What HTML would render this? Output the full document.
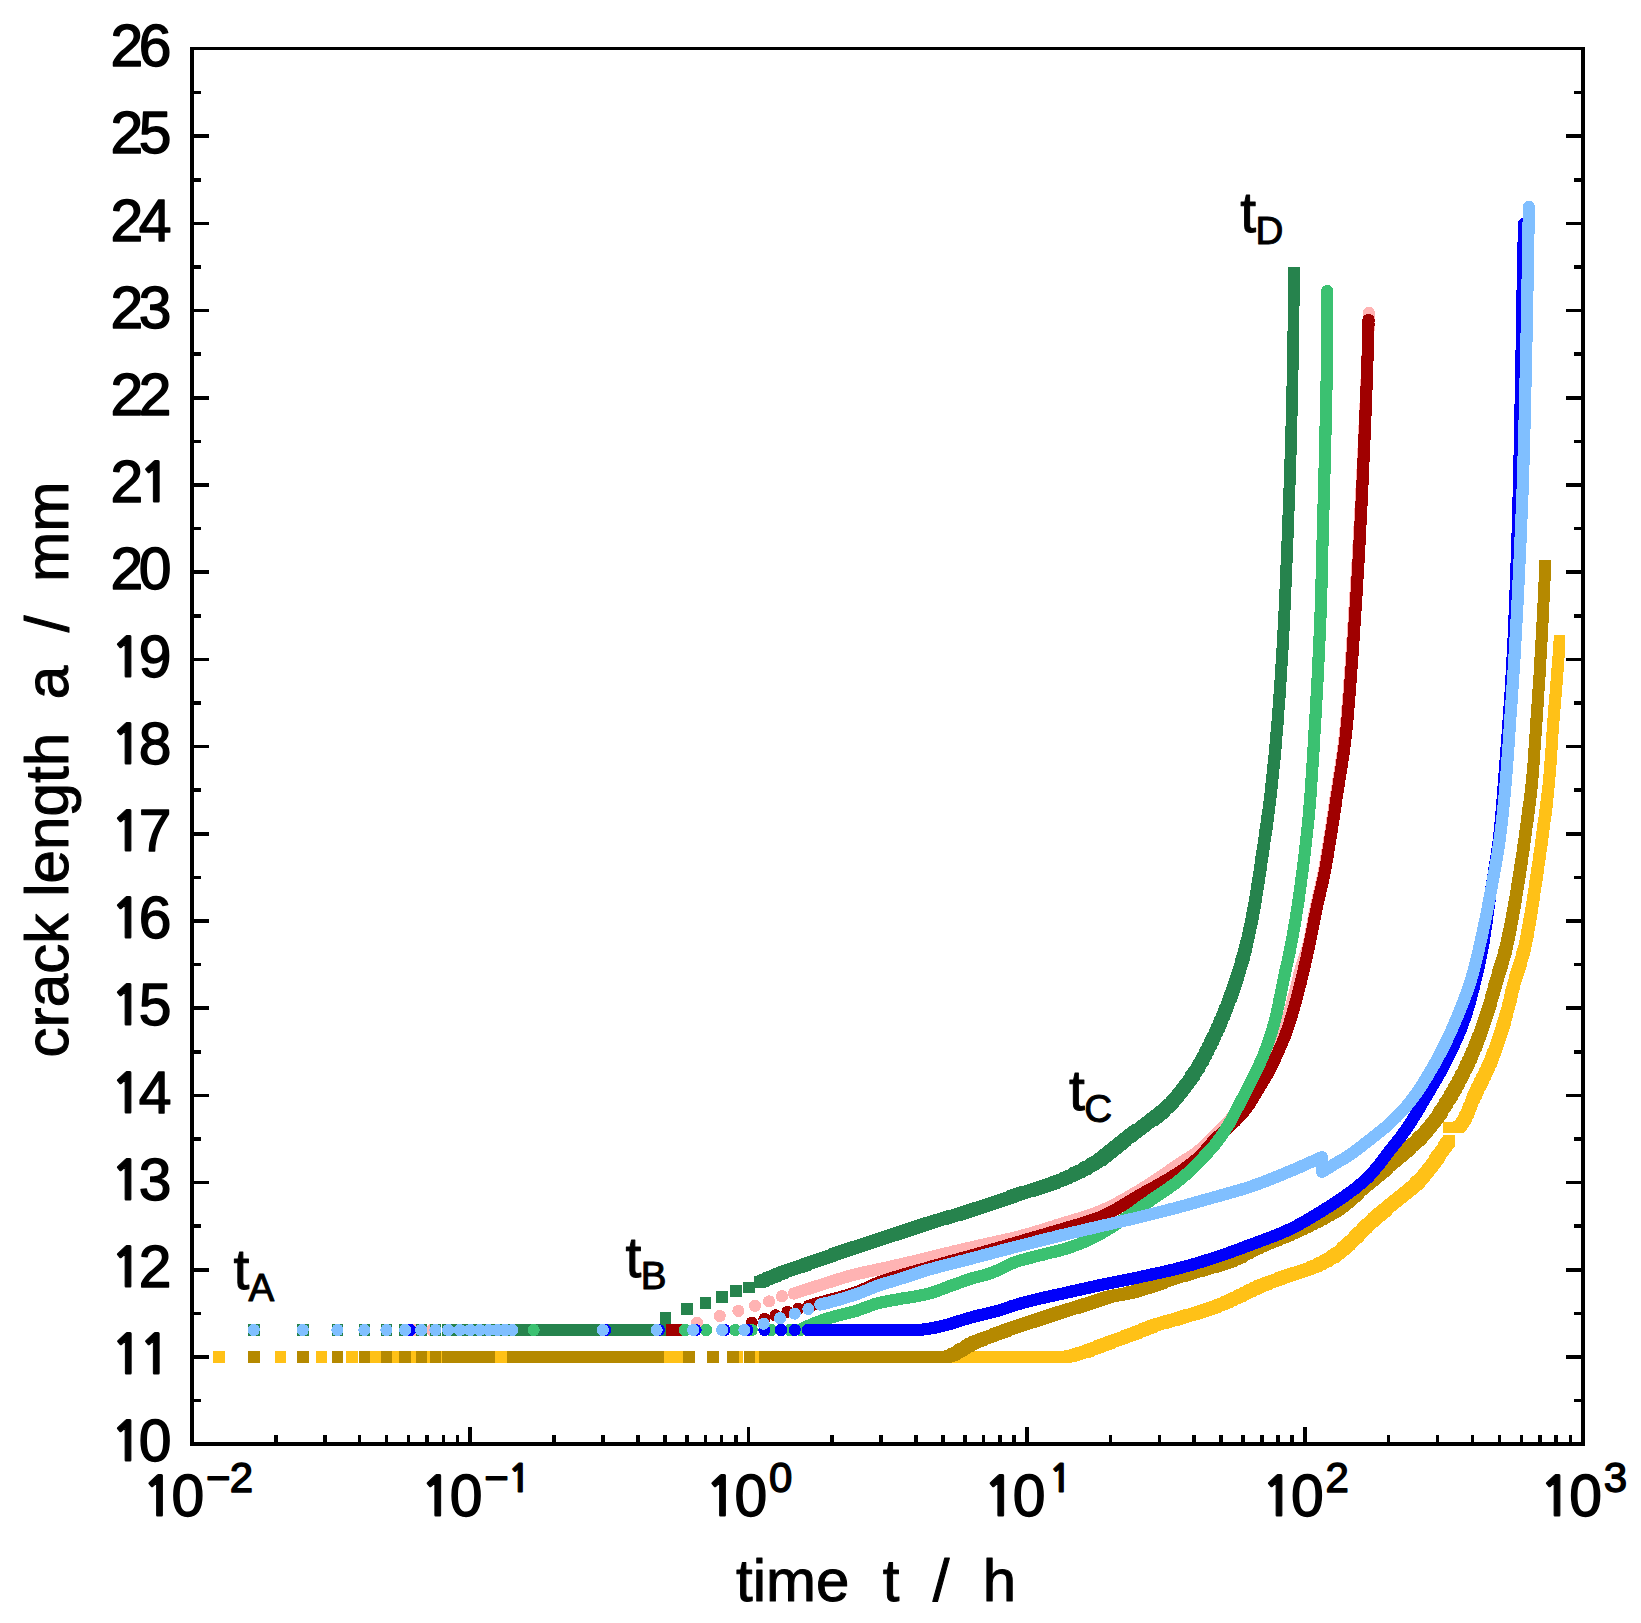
<!DOCTYPE html>
<html lang="en"><head><meta charset="utf-8"><title>crack length vs time</title>
<style>html,body{margin:0;padding:0;background:#fff}svg{display:block}</style></head>
<body>
<svg width="1641" height="1623" viewBox="0 0 1641 1623">
<rect width="1641" height="1623" fill="#fff"/>
<g shape-rendering="crispEdges">
<path d="M213.2,1351.2h11.5v11.5h-11.5zM274.9,1351.2h11.5v11.5h-11.5zM315.6,1351.2h11.5v11.5h-11.5zM346.0,1351.2h11.5v11.5h-11.5zM370.2,1351.2h11.5v11.5h-11.5zM390.4,1351.2h11.5v11.5h-11.5zM407.7,1351.2h11.5v11.5h-11.5zM422.8,1351.2h11.5v11.5h-11.5zM436.2,1351.2h11.5v11.5h-11.5zM448.3,1351.2h11.5v11.5h-11.5zM459.3,1351.2h11.5v11.5h-11.5zM469.4,1351.2h11.5v11.5h-11.5zM478.7,1351.2h11.5v11.5h-11.5zM487.3,1351.2h11.5v11.5h-11.5zM495.4,1351.2h11.5v11.5h-11.5zM502.9,1351.2h11.5v11.5h-11.5zM510.1,1351.2h11.5v11.5h-11.5zM516.8,1351.2h11.5v11.5h-11.5zM523.1,1351.2h11.5v11.5h-11.5zM529.2,1351.2h11.5v11.5h-11.5zM534.9,1351.2h11.5v11.5h-11.5zM540.4,1351.2h11.5v11.5h-11.5zM545.7,1351.2h11.5v11.5h-11.5zM550.7,1351.2h11.5v11.5h-11.5zM555.5,1351.2h11.5v11.5h-11.5zM560.2,1351.2h11.5v11.5h-11.5zM564.7,1351.2h11.5v11.5h-11.5zM569.0,1351.2h11.5v11.5h-11.5zM573.2,1351.2h11.5v11.5h-11.5zM577.2,1351.2h11.5v11.5h-11.5zM581.1,1351.2h11.5v11.5h-11.5zM584.9,1351.2h11.5v11.5h-11.5zM588.5,1351.2h11.5v11.5h-11.5zM592.1,1351.2h11.5v11.5h-11.5zM595.5,1351.2h11.5v11.5h-11.5zM598.9,1351.2h11.5v11.5h-11.5zM602.1,1351.2h11.5v11.5h-11.5zM605.3,1351.2h11.5v11.5h-11.5zM608.4,1351.2h11.5v11.5h-11.5zM611.4,1351.2h11.5v11.5h-11.5zM614.4,1351.2h11.5v11.5h-11.5zM617.3,1351.2h11.5v11.5h-11.5zM620.1,1351.2h11.5v11.5h-11.5zM622.8,1351.2h11.5v11.5h-11.5zM625.5,1351.2h11.5v11.5h-11.5zM628.1,1351.2h11.5v11.5h-11.5zM630.7,1351.2h11.5v11.5h-11.5zM633.2,1351.2h11.5v11.5h-11.5zM635.7,1351.2h11.5v11.5h-11.5zM638.1,1351.2h11.5v11.5h-11.5zM640.5,1351.2h11.5v11.5h-11.5zM642.8,1351.2h11.5v11.5h-11.5zM645.1,1351.2h11.5v11.5h-11.5zM647.3,1351.2h11.5v11.5h-11.5zM649.5,1351.2h11.5v11.5h-11.5zM651.7,1351.2h11.5v11.5h-11.5zM653.8,1351.2h11.5v11.5h-11.5zM655.9,1351.2h11.5v11.5h-11.5zM657.9,1351.2h11.5v11.5h-11.5zM665.0,1351.2h11.5v11.5h-11.5zM671.8,1351.2h11.5v11.5h-11.5zM731.0,1351.2h11.5v11.5h-11.5zM747.5,1351.2h11.5v11.5h-11.5z" fill="#FFC117"/>
<path d="M766.2,1351.2h11.5v11.5h-11.5zM767.9,1351.2h11.5v11.5h-11.5zM769.5,1351.2h11.5v11.5h-11.5zM771.1,1351.2h11.5v11.5h-11.5zM772.7,1351.2h11.5v11.5h-11.5zM774.3,1351.2h11.5v11.5h-11.5zM775.9,1351.2h11.5v11.5h-11.5zM777.5,1351.2h11.5v11.5h-11.5zM779.1,1351.2h11.5v11.5h-11.5zM780.7,1351.2h11.5v11.5h-11.5zM782.3,1351.2h11.5v11.5h-11.5zM783.9,1351.2h11.5v11.5h-11.5zM785.5,1351.2h11.5v11.5h-11.5zM787.1,1351.2h11.5v11.5h-11.5zM788.7,1351.2h11.5v11.5h-11.5zM790.3,1351.2h11.5v11.5h-11.5zM791.9,1351.2h11.5v11.5h-11.5zM793.5,1351.2h11.5v11.5h-11.5zM795.1,1351.2h11.5v11.5h-11.5zM796.7,1351.2h11.5v11.5h-11.5zM798.3,1351.2h11.5v11.5h-11.5zM799.9,1351.2h11.5v11.5h-11.5zM801.5,1351.2h11.5v11.5h-11.5zM803.1,1351.2h11.5v11.5h-11.5zM804.7,1351.2h11.5v11.5h-11.5zM806.3,1351.2h11.5v11.5h-11.5zM807.9,1351.2h11.5v11.5h-11.5zM809.5,1351.2h11.5v11.5h-11.5zM811.1,1351.2h11.5v11.5h-11.5zM812.7,1351.2h11.5v11.5h-11.5zM814.3,1351.2h11.5v11.5h-11.5zM815.9,1351.2h11.5v11.5h-11.5zM817.5,1351.2h11.5v11.5h-11.5zM819.1,1351.2h11.5v11.5h-11.5zM820.7,1351.2h11.5v11.5h-11.5zM822.3,1351.2h11.5v11.5h-11.5zM823.9,1351.2h11.5v11.5h-11.5zM825.5,1351.2h11.5v11.5h-11.5zM827.1,1351.2h11.5v11.5h-11.5zM828.7,1351.2h11.5v11.5h-11.5zM830.3,1351.2h11.5v11.5h-11.5zM831.9,1351.2h11.5v11.5h-11.5zM833.5,1351.2h11.5v11.5h-11.5zM835.1,1351.2h11.5v11.5h-11.5zM836.7,1351.2h11.5v11.5h-11.5zM838.3,1351.2h11.5v11.5h-11.5zM839.9,1351.2h11.5v11.5h-11.5zM841.5,1351.2h11.5v11.5h-11.5zM843.1,1351.2h11.5v11.5h-11.5zM844.7,1351.2h11.5v11.5h-11.5zM846.3,1351.2h11.5v11.5h-11.5zM847.9,1351.2h11.5v11.5h-11.5zM849.5,1351.2h11.5v11.5h-11.5zM851.1,1351.2h11.5v11.5h-11.5zM852.7,1351.2h11.5v11.5h-11.5zM854.3,1351.2h11.5v11.5h-11.5zM855.9,1351.2h11.5v11.5h-11.5zM857.5,1351.2h11.5v11.5h-11.5zM859.1,1351.2h11.5v11.5h-11.5zM860.7,1351.2h11.5v11.5h-11.5zM862.3,1351.2h11.5v11.5h-11.5zM863.9,1351.2h11.5v11.5h-11.5zM865.5,1351.2h11.5v11.5h-11.5zM867.1,1351.2h11.5v11.5h-11.5zM868.7,1351.2h11.5v11.5h-11.5zM870.3,1351.2h11.5v11.5h-11.5zM871.9,1351.2h11.5v11.5h-11.5zM873.5,1351.2h11.5v11.5h-11.5zM875.1,1351.2h11.5v11.5h-11.5zM876.7,1351.2h11.5v11.5h-11.5zM878.3,1351.2h11.5v11.5h-11.5zM879.9,1351.2h11.5v11.5h-11.5zM881.5,1351.2h11.5v11.5h-11.5zM883.1,1351.2h11.5v11.5h-11.5zM884.7,1351.2h11.5v11.5h-11.5zM886.3,1351.2h11.5v11.5h-11.5zM887.9,1351.2h11.5v11.5h-11.5zM889.5,1351.2h11.5v11.5h-11.5zM891.1,1351.2h11.5v11.5h-11.5zM892.7,1351.2h11.5v11.5h-11.5zM894.3,1351.2h11.5v11.5h-11.5zM895.9,1351.2h11.5v11.5h-11.5zM897.5,1351.2h11.5v11.5h-11.5zM899.1,1351.2h11.5v11.5h-11.5zM900.7,1351.2h11.5v11.5h-11.5zM902.3,1351.2h11.5v11.5h-11.5zM903.9,1351.2h11.5v11.5h-11.5zM905.5,1351.2h11.5v11.5h-11.5zM907.1,1351.2h11.5v11.5h-11.5zM908.7,1351.2h11.5v11.5h-11.5zM910.3,1351.2h11.5v11.5h-11.5zM911.9,1351.2h11.5v11.5h-11.5zM913.5,1351.2h11.5v11.5h-11.5zM915.1,1351.2h11.5v11.5h-11.5zM916.7,1351.2h11.5v11.5h-11.5zM918.3,1351.2h11.5v11.5h-11.5zM919.9,1351.2h11.5v11.5h-11.5zM921.5,1351.2h11.5v11.5h-11.5zM923.1,1351.2h11.5v11.5h-11.5zM924.7,1351.2h11.5v11.5h-11.5zM926.3,1351.2h11.5v11.5h-11.5zM927.9,1351.2h11.5v11.5h-11.5zM929.5,1351.2h11.5v11.5h-11.5zM931.1,1351.2h11.5v11.5h-11.5zM932.7,1351.2h11.5v11.5h-11.5zM934.3,1351.2h11.5v11.5h-11.5zM935.9,1351.2h11.5v11.5h-11.5zM937.5,1351.2h11.5v11.5h-11.5zM939.1,1351.2h11.5v11.5h-11.5zM940.7,1351.2h11.5v11.5h-11.5zM942.3,1351.2h11.5v11.5h-11.5zM943.9,1351.2h11.5v11.5h-11.5zM945.5,1351.2h11.5v11.5h-11.5zM947.1,1351.2h11.5v11.5h-11.5zM948.7,1351.2h11.5v11.5h-11.5zM950.3,1351.2h11.5v11.5h-11.5zM951.9,1351.2h11.5v11.5h-11.5zM953.5,1351.2h11.5v11.5h-11.5zM955.1,1351.2h11.5v11.5h-11.5zM956.7,1351.2h11.5v11.5h-11.5zM958.3,1351.2h11.5v11.5h-11.5zM959.9,1351.2h11.5v11.5h-11.5zM961.5,1351.2h11.5v11.5h-11.5zM963.1,1351.2h11.5v11.5h-11.5zM964.7,1351.2h11.5v11.5h-11.5zM966.3,1351.2h11.5v11.5h-11.5zM967.9,1351.2h11.5v11.5h-11.5zM969.5,1351.2h11.5v11.5h-11.5zM971.1,1351.2h11.5v11.5h-11.5zM972.7,1351.2h11.5v11.5h-11.5zM974.3,1351.2h11.5v11.5h-11.5zM975.9,1351.2h11.5v11.5h-11.5zM977.5,1351.2h11.5v11.5h-11.5zM979.1,1351.2h11.5v11.5h-11.5zM980.7,1351.2h11.5v11.5h-11.5zM982.3,1351.2h11.5v11.5h-11.5zM983.9,1351.2h11.5v11.5h-11.5zM985.5,1351.2h11.5v11.5h-11.5zM987.1,1351.2h11.5v11.5h-11.5zM988.7,1351.2h11.5v11.5h-11.5zM990.3,1351.2h11.5v11.5h-11.5zM991.9,1351.2h11.5v11.5h-11.5zM993.5,1351.2h11.5v11.5h-11.5zM995.1,1351.2h11.5v11.5h-11.5zM996.7,1351.2h11.5v11.5h-11.5zM998.3,1351.2h11.5v11.5h-11.5zM999.9,1351.2h11.5v11.5h-11.5zM1001.5,1351.2h11.5v11.5h-11.5zM1003.1,1351.2h11.5v11.5h-11.5zM1004.7,1351.2h11.5v11.5h-11.5zM1006.3,1351.2h11.5v11.5h-11.5zM1007.9,1351.2h11.5v11.5h-11.5zM1009.5,1351.2h11.5v11.5h-11.5zM1011.1,1351.2h11.5v11.5h-11.5zM1012.7,1351.2h11.5v11.5h-11.5zM1014.3,1351.2h11.5v11.5h-11.5zM1015.9,1351.2h11.5v11.5h-11.5zM1017.5,1351.2h11.5v11.5h-11.5zM1019.1,1351.2h11.5v11.5h-11.5zM1020.7,1351.2h11.5v11.5h-11.5zM1022.3,1351.2h11.5v11.5h-11.5zM1023.9,1351.2h11.5v11.5h-11.5zM1025.5,1351.2h11.5v11.5h-11.5zM1027.1,1351.2h11.5v11.5h-11.5zM1028.7,1351.2h11.5v11.5h-11.5zM1030.3,1351.2h11.5v11.5h-11.5zM1031.9,1351.2h11.5v11.5h-11.5zM1033.5,1351.2h11.5v11.5h-11.5zM1035.1,1351.2h11.5v11.5h-11.5zM1036.7,1351.2h11.5v11.5h-11.5zM1038.3,1351.2h11.5v11.5h-11.5zM1039.9,1351.2h11.5v11.5h-11.5zM1041.5,1351.2h11.5v11.5h-11.5zM1043.1,1351.2h11.5v11.5h-11.5zM1044.7,1351.2h11.5v11.5h-11.5zM1046.3,1351.2h11.5v11.5h-11.5zM1047.9,1351.2h11.5v11.5h-11.5zM1049.5,1351.2h11.5v11.5h-11.5zM1051.1,1351.2h11.5v11.5h-11.5zM1052.7,1351.2h11.5v11.5h-11.5zM1054.3,1351.2h11.5v11.5h-11.5zM1055.9,1351.2h11.5v11.5h-11.5zM1057.5,1351.2h11.5v11.5h-11.5zM1059.1,1351.2h11.5v11.5h-11.5zM1060.6,1351.0h11.5v11.5h-11.5zM1062.2,1350.7h11.5v11.5h-11.5zM1063.8,1350.4h11.5v11.5h-11.5zM1065.4,1350.1h11.5v11.5h-11.5zM1066.9,1349.6h11.5v11.5h-11.5zM1068.5,1349.2h11.5v11.5h-11.5zM1070.0,1348.7h11.5v11.5h-11.5zM1071.6,1348.3h11.5v11.5h-11.5zM1073.1,1347.8h11.5v11.5h-11.5zM1074.7,1347.3h11.5v11.5h-11.5zM1076.2,1346.9h11.5v11.5h-11.5zM1077.7,1346.5h11.5v11.5h-11.5zM1079.3,1346.0h11.5v11.5h-11.5zM1080.8,1345.5h11.5v11.5h-11.5zM1082.3,1345.0h11.5v11.5h-11.5zM1083.8,1344.4h11.5v11.5h-11.5zM1085.3,1343.9h11.5v11.5h-11.5zM1086.8,1343.3h11.5v11.5h-11.5zM1088.3,1342.8h11.5v11.5h-11.5zM1089.8,1342.2h11.5v11.5h-11.5zM1091.3,1341.6h11.5v11.5h-11.5zM1092.8,1341.0h11.5v11.5h-11.5zM1094.3,1340.4h11.5v11.5h-11.5zM1095.8,1339.8h11.5v11.5h-11.5zM1097.3,1339.2h11.5v11.5h-11.5zM1098.8,1338.7h11.5v11.5h-11.5zM1100.2,1338.1h11.5v11.5h-11.5zM1101.7,1337.5h11.5v11.5h-11.5zM1103.3,1337.0h11.5v11.5h-11.5zM1104.8,1336.4h11.5v11.5h-11.5zM1106.3,1335.9h11.5v11.5h-11.5zM1107.8,1335.3h11.5v11.5h-11.5zM1109.3,1334.8h11.5v11.5h-11.5zM1110.8,1334.2h11.5v11.5h-11.5zM1112.3,1333.7h11.5v11.5h-11.5zM1113.8,1333.1h11.5v11.5h-11.5zM1115.3,1332.6h11.5v11.5h-11.5zM1116.8,1332.0h11.5v11.5h-11.5zM1118.3,1331.5h11.5v11.5h-11.5zM1119.8,1330.9h11.5v11.5h-11.5zM1121.3,1330.4h11.5v11.5h-11.5zM1122.8,1329.8h11.5v11.5h-11.5zM1124.3,1329.3h11.5v11.5h-11.5zM1125.8,1328.7h11.5v11.5h-11.5zM1127.3,1328.1h11.5v11.5h-11.5zM1128.8,1327.6h11.5v11.5h-11.5zM1130.3,1327.0h11.5v11.5h-11.5zM1131.8,1326.4h11.5v11.5h-11.5zM1133.3,1325.8h11.5v11.5h-11.5zM1134.7,1325.2h11.5v11.5h-11.5zM1136.2,1324.6h11.5v11.5h-11.5zM1137.7,1324.0h11.5v11.5h-11.5zM1139.2,1323.4h11.5v11.5h-11.5zM1140.6,1322.7h11.5v11.5h-11.5zM1142.1,1322.1h11.5v11.5h-11.5zM1143.6,1321.5h11.5v11.5h-11.5zM1145.1,1321.0h11.5v11.5h-11.5zM1146.6,1320.4h11.5v11.5h-11.5zM1148.1,1319.9h11.5v11.5h-11.5zM1149.6,1319.4h11.5v11.5h-11.5zM1151.1,1318.9h11.5v11.5h-11.5zM1152.7,1318.4h11.5v11.5h-11.5zM1154.2,1317.9h11.5v11.5h-11.5zM1155.7,1317.5h11.5v11.5h-11.5zM1157.3,1317.0h11.5v11.5h-11.5zM1158.8,1316.6h11.5v11.5h-11.5zM1160.3,1316.1h11.5v11.5h-11.5zM1161.9,1315.7h11.5v11.5h-11.5zM1163.4,1315.3h11.5v11.5h-11.5zM1165.0,1314.9h11.5v11.5h-11.5zM1166.5,1314.4h11.5v11.5h-11.5zM1168.1,1314.0h11.5v11.5h-11.5zM1169.6,1313.6h11.5v11.5h-11.5zM1171.1,1313.1h11.5v11.5h-11.5zM1172.7,1312.7h11.5v11.5h-11.5zM1174.2,1312.2h11.5v11.5h-11.5zM1175.7,1311.7h11.5v11.5h-11.5zM1177.3,1311.3h11.5v11.5h-11.5zM1178.8,1310.8h11.5v11.5h-11.5zM1180.3,1310.3h11.5v11.5h-11.5zM1181.9,1309.9h11.5v11.5h-11.5zM1183.4,1309.4h11.5v11.5h-11.5zM1184.9,1309.0h11.5v11.5h-11.5zM1186.5,1308.5h11.5v11.5h-11.5zM1188.0,1308.0h11.5v11.5h-11.5zM1189.5,1307.6h11.5v11.5h-11.5zM1191.1,1307.1h11.5v11.5h-11.5zM1192.6,1306.6h11.5v11.5h-11.5zM1194.1,1306.1h11.5v11.5h-11.5zM1195.7,1305.6h11.5v11.5h-11.5zM1197.2,1305.2h11.5v11.5h-11.5zM1198.7,1304.7h11.5v11.5h-11.5zM1200.2,1304.2h11.5v11.5h-11.5zM1201.8,1303.7h11.5v11.5h-11.5zM1203.3,1303.1h11.5v11.5h-11.5zM1204.8,1302.6h11.5v11.5h-11.5zM1206.3,1302.1h11.5v11.5h-11.5zM1207.8,1301.6h11.5v11.5h-11.5zM1209.3,1301.0h11.5v11.5h-11.5zM1210.8,1300.5h11.5v11.5h-11.5zM1212.3,1299.9h11.5v11.5h-11.5zM1213.8,1299.4h11.5v11.5h-11.5zM1215.2,1298.8h11.5v11.5h-11.5zM1216.7,1298.2h11.5v11.5h-11.5zM1218.2,1297.5h11.5v11.5h-11.5zM1219.7,1296.9h11.5v11.5h-11.5zM1221.1,1296.3h11.5v11.5h-11.5zM1222.6,1295.6h11.5v11.5h-11.5zM1224.0,1294.9h11.5v11.5h-11.5zM1225.5,1294.3h11.5v11.5h-11.5zM1226.9,1293.6h11.5v11.5h-11.5zM1228.4,1292.9h11.5v11.5h-11.5zM1229.8,1292.2h11.5v11.5h-11.5zM1231.3,1291.5h11.5v11.5h-11.5zM1232.7,1290.8h11.5v11.5h-11.5zM1234.1,1290.1h11.5v11.5h-11.5zM1235.6,1289.4h11.5v11.5h-11.5zM1237.0,1288.7h11.5v11.5h-11.5zM1238.5,1287.9h11.5v11.5h-11.5zM1239.9,1287.2h11.5v11.5h-11.5zM1241.3,1286.5h11.5v11.5h-11.5zM1242.8,1285.8h11.5v11.5h-11.5zM1244.2,1285.1h11.5v11.5h-11.5zM1245.7,1284.4h11.5v11.5h-11.5zM1247.1,1283.7h11.5v11.5h-11.5zM1248.6,1283.1h11.5v11.5h-11.5zM1250.0,1282.4h11.5v11.5h-11.5zM1251.5,1281.7h11.5v11.5h-11.5zM1252.9,1281.1h11.5v11.5h-11.5zM1254.4,1280.4h11.5v11.5h-11.5zM1255.9,1279.8h11.5v11.5h-11.5zM1257.4,1279.2h11.5v11.5h-11.5zM1258.8,1278.6h11.5v11.5h-11.5zM1260.3,1278.0h11.5v11.5h-11.5zM1261.8,1277.4h11.5v11.5h-11.5zM1263.3,1276.9h11.5v11.5h-11.5zM1264.8,1276.3h11.5v11.5h-11.5zM1266.3,1275.7h11.5v11.5h-11.5zM1267.8,1275.2h11.5v11.5h-11.5zM1269.3,1274.6h11.5v11.5h-11.5zM1270.8,1274.1h11.5v11.5h-11.5zM1272.3,1273.5h11.5v11.5h-11.5zM1273.8,1273.0h11.5v11.5h-11.5zM1275.3,1272.4h11.5v11.5h-11.5zM1276.8,1271.9h11.5v11.5h-11.5zM1278.3,1271.4h11.5v11.5h-11.5zM1279.9,1270.8h11.5v11.5h-11.5zM1281.4,1270.3h11.5v11.5h-11.5zM1282.9,1269.8h11.5v11.5h-11.5zM1284.4,1269.2h11.5v11.5h-11.5zM1285.9,1268.7h11.5v11.5h-11.5zM1287.4,1268.1h11.5v11.5h-11.5zM1288.9,1267.6h11.5v11.5h-11.5zM1290.4,1267.1h11.5v11.5h-11.5zM1292.0,1266.6h11.5v11.5h-11.5zM1293.5,1266.1h11.5v11.5h-11.5zM1295.0,1265.6h11.5v11.5h-11.5zM1296.5,1265.1h11.5v11.5h-11.5zM1298.1,1264.6h11.5v11.5h-11.5zM1299.6,1264.1h11.5v11.5h-11.5zM1301.1,1263.6h11.5v11.5h-11.5zM1302.6,1263.0h11.5v11.5h-11.5zM1304.1,1262.5h11.5v11.5h-11.5zM1305.6,1261.9h11.5v11.5h-11.5zM1307.1,1261.3h11.5v11.5h-11.5zM1308.6,1260.7h11.5v11.5h-11.5zM1310.0,1260.1h11.5v11.5h-11.5zM1311.5,1259.5h11.5v11.5h-11.5zM1312.9,1258.8h11.5v11.5h-11.5zM1314.4,1258.1h11.5v11.5h-11.5zM1315.8,1257.4h11.5v11.5h-11.5zM1317.3,1256.7h11.5v11.5h-11.5zM1318.7,1255.9h11.5v11.5h-11.5zM1320.1,1255.2h11.5v11.5h-11.5zM1321.5,1254.4h11.5v11.5h-11.5zM1322.9,1253.6h11.5v11.5h-11.5zM1324.3,1252.8h11.5v11.5h-11.5zM1325.7,1251.9h11.5v11.5h-11.5zM1327.0,1251.1h11.5v11.5h-11.5zM1328.3,1250.2h11.5v11.5h-11.5zM1329.6,1249.3h11.5v11.5h-11.5zM1330.9,1248.4h11.5v11.5h-11.5zM1332.2,1247.5h11.5v11.5h-11.5zM1333.4,1246.5h11.5v11.5h-11.5zM1334.7,1245.5h11.5v11.5h-11.5zM1335.9,1244.5h11.5v11.5h-11.5zM1337.1,1243.4h11.5v11.5h-11.5zM1338.3,1242.3h11.5v11.5h-11.5zM1339.5,1241.3h11.5v11.5h-11.5zM1340.7,1240.2h11.5v11.5h-11.5zM1341.9,1239.1h11.5v11.5h-11.5zM1343.1,1238.0h11.5v11.5h-11.5zM1344.3,1236.9h11.5v11.5h-11.5zM1345.4,1235.8h11.5v11.5h-11.5zM1346.6,1234.6h11.5v11.5h-11.5zM1347.7,1233.5h11.5v11.5h-11.5zM1348.9,1232.4h11.5v11.5h-11.5zM1350.0,1231.3h11.5v11.5h-11.5zM1351.1,1230.2h11.5v11.5h-11.5zM1352.2,1229.0h11.5v11.5h-11.5zM1353.3,1227.8h11.5v11.5h-11.5zM1354.4,1226.6h11.5v11.5h-11.5zM1355.5,1225.5h11.5v11.5h-11.5zM1356.6,1224.3h11.5v11.5h-11.5zM1357.8,1223.2h11.5v11.5h-11.5zM1358.9,1222.1h11.5v11.5h-11.5zM1360.1,1221.0h11.5v11.5h-11.5zM1361.3,1219.9h11.5v11.5h-11.5zM1362.4,1218.8h11.5v11.5h-11.5zM1363.6,1217.7h11.5v11.5h-11.5zM1364.8,1216.7h11.5v11.5h-11.5zM1366.0,1215.6h11.5v11.5h-11.5zM1367.1,1214.5h11.5v11.5h-11.5zM1368.3,1213.4h11.5v11.5h-11.5zM1369.5,1212.4h11.5v11.5h-11.5zM1370.7,1211.3h11.5v11.5h-11.5zM1371.9,1210.3h11.5v11.5h-11.5zM1373.2,1209.2h11.5v11.5h-11.5zM1374.4,1208.2h11.5v11.5h-11.5zM1375.6,1207.1h11.5v11.5h-11.5zM1376.8,1206.1h11.5v11.5h-11.5zM1378.0,1205.0h11.5v11.5h-11.5zM1379.2,1204.0h11.5v11.5h-11.5zM1380.5,1203.0h11.5v11.5h-11.5zM1381.7,1201.9h11.5v11.5h-11.5zM1382.9,1200.9h11.5v11.5h-11.5zM1384.1,1199.9h11.5v11.5h-11.5zM1385.4,1198.8h11.5v11.5h-11.5zM1386.6,1197.8h11.5v11.5h-11.5zM1387.8,1196.8h11.5v11.5h-11.5zM1389.0,1195.8h11.5v11.5h-11.5zM1390.3,1194.8h11.5v11.5h-11.5zM1391.6,1193.8h11.5v11.5h-11.5zM1392.8,1192.8h11.5v11.5h-11.5zM1394.1,1191.8h11.5v11.5h-11.5zM1395.3,1190.8h11.5v11.5h-11.5zM1396.6,1189.8h11.5v11.5h-11.5zM1397.9,1188.8h11.5v11.5h-11.5zM1399.1,1187.9h11.5v11.5h-11.5zM1400.4,1186.8h11.5v11.5h-11.5zM1401.6,1185.8h11.5v11.5h-11.5zM1402.8,1184.8h11.5v11.5h-11.5zM1404.0,1183.7h11.5v11.5h-11.5zM1405.2,1182.7h11.5v11.5h-11.5zM1406.4,1181.6h11.5v11.5h-11.5zM1407.7,1180.6h11.5v11.5h-11.5zM1408.8,1179.5h11.5v11.5h-11.5zM1410.0,1178.4h11.5v11.5h-11.5zM1411.2,1177.3h11.5v11.5h-11.5zM1412.3,1176.2h11.5v11.5h-11.5zM1413.5,1175.1h11.5v11.5h-11.5zM1414.6,1173.9h11.5v11.5h-11.5zM1415.6,1172.8h11.5v11.5h-11.5zM1416.7,1171.6h11.5v11.5h-11.5zM1417.7,1170.4h11.5v11.5h-11.5zM1418.8,1169.1h11.5v11.5h-11.5zM1419.8,1167.9h11.5v11.5h-11.5zM1420.8,1166.6h11.5v11.5h-11.5zM1421.8,1165.4h11.5v11.5h-11.5zM1422.7,1164.1h11.5v11.5h-11.5zM1423.7,1162.8h11.5v11.5h-11.5zM1424.7,1161.5h11.5v11.5h-11.5zM1425.6,1160.2h11.5v11.5h-11.5zM1426.6,1159.0h11.5v11.5h-11.5zM1427.5,1157.7h11.5v11.5h-11.5zM1428.5,1156.4h11.5v11.5h-11.5zM1429.4,1155.1h11.5v11.5h-11.5zM1430.3,1153.8h11.5v11.5h-11.5zM1431.2,1152.4h11.5v11.5h-11.5zM1432.1,1151.1h11.5v11.5h-11.5zM1433.0,1149.8h11.5v11.5h-11.5zM1433.9,1148.5h11.5v11.5h-11.5zM1434.8,1147.1h11.5v11.5h-11.5zM1435.7,1145.8h11.5v11.5h-11.5zM1436.6,1144.5h11.5v11.5h-11.5zM1437.5,1143.1h11.5v11.5h-11.5zM1438.4,1141.8h11.5v11.5h-11.5zM1439.3,1140.5h11.5v11.5h-11.5zM1440.2,1139.2h11.5v11.5h-11.5zM1441.1,1137.9h11.5v11.5h-11.5zM1442.0,1136.6h11.5v11.5h-11.5zM1443.0,1135.3h11.5v11.5h-11.5z" fill="#FFC117"/>
<path d="M1443.2,1121.5h11.5v11.5h-11.5zM1445.1,1121.5h11.5v11.5h-11.5zM1446.9,1121.5h11.5v11.5h-11.5zM1448.5,1121.5h11.5v11.5h-11.5zM1450.1,1121.5h11.5v11.5h-11.5zM1451.5,1121.5h11.5v11.5h-11.5zM1452.7,1121.4h11.5v11.5h-11.5zM1453.9,1120.9h11.5v11.5h-11.5zM1454.9,1119.8h11.5v11.5h-11.5zM1455.9,1118.4h11.5v11.5h-11.5zM1456.9,1116.8h11.5v11.5h-11.5zM1457.8,1115.1h11.5v11.5h-11.5zM1458.6,1113.5h11.5v11.5h-11.5zM1459.4,1112.0h11.5v11.5h-11.5zM1460.1,1110.7h11.5v11.5h-11.5zM1460.8,1109.2h11.5v11.5h-11.5zM1461.5,1107.8h11.5v11.5h-11.5zM1462.1,1106.3h11.5v11.5h-11.5zM1462.7,1104.9h11.5v11.5h-11.5zM1463.3,1103.4h11.5v11.5h-11.5zM1463.9,1101.9h11.5v11.5h-11.5zM1464.5,1100.3h11.5v11.5h-11.5zM1465.0,1098.8h11.5v11.5h-11.5zM1465.6,1097.3h11.5v11.5h-11.5zM1466.2,1095.8h11.5v11.5h-11.5zM1466.8,1094.3h11.5v11.5h-11.5zM1467.4,1092.8h11.5v11.5h-11.5zM1468.1,1091.4h11.5v11.5h-11.5zM1468.7,1089.9h11.5v11.5h-11.5zM1469.4,1088.5h11.5v11.5h-11.5zM1470.1,1087.0h11.5v11.5h-11.5zM1470.8,1085.6h11.5v11.5h-11.5zM1471.4,1084.1h11.5v11.5h-11.5zM1472.1,1082.7h11.5v11.5h-11.5zM1472.8,1081.2h11.5v11.5h-11.5zM1473.5,1079.8h11.5v11.5h-11.5zM1474.3,1078.3h11.5v11.5h-11.5zM1475.0,1076.9h11.5v11.5h-11.5zM1475.7,1075.5h11.5v11.5h-11.5zM1476.4,1074.0h11.5v11.5h-11.5zM1477.1,1072.6h11.5v11.5h-11.5zM1477.8,1071.1h11.5v11.5h-11.5zM1478.5,1069.7h11.5v11.5h-11.5zM1479.2,1068.2h11.5v11.5h-11.5zM1479.9,1066.8h11.5v11.5h-11.5zM1480.6,1065.3h11.5v11.5h-11.5zM1481.2,1063.9h11.5v11.5h-11.5zM1481.9,1062.4h11.5v11.5h-11.5zM1482.6,1061.0h11.5v11.5h-11.5zM1483.2,1059.5h11.5v11.5h-11.5zM1483.8,1058.1h11.5v11.5h-11.5zM1484.5,1056.6h11.5v11.5h-11.5zM1485.1,1055.1h11.5v11.5h-11.5zM1485.7,1053.6h11.5v11.5h-11.5zM1486.2,1052.2h11.5v11.5h-11.5zM1486.8,1050.7h11.5v11.5h-11.5zM1487.4,1049.2h11.5v11.5h-11.5zM1487.9,1047.7h11.5v11.5h-11.5zM1488.5,1046.2h11.5v11.5h-11.5zM1489.1,1044.7h11.5v11.5h-11.5zM1489.6,1043.2h11.5v11.5h-11.5zM1490.1,1041.7h11.5v11.5h-11.5zM1490.7,1040.2h11.5v11.5h-11.5zM1491.2,1038.6h11.5v11.5h-11.5zM1491.7,1037.1h11.5v11.5h-11.5zM1492.2,1035.6h11.5v11.5h-11.5zM1492.8,1034.1h11.5v11.5h-11.5zM1493.3,1032.6h11.5v11.5h-11.5zM1493.8,1031.0h11.5v11.5h-11.5zM1494.3,1029.5h11.5v11.5h-11.5zM1494.8,1028.0h11.5v11.5h-11.5zM1495.3,1026.5h11.5v11.5h-11.5zM1495.7,1024.9h11.5v11.5h-11.5zM1496.2,1023.4h11.5v11.5h-11.5zM1496.7,1021.9h11.5v11.5h-11.5zM1497.2,1020.3h11.5v11.5h-11.5zM1497.6,1018.8h11.5v11.5h-11.5zM1498.1,1017.3h11.5v11.5h-11.5zM1498.5,1015.7h11.5v11.5h-11.5zM1499.0,1014.2h11.5v11.5h-11.5zM1499.4,1012.7h11.5v11.5h-11.5zM1499.9,1011.1h11.5v11.5h-11.5zM1500.3,1009.6h11.5v11.5h-11.5zM1500.7,1008.0h11.5v11.5h-11.5zM1501.1,1006.5h11.5v11.5h-11.5zM1501.5,1005.0h11.5v11.5h-11.5zM1501.9,1003.4h11.5v11.5h-11.5zM1502.3,1001.9h11.5v11.5h-11.5zM1502.7,1000.3h11.5v11.5h-11.5zM1503.1,998.7h11.5v11.5h-11.5zM1503.5,997.2h11.5v11.5h-11.5zM1503.9,995.6h11.5v11.5h-11.5zM1504.3,994.1h11.5v11.5h-11.5zM1504.6,992.5h11.5v11.5h-11.5zM1505.0,991.0h11.5v11.5h-11.5zM1505.4,989.4h11.5v11.5h-11.5zM1505.8,987.9h11.5v11.5h-11.5zM1506.2,986.3h11.5v11.5h-11.5zM1506.5,984.7h11.5v11.5h-11.5zM1506.9,983.2h11.5v11.5h-11.5zM1507.3,981.6h11.5v11.5h-11.5zM1507.7,980.1h11.5v11.5h-11.5zM1508.1,978.5h11.5v11.5h-11.5zM1508.5,977.0h11.5v11.5h-11.5zM1508.9,975.4h11.5v11.5h-11.5zM1509.3,973.9h11.5v11.5h-11.5zM1509.8,972.3h11.5v11.5h-11.5zM1510.2,970.8h11.5v11.5h-11.5zM1510.7,969.3h11.5v11.5h-11.5zM1511.1,967.7h11.5v11.5h-11.5zM1511.6,966.2h11.5v11.5h-11.5zM1512.1,964.7h11.5v11.5h-11.5zM1512.6,963.1h11.5v11.5h-11.5zM1513.1,961.6h11.5v11.5h-11.5zM1513.5,960.1h11.5v11.5h-11.5zM1514.0,958.5h11.5v11.5h-11.5zM1514.5,957.0h11.5v11.5h-11.5zM1515.0,955.5h11.5v11.5h-11.5zM1515.5,954.0h11.5v11.5h-11.5zM1515.9,952.4h11.5v11.5h-11.5zM1516.4,950.9h11.5v11.5h-11.5zM1516.8,949.4h11.5v11.5h-11.5zM1517.2,947.8h11.5v11.5h-11.5zM1517.7,946.3h11.5v11.5h-11.5zM1518.1,944.7h11.5v11.5h-11.5zM1518.5,943.2h11.5v11.5h-11.5zM1518.8,941.6h11.5v11.5h-11.5zM1519.2,940.1h11.5v11.5h-11.5zM1519.5,938.5h11.5v11.5h-11.5zM1519.9,937.0h11.5v11.5h-11.5zM1520.2,935.4h11.5v11.5h-11.5zM1520.5,933.8h11.5v11.5h-11.5zM1520.8,932.3h11.5v11.5h-11.5zM1521.1,930.7h11.5v11.5h-11.5zM1521.4,929.1h11.5v11.5h-11.5zM1521.7,927.6h11.5v11.5h-11.5zM1522.0,926.0h11.5v11.5h-11.5zM1522.3,924.4h11.5v11.5h-11.5zM1522.6,922.8h11.5v11.5h-11.5zM1522.9,921.3h11.5v11.5h-11.5zM1523.2,919.7h11.5v11.5h-11.5zM1523.4,918.1h11.5v11.5h-11.5zM1523.7,916.5h11.5v11.5h-11.5zM1524.0,914.9h11.5v11.5h-11.5zM1524.2,913.4h11.5v11.5h-11.5zM1524.5,911.8h11.5v11.5h-11.5zM1524.7,910.2h11.5v11.5h-11.5zM1525.0,908.6h11.5v11.5h-11.5zM1525.3,907.0h11.5v11.5h-11.5zM1525.5,905.4h11.5v11.5h-11.5zM1525.8,903.9h11.5v11.5h-11.5zM1526.0,902.3h11.5v11.5h-11.5zM1526.2,900.7h11.5v11.5h-11.5zM1526.5,899.1h11.5v11.5h-11.5zM1526.7,897.5h11.5v11.5h-11.5zM1527.0,895.9h11.5v11.5h-11.5zM1527.2,894.3h11.5v11.5h-11.5zM1527.5,892.8h11.5v11.5h-11.5zM1527.7,891.2h11.5v11.5h-11.5zM1528.0,889.6h11.5v11.5h-11.5zM1528.2,888.0h11.5v11.5h-11.5zM1528.5,886.4h11.5v11.5h-11.5zM1528.7,884.8h11.5v11.5h-11.5zM1528.9,883.3h11.5v11.5h-11.5zM1529.2,881.7h11.5v11.5h-11.5zM1529.4,880.1h11.5v11.5h-11.5zM1529.7,878.5h11.5v11.5h-11.5zM1529.9,876.9h11.5v11.5h-11.5zM1530.2,875.4h11.5v11.5h-11.5zM1530.4,873.8h11.5v11.5h-11.5zM1530.6,872.2h11.5v11.5h-11.5zM1530.9,870.6h11.5v11.5h-11.5zM1531.1,869.0h11.5v11.5h-11.5zM1531.3,867.4h11.5v11.5h-11.5zM1531.6,865.9h11.5v11.5h-11.5zM1531.8,864.3h11.5v11.5h-11.5zM1532.0,862.7h11.5v11.5h-11.5zM1532.2,861.1h11.5v11.5h-11.5zM1532.5,859.5h11.5v11.5h-11.5zM1532.7,857.9h11.5v11.5h-11.5zM1532.9,856.3h11.5v11.5h-11.5zM1533.2,854.8h11.5v11.5h-11.5zM1533.4,853.2h11.5v11.5h-11.5zM1533.6,851.6h11.5v11.5h-11.5zM1533.8,850.0h11.5v11.5h-11.5zM1534.0,848.4h11.5v11.5h-11.5zM1534.3,846.8h11.5v11.5h-11.5zM1534.5,845.2h11.5v11.5h-11.5zM1534.7,843.7h11.5v11.5h-11.5zM1534.9,842.1h11.5v11.5h-11.5zM1535.1,840.5h11.5v11.5h-11.5zM1535.3,838.9h11.5v11.5h-11.5zM1535.5,837.3h11.5v11.5h-11.5zM1535.8,835.7h11.5v11.5h-11.5zM1536.0,834.1h11.5v11.5h-11.5zM1536.2,832.5h11.5v11.5h-11.5zM1536.4,831.0h11.5v11.5h-11.5zM1536.6,829.4h11.5v11.5h-11.5zM1536.8,827.8h11.5v11.5h-11.5zM1537.0,826.2h11.5v11.5h-11.5zM1537.2,824.6h11.5v11.5h-11.5zM1537.4,823.0h11.5v11.5h-11.5zM1537.7,821.4h11.5v11.5h-11.5zM1537.9,819.8h11.5v11.5h-11.5zM1538.1,818.3h11.5v11.5h-11.5zM1538.3,816.7h11.5v11.5h-11.5zM1538.5,815.1h11.5v11.5h-11.5zM1538.7,813.5h11.5v11.5h-11.5zM1538.9,811.9h11.5v11.5h-11.5zM1539.1,810.3h11.5v11.5h-11.5zM1539.4,808.7h11.5v11.5h-11.5zM1539.6,807.1h11.5v11.5h-11.5zM1539.8,805.6h11.5v11.5h-11.5zM1540.0,804.0h11.5v11.5h-11.5zM1540.2,802.4h11.5v11.5h-11.5zM1540.4,800.8h11.5v11.5h-11.5zM1540.6,799.2h11.5v11.5h-11.5zM1540.8,797.6h11.5v11.5h-11.5zM1541.0,796.0h11.5v11.5h-11.5zM1541.2,794.4h11.5v11.5h-11.5zM1541.4,792.8h11.5v11.5h-11.5zM1541.6,791.3h11.5v11.5h-11.5zM1541.7,789.7h11.5v11.5h-11.5zM1541.9,788.1h11.5v11.5h-11.5zM1542.1,786.5h11.5v11.5h-11.5zM1542.3,784.9h11.5v11.5h-11.5zM1542.5,783.3h11.5v11.5h-11.5zM1542.6,781.7h11.5v11.5h-11.5zM1542.8,780.1h11.5v11.5h-11.5zM1542.9,778.5h11.5v11.5h-11.5zM1543.1,776.9h11.5v11.5h-11.5zM1543.2,775.3h11.5v11.5h-11.5zM1543.4,773.8h11.5v11.5h-11.5zM1543.5,772.2h11.5v11.5h-11.5zM1543.7,770.6h11.5v11.5h-11.5zM1543.8,769.0h11.5v11.5h-11.5zM1543.9,767.4h11.5v11.5h-11.5zM1544.1,765.8h11.5v11.5h-11.5zM1544.2,764.2h11.5v11.5h-11.5zM1544.3,762.6h11.5v11.5h-11.5zM1544.4,761.0h11.5v11.5h-11.5zM1544.6,759.4h11.5v11.5h-11.5zM1544.7,757.8h11.5v11.5h-11.5zM1544.8,756.2h11.5v11.5h-11.5zM1544.9,754.6h11.5v11.5h-11.5zM1545.0,753.0h11.5v11.5h-11.5zM1545.1,751.4h11.5v11.5h-11.5zM1545.2,749.8h11.5v11.5h-11.5zM1545.4,748.2h11.5v11.5h-11.5zM1545.5,746.6h11.5v11.5h-11.5zM1545.6,745.0h11.5v11.5h-11.5zM1545.7,743.4h11.5v11.5h-11.5zM1545.8,741.8h11.5v11.5h-11.5zM1545.9,740.2h11.5v11.5h-11.5zM1546.0,738.6h11.5v11.5h-11.5zM1546.1,737.0h11.5v11.5h-11.5zM1546.2,735.4h11.5v11.5h-11.5zM1546.3,733.8h11.5v11.5h-11.5zM1546.4,732.2h11.5v11.5h-11.5zM1546.5,730.6h11.5v11.5h-11.5zM1546.6,729.0h11.5v11.5h-11.5zM1546.7,727.4h11.5v11.5h-11.5zM1546.8,725.8h11.5v11.5h-11.5zM1546.9,724.2h11.5v11.5h-11.5zM1547.1,722.6h11.5v11.5h-11.5zM1547.2,721.1h11.5v11.5h-11.5zM1547.3,719.5h11.5v11.5h-11.5zM1547.4,717.9h11.5v11.5h-11.5zM1547.5,716.3h11.5v11.5h-11.5zM1547.6,714.7h11.5v11.5h-11.5zM1547.8,713.1h11.5v11.5h-11.5zM1547.9,711.5h11.5v11.5h-11.5zM1548.0,709.9h11.5v11.5h-11.5zM1548.1,708.3h11.5v11.5h-11.5zM1548.3,706.7h11.5v11.5h-11.5zM1548.4,705.1h11.5v11.5h-11.5zM1548.5,703.5h11.5v11.5h-11.5zM1548.7,701.9h11.5v11.5h-11.5zM1548.8,700.3h11.5v11.5h-11.5zM1548.9,698.7h11.5v11.5h-11.5zM1549.1,697.1h11.5v11.5h-11.5zM1549.2,695.5h11.5v11.5h-11.5zM1549.3,693.9h11.5v11.5h-11.5zM1549.5,692.3h11.5v11.5h-11.5zM1549.6,690.7h11.5v11.5h-11.5zM1549.7,689.1h11.5v11.5h-11.5zM1549.9,687.5h11.5v11.5h-11.5zM1550.0,685.9h11.5v11.5h-11.5zM1550.1,684.3h11.5v11.5h-11.5zM1550.3,682.8h11.5v11.5h-11.5zM1550.4,681.2h11.5v11.5h-11.5zM1550.5,679.6h11.5v11.5h-11.5zM1550.7,678.0h11.5v11.5h-11.5zM1550.8,676.4h11.5v11.5h-11.5zM1550.9,674.8h11.5v11.5h-11.5zM1551.1,673.2h11.5v11.5h-11.5zM1551.2,671.6h11.5v11.5h-11.5zM1551.3,670.0h11.5v11.5h-11.5zM1551.4,668.4h11.5v11.5h-11.5zM1551.6,666.8h11.5v11.5h-11.5zM1551.7,665.2h11.5v11.5h-11.5zM1551.8,663.6h11.5v11.5h-11.5zM1551.9,662.0h11.5v11.5h-11.5zM1552.1,660.4h11.5v11.5h-11.5zM1552.2,658.8h11.5v11.5h-11.5zM1552.3,657.2h11.5v11.5h-11.5zM1552.4,655.6h11.5v11.5h-11.5zM1552.5,654.0h11.5v11.5h-11.5zM1552.6,652.4h11.5v11.5h-11.5zM1552.7,650.8h11.5v11.5h-11.5zM1552.8,649.2h11.5v11.5h-11.5zM1552.9,647.6h11.5v11.5h-11.5zM1553.0,646.0h11.5v11.5h-11.5zM1553.1,644.4h11.5v11.5h-11.5zM1553.2,642.8h11.5v11.5h-11.5zM1553.4,641.2h11.5v11.5h-11.5zM1553.5,639.6h11.5v11.5h-11.5zM1553.6,638.0h11.5v11.5h-11.5zM1553.7,636.4h11.5v11.5h-11.5zM1553.8,634.9h11.5v11.5h-11.5z" fill="#FFC117"/>
<path d="M248.0,1351.2h11.5v11.5h-11.5zM297.0,1351.2h11.5v11.5h-11.5zM331.7,1351.2h11.5v11.5h-11.5zM358.7,1351.2h11.5v11.5h-11.5zM380.7,1351.2h11.5v11.5h-11.5zM399.3,1351.2h11.5v11.5h-11.5zM415.5,1351.2h11.5v11.5h-11.5zM429.7,1351.2h11.5v11.5h-11.5zM442.4,1351.2h11.5v11.5h-11.5zM454.0,1351.2h11.5v11.5h-11.5zM464.5,1351.2h11.5v11.5h-11.5zM474.1,1351.2h11.5v11.5h-11.5zM483.1,1351.2h11.5v11.5h-11.5zM506.6,1351.2h11.5v11.5h-11.5zM513.5,1351.2h11.5v11.5h-11.5zM520.0,1351.2h11.5v11.5h-11.5zM526.2,1351.2h11.5v11.5h-11.5zM532.1,1351.2h11.5v11.5h-11.5zM537.7,1351.2h11.5v11.5h-11.5zM543.1,1351.2h11.5v11.5h-11.5zM548.2,1351.2h11.5v11.5h-11.5zM553.2,1351.2h11.5v11.5h-11.5zM557.9,1351.2h11.5v11.5h-11.5zM562.5,1351.2h11.5v11.5h-11.5zM566.8,1351.2h11.5v11.5h-11.5zM571.1,1351.2h11.5v11.5h-11.5zM575.2,1351.2h11.5v11.5h-11.5zM579.1,1351.2h11.5v11.5h-11.5zM583.0,1351.2h11.5v11.5h-11.5zM586.7,1351.2h11.5v11.5h-11.5zM590.3,1351.2h11.5v11.5h-11.5zM593.8,1351.2h11.5v11.5h-11.5zM597.2,1351.2h11.5v11.5h-11.5zM600.5,1351.2h11.5v11.5h-11.5zM603.7,1351.2h11.5v11.5h-11.5zM606.9,1351.2h11.5v11.5h-11.5zM609.9,1351.2h11.5v11.5h-11.5zM612.9,1351.2h11.5v11.5h-11.5zM615.8,1351.2h11.5v11.5h-11.5zM618.7,1351.2h11.5v11.5h-11.5zM621.5,1351.2h11.5v11.5h-11.5zM624.2,1351.2h11.5v11.5h-11.5zM626.8,1351.2h11.5v11.5h-11.5zM629.4,1351.2h11.5v11.5h-11.5zM632.0,1351.2h11.5v11.5h-11.5zM634.5,1351.2h11.5v11.5h-11.5zM636.9,1351.2h11.5v11.5h-11.5zM639.3,1351.2h11.5v11.5h-11.5zM641.6,1351.2h11.5v11.5h-11.5zM643.9,1351.2h11.5v11.5h-11.5zM646.2,1351.2h11.5v11.5h-11.5zM648.4,1351.2h11.5v11.5h-11.5zM650.6,1351.2h11.5v11.5h-11.5zM652.7,1351.2h11.5v11.5h-11.5zM683.4,1351.2h11.5v11.5h-11.5zM707.1,1351.2h11.5v11.5h-11.5zM727.2,1351.2h11.5v11.5h-11.5zM743.8,1351.2h11.5v11.5h-11.5zM759.2,1351.2h11.5v11.5h-11.5z" fill="#B58900"/>
<path d="M766.2,1351.2h11.5v11.5h-11.5zM767.9,1351.2h11.5v11.5h-11.5zM769.5,1351.2h11.5v11.5h-11.5zM771.1,1351.2h11.5v11.5h-11.5zM772.7,1351.2h11.5v11.5h-11.5zM774.3,1351.2h11.5v11.5h-11.5zM775.9,1351.2h11.5v11.5h-11.5zM777.5,1351.2h11.5v11.5h-11.5zM779.1,1351.2h11.5v11.5h-11.5zM780.7,1351.2h11.5v11.5h-11.5zM782.3,1351.2h11.5v11.5h-11.5zM783.9,1351.2h11.5v11.5h-11.5zM785.5,1351.2h11.5v11.5h-11.5zM787.1,1351.2h11.5v11.5h-11.5zM788.7,1351.2h11.5v11.5h-11.5zM790.3,1351.2h11.5v11.5h-11.5zM791.9,1351.2h11.5v11.5h-11.5zM793.5,1351.2h11.5v11.5h-11.5zM795.1,1351.2h11.5v11.5h-11.5zM796.7,1351.2h11.5v11.5h-11.5zM798.3,1351.2h11.5v11.5h-11.5zM799.9,1351.2h11.5v11.5h-11.5zM801.5,1351.2h11.5v11.5h-11.5zM803.1,1351.2h11.5v11.5h-11.5zM804.7,1351.2h11.5v11.5h-11.5zM806.3,1351.2h11.5v11.5h-11.5zM807.9,1351.2h11.5v11.5h-11.5zM809.5,1351.2h11.5v11.5h-11.5zM811.1,1351.2h11.5v11.5h-11.5zM812.7,1351.2h11.5v11.5h-11.5zM814.3,1351.2h11.5v11.5h-11.5zM815.9,1351.2h11.5v11.5h-11.5zM817.5,1351.2h11.5v11.5h-11.5zM819.1,1351.2h11.5v11.5h-11.5zM820.7,1351.2h11.5v11.5h-11.5zM822.3,1351.2h11.5v11.5h-11.5zM823.9,1351.2h11.5v11.5h-11.5zM825.5,1351.2h11.5v11.5h-11.5zM827.1,1351.2h11.5v11.5h-11.5zM828.7,1351.2h11.5v11.5h-11.5zM830.3,1351.2h11.5v11.5h-11.5zM831.9,1351.2h11.5v11.5h-11.5zM833.5,1351.2h11.5v11.5h-11.5zM835.1,1351.2h11.5v11.5h-11.5zM836.7,1351.2h11.5v11.5h-11.5zM838.3,1351.2h11.5v11.5h-11.5zM839.9,1351.2h11.5v11.5h-11.5zM841.5,1351.2h11.5v11.5h-11.5zM843.1,1351.2h11.5v11.5h-11.5zM844.7,1351.2h11.5v11.5h-11.5zM846.3,1351.2h11.5v11.5h-11.5zM847.9,1351.2h11.5v11.5h-11.5zM849.5,1351.2h11.5v11.5h-11.5zM851.1,1351.2h11.5v11.5h-11.5zM852.7,1351.2h11.5v11.5h-11.5zM854.3,1351.2h11.5v11.5h-11.5zM855.9,1351.2h11.5v11.5h-11.5zM857.5,1351.2h11.5v11.5h-11.5zM859.1,1351.2h11.5v11.5h-11.5zM860.7,1351.2h11.5v11.5h-11.5zM862.3,1351.2h11.5v11.5h-11.5zM863.9,1351.2h11.5v11.5h-11.5zM865.5,1351.2h11.5v11.5h-11.5zM867.1,1351.2h11.5v11.5h-11.5zM868.7,1351.2h11.5v11.5h-11.5zM870.3,1351.2h11.5v11.5h-11.5zM871.9,1351.2h11.5v11.5h-11.5zM873.5,1351.2h11.5v11.5h-11.5zM875.1,1351.2h11.5v11.5h-11.5zM876.7,1351.2h11.5v11.5h-11.5zM878.3,1351.2h11.5v11.5h-11.5zM879.9,1351.2h11.5v11.5h-11.5zM881.5,1351.2h11.5v11.5h-11.5zM883.1,1351.2h11.5v11.5h-11.5zM884.7,1351.2h11.5v11.5h-11.5zM886.3,1351.2h11.5v11.5h-11.5zM887.9,1351.2h11.5v11.5h-11.5zM889.5,1351.2h11.5v11.5h-11.5zM891.1,1351.2h11.5v11.5h-11.5zM892.7,1351.2h11.5v11.5h-11.5zM894.3,1351.2h11.5v11.5h-11.5zM895.9,1351.2h11.5v11.5h-11.5zM897.5,1351.2h11.5v11.5h-11.5zM899.1,1351.2h11.5v11.5h-11.5zM900.8,1351.2h11.5v11.5h-11.5zM902.4,1351.2h11.5v11.5h-11.5zM904.0,1351.2h11.5v11.5h-11.5zM905.6,1351.2h11.5v11.5h-11.5zM907.2,1351.2h11.5v11.5h-11.5zM908.9,1351.2h11.5v11.5h-11.5zM910.5,1351.2h11.5v11.5h-11.5zM912.1,1351.2h11.5v11.5h-11.5zM913.7,1351.2h11.5v11.5h-11.5zM915.4,1351.2h11.5v11.5h-11.5zM917.0,1351.2h11.5v11.5h-11.5zM918.6,1351.2h11.5v11.5h-11.5zM920.2,1351.2h11.5v11.5h-11.5zM921.8,1351.2h11.5v11.5h-11.5zM923.4,1351.2h11.5v11.5h-11.5zM925.0,1351.2h11.5v11.5h-11.5zM926.6,1351.2h11.5v11.5h-11.5zM928.2,1351.2h11.5v11.5h-11.5zM929.8,1351.2h11.5v11.5h-11.5zM931.4,1351.2h11.5v11.5h-11.5zM932.9,1351.2h11.5v11.5h-11.5zM934.5,1351.2h11.5v11.5h-11.5zM936.0,1351.2h11.5v11.5h-11.5zM937.6,1351.2h11.5v11.5h-11.5zM939.1,1351.2h11.5v11.5h-11.5zM940.6,1351.0h11.5v11.5h-11.5zM942.1,1350.7h11.5v11.5h-11.5zM943.6,1350.2h11.5v11.5h-11.5zM945.1,1349.7h11.5v11.5h-11.5zM946.6,1349.0h11.5v11.5h-11.5zM948.1,1348.3h11.5v11.5h-11.5zM949.6,1347.5h11.5v11.5h-11.5zM951.0,1346.6h11.5v11.5h-11.5zM952.5,1345.8h11.5v11.5h-11.5zM953.9,1345.0h11.5v11.5h-11.5zM955.3,1344.2h11.5v11.5h-11.5zM956.8,1343.4h11.5v11.5h-11.5zM958.2,1342.7h11.5v11.5h-11.5zM959.5,1341.8h11.5v11.5h-11.5zM960.9,1340.9h11.5v11.5h-11.5zM962.2,1340.1h11.5v11.5h-11.5zM963.6,1339.2h11.5v11.5h-11.5zM965.0,1338.4h11.5v11.5h-11.5zM966.4,1337.7h11.5v11.5h-11.5zM967.8,1337.0h11.5v11.5h-11.5zM969.3,1336.4h11.5v11.5h-11.5zM970.7,1335.8h11.5v11.5h-11.5zM972.2,1335.2h11.5v11.5h-11.5zM973.7,1334.6h11.5v11.5h-11.5zM975.2,1334.0h11.5v11.5h-11.5zM976.7,1333.4h11.5v11.5h-11.5zM978.2,1332.9h11.5v11.5h-11.5zM979.7,1332.3h11.5v11.5h-11.5zM981.2,1331.8h11.5v11.5h-11.5zM982.7,1331.2h11.5v11.5h-11.5zM984.2,1330.6h11.5v11.5h-11.5zM985.7,1330.1h11.5v11.5h-11.5zM987.2,1329.5h11.5v11.5h-11.5zM988.7,1328.9h11.5v11.5h-11.5zM990.2,1328.4h11.5v11.5h-11.5zM991.7,1327.8h11.5v11.5h-11.5zM993.2,1327.2h11.5v11.5h-11.5zM994.7,1326.7h11.5v11.5h-11.5zM996.2,1326.1h11.5v11.5h-11.5zM997.7,1325.5h11.5v11.5h-11.5zM999.2,1325.0h11.5v11.5h-11.5zM1000.7,1324.4h11.5v11.5h-11.5zM1002.2,1323.9h11.5v11.5h-11.5zM1003.7,1323.3h11.5v11.5h-11.5zM1005.2,1322.8h11.5v11.5h-11.5zM1006.8,1322.3h11.5v11.5h-11.5zM1008.3,1321.7h11.5v11.5h-11.5zM1009.8,1321.2h11.5v11.5h-11.5zM1011.3,1320.7h11.5v11.5h-11.5zM1012.8,1320.2h11.5v11.5h-11.5zM1014.3,1319.6h11.5v11.5h-11.5zM1015.8,1319.1h11.5v11.5h-11.5zM1017.3,1318.6h11.5v11.5h-11.5zM1018.9,1318.1h11.5v11.5h-11.5zM1020.4,1317.6h11.5v11.5h-11.5zM1021.9,1317.1h11.5v11.5h-11.5zM1023.4,1316.7h11.5v11.5h-11.5zM1025.0,1316.2h11.5v11.5h-11.5zM1026.5,1315.7h11.5v11.5h-11.5zM1028.0,1315.2h11.5v11.5h-11.5zM1029.5,1314.7h11.5v11.5h-11.5zM1031.1,1314.2h11.5v11.5h-11.5zM1032.6,1313.7h11.5v11.5h-11.5zM1034.1,1313.2h11.5v11.5h-11.5zM1035.6,1312.8h11.5v11.5h-11.5zM1037.2,1312.3h11.5v11.5h-11.5zM1038.7,1311.8h11.5v11.5h-11.5zM1040.2,1311.3h11.5v11.5h-11.5zM1041.7,1310.8h11.5v11.5h-11.5zM1043.2,1310.3h11.5v11.5h-11.5zM1044.8,1309.8h11.5v11.5h-11.5zM1046.3,1309.3h11.5v11.5h-11.5zM1047.8,1308.8h11.5v11.5h-11.5zM1049.3,1308.3h11.5v11.5h-11.5zM1050.8,1307.8h11.5v11.5h-11.5zM1052.4,1307.3h11.5v11.5h-11.5zM1053.9,1306.8h11.5v11.5h-11.5zM1055.4,1306.3h11.5v11.5h-11.5zM1056.9,1305.8h11.5v11.5h-11.5zM1058.5,1305.3h11.5v11.5h-11.5zM1060.0,1304.8h11.5v11.5h-11.5zM1061.5,1304.3h11.5v11.5h-11.5zM1063.0,1303.9h11.5v11.5h-11.5zM1064.6,1303.4h11.5v11.5h-11.5zM1066.1,1302.9h11.5v11.5h-11.5zM1067.6,1302.5h11.5v11.5h-11.5zM1069.2,1302.0h11.5v11.5h-11.5zM1070.7,1301.5h11.5v11.5h-11.5zM1072.2,1301.0h11.5v11.5h-11.5zM1073.8,1300.6h11.5v11.5h-11.5zM1075.3,1300.1h11.5v11.5h-11.5zM1076.8,1299.6h11.5v11.5h-11.5zM1078.4,1299.2h11.5v11.5h-11.5zM1079.9,1298.7h11.5v11.5h-11.5zM1081.4,1298.2h11.5v11.5h-11.5zM1082.9,1297.7h11.5v11.5h-11.5zM1084.5,1297.2h11.5v11.5h-11.5zM1086.0,1296.7h11.5v11.5h-11.5zM1087.5,1296.2h11.5v11.5h-11.5zM1089.0,1295.7h11.5v11.5h-11.5zM1090.5,1295.2h11.5v11.5h-11.5zM1092.0,1294.6h11.5v11.5h-11.5zM1093.6,1294.1h11.5v11.5h-11.5zM1095.1,1293.6h11.5v11.5h-11.5zM1096.6,1293.1h11.5v11.5h-11.5zM1098.1,1292.6h11.5v11.5h-11.5zM1099.6,1292.1h11.5v11.5h-11.5zM1101.2,1291.7h11.5v11.5h-11.5zM1102.7,1291.3h11.5v11.5h-11.5zM1104.3,1290.9h11.5v11.5h-11.5zM1105.8,1290.6h11.5v11.5h-11.5zM1107.4,1290.2h11.5v11.5h-11.5zM1109.0,1289.9h11.5v11.5h-11.5zM1110.5,1289.6h11.5v11.5h-11.5zM1112.1,1289.4h11.5v11.5h-11.5zM1113.7,1289.1h11.5v11.5h-11.5zM1115.3,1288.8h11.5v11.5h-11.5zM1116.9,1288.5h11.5v11.5h-11.5zM1118.4,1288.2h11.5v11.5h-11.5zM1120.0,1287.9h11.5v11.5h-11.5zM1121.6,1287.6h11.5v11.5h-11.5zM1123.1,1287.2h11.5v11.5h-11.5zM1124.7,1286.8h11.5v11.5h-11.5zM1126.2,1286.4h11.5v11.5h-11.5zM1127.8,1286.0h11.5v11.5h-11.5zM1129.3,1285.6h11.5v11.5h-11.5zM1130.8,1285.1h11.5v11.5h-11.5zM1132.4,1284.6h11.5v11.5h-11.5zM1133.9,1284.1h11.5v11.5h-11.5zM1135.4,1283.6h11.5v11.5h-11.5zM1136.9,1283.1h11.5v11.5h-11.5zM1138.4,1282.6h11.5v11.5h-11.5zM1140.0,1282.1h11.5v11.5h-11.5zM1141.5,1281.6h11.5v11.5h-11.5zM1143.0,1281.1h11.5v11.5h-11.5zM1144.5,1280.6h11.5v11.5h-11.5zM1146.0,1280.1h11.5v11.5h-11.5zM1147.6,1279.5h11.5v11.5h-11.5zM1149.1,1279.0h11.5v11.5h-11.5zM1150.6,1278.5h11.5v11.5h-11.5zM1152.1,1278.0h11.5v11.5h-11.5zM1153.6,1277.5h11.5v11.5h-11.5zM1155.1,1277.0h11.5v11.5h-11.5zM1156.6,1276.4h11.5v11.5h-11.5zM1158.2,1275.9h11.5v11.5h-11.5zM1159.7,1275.4h11.5v11.5h-11.5zM1161.2,1274.9h11.5v11.5h-11.5zM1162.7,1274.3h11.5v11.5h-11.5zM1164.2,1273.8h11.5v11.5h-11.5zM1165.7,1273.3h11.5v11.5h-11.5zM1167.3,1272.8h11.5v11.5h-11.5zM1168.8,1272.3h11.5v11.5h-11.5zM1170.3,1271.9h11.5v11.5h-11.5zM1171.8,1271.4h11.5v11.5h-11.5zM1173.4,1270.9h11.5v11.5h-11.5zM1174.9,1270.5h11.5v11.5h-11.5zM1176.4,1270.0h11.5v11.5h-11.5zM1178.0,1269.6h11.5v11.5h-11.5zM1179.5,1269.1h11.5v11.5h-11.5zM1181.0,1268.7h11.5v11.5h-11.5zM1182.6,1268.2h11.5v11.5h-11.5zM1184.1,1267.8h11.5v11.5h-11.5zM1185.7,1267.3h11.5v11.5h-11.5zM1187.2,1266.9h11.5v11.5h-11.5zM1188.7,1266.4h11.5v11.5h-11.5zM1190.3,1265.9h11.5v11.5h-11.5zM1191.8,1265.5h11.5v11.5h-11.5zM1193.3,1265.0h11.5v11.5h-11.5zM1194.9,1264.5h11.5v11.5h-11.5zM1196.4,1264.1h11.5v11.5h-11.5zM1197.9,1263.6h11.5v11.5h-11.5zM1199.5,1263.2h11.5v11.5h-11.5zM1201.0,1262.8h11.5v11.5h-11.5zM1202.6,1262.3h11.5v11.5h-11.5zM1204.1,1261.9h11.5v11.5h-11.5zM1205.7,1261.4h11.5v11.5h-11.5zM1207.2,1261.0h11.5v11.5h-11.5zM1208.8,1260.5h11.5v11.5h-11.5zM1210.3,1260.1h11.5v11.5h-11.5zM1211.8,1259.6h11.5v11.5h-11.5zM1213.4,1259.1h11.5v11.5h-11.5zM1214.9,1258.7h11.5v11.5h-11.5zM1216.4,1258.2h11.5v11.5h-11.5zM1217.9,1257.7h11.5v11.5h-11.5zM1219.5,1257.2h11.5v11.5h-11.5zM1221.0,1256.6h11.5v11.5h-11.5zM1222.5,1256.1h11.5v11.5h-11.5zM1224.0,1255.6h11.5v11.5h-11.5zM1225.4,1255.0h11.5v11.5h-11.5zM1226.9,1254.4h11.5v11.5h-11.5zM1228.4,1253.8h11.5v11.5h-11.5zM1229.8,1253.2h11.5v11.5h-11.5zM1231.3,1252.5h11.5v11.5h-11.5zM1232.7,1251.8h11.5v11.5h-11.5zM1234.1,1251.0h11.5v11.5h-11.5zM1235.5,1250.3h11.5v11.5h-11.5zM1236.9,1249.5h11.5v11.5h-11.5zM1238.3,1248.7h11.5v11.5h-11.5zM1239.7,1247.9h11.5v11.5h-11.5zM1241.1,1247.1h11.5v11.5h-11.5zM1242.5,1246.4h11.5v11.5h-11.5zM1244.0,1245.6h11.5v11.5h-11.5zM1245.4,1244.8h11.5v11.5h-11.5zM1246.8,1244.1h11.5v11.5h-11.5zM1248.2,1243.4h11.5v11.5h-11.5zM1249.7,1242.7h11.5v11.5h-11.5zM1251.1,1242.1h11.5v11.5h-11.5zM1252.6,1241.4h11.5v11.5h-11.5zM1254.1,1240.8h11.5v11.5h-11.5zM1255.5,1240.1h11.5v11.5h-11.5zM1257.0,1239.5h11.5v11.5h-11.5zM1258.5,1238.9h11.5v11.5h-11.5zM1259.9,1238.2h11.5v11.5h-11.5zM1261.4,1237.6h11.5v11.5h-11.5zM1262.9,1237.0h11.5v11.5h-11.5zM1264.4,1236.4h11.5v11.5h-11.5zM1265.9,1235.8h11.5v11.5h-11.5zM1267.4,1235.2h11.5v11.5h-11.5zM1268.8,1234.6h11.5v11.5h-11.5zM1270.3,1234.0h11.5v11.5h-11.5zM1271.8,1233.4h11.5v11.5h-11.5zM1273.3,1232.8h11.5v11.5h-11.5zM1274.8,1232.2h11.5v11.5h-11.5zM1276.3,1231.6h11.5v11.5h-11.5zM1277.7,1231.0h11.5v11.5h-11.5zM1279.2,1230.3h11.5v11.5h-11.5zM1280.7,1229.7h11.5v11.5h-11.5zM1282.2,1229.1h11.5v11.5h-11.5zM1283.6,1228.4h11.5v11.5h-11.5zM1285.1,1227.8h11.5v11.5h-11.5zM1286.6,1227.1h11.5v11.5h-11.5zM1288.0,1226.5h11.5v11.5h-11.5zM1289.5,1225.8h11.5v11.5h-11.5zM1290.9,1225.1h11.5v11.5h-11.5zM1292.4,1224.5h11.5v11.5h-11.5zM1293.8,1223.8h11.5v11.5h-11.5zM1295.3,1223.1h11.5v11.5h-11.5zM1296.7,1222.4h11.5v11.5h-11.5zM1298.2,1221.7h11.5v11.5h-11.5zM1299.6,1221.0h11.5v11.5h-11.5zM1301.0,1220.3h11.5v11.5h-11.5zM1302.5,1219.6h11.5v11.5h-11.5zM1303.9,1218.9h11.5v11.5h-11.5zM1305.3,1218.2h11.5v11.5h-11.5zM1306.8,1217.5h11.5v11.5h-11.5zM1308.2,1216.7h11.5v11.5h-11.5zM1309.6,1216.0h11.5v11.5h-11.5zM1311.1,1215.3h11.5v11.5h-11.5zM1312.5,1214.5h11.5v11.5h-11.5zM1313.9,1213.8h11.5v11.5h-11.5zM1315.3,1213.0h11.5v11.5h-11.5zM1316.7,1212.3h11.5v11.5h-11.5zM1318.1,1211.5h11.5v11.5h-11.5zM1319.5,1210.7h11.5v11.5h-11.5zM1320.9,1209.9h11.5v11.5h-11.5zM1322.3,1209.2h11.5v11.5h-11.5zM1323.7,1208.4h11.5v11.5h-11.5zM1325.1,1207.6h11.5v11.5h-11.5zM1326.5,1206.8h11.5v11.5h-11.5zM1327.9,1206.0h11.5v11.5h-11.5zM1329.3,1205.1h11.5v11.5h-11.5zM1330.6,1204.3h11.5v11.5h-11.5zM1332.0,1203.4h11.5v11.5h-11.5zM1333.3,1202.6h11.5v11.5h-11.5zM1334.7,1201.7h11.5v11.5h-11.5zM1336.0,1200.8h11.5v11.5h-11.5zM1337.3,1199.9h11.5v11.5h-11.5zM1338.5,1198.9h11.5v11.5h-11.5zM1339.8,1197.9h11.5v11.5h-11.5zM1341.0,1196.9h11.5v11.5h-11.5zM1342.2,1195.9h11.5v11.5h-11.5zM1343.4,1194.8h11.5v11.5h-11.5zM1344.6,1193.8h11.5v11.5h-11.5zM1345.8,1192.7h11.5v11.5h-11.5zM1346.9,1191.6h11.5v11.5h-11.5zM1348.1,1190.5h11.5v11.5h-11.5zM1349.3,1189.3h11.5v11.5h-11.5zM1350.4,1188.2h11.5v11.5h-11.5zM1351.6,1187.1h11.5v11.5h-11.5zM1352.8,1186.0h11.5v11.5h-11.5zM1353.9,1184.9h11.5v11.5h-11.5zM1355.1,1183.8h11.5v11.5h-11.5zM1356.3,1182.7h11.5v11.5h-11.5zM1357.5,1181.7h11.5v11.5h-11.5zM1358.7,1180.6h11.5v11.5h-11.5zM1359.9,1179.6h11.5v11.5h-11.5zM1361.1,1178.5h11.5v11.5h-11.5zM1362.3,1177.5h11.5v11.5h-11.5zM1363.6,1176.5h11.5v11.5h-11.5zM1364.8,1175.4h11.5v11.5h-11.5zM1366.0,1174.4h11.5v11.5h-11.5zM1367.2,1173.3h11.5v11.5h-11.5zM1368.4,1172.3h11.5v11.5h-11.5zM1369.7,1171.3h11.5v11.5h-11.5zM1370.9,1170.2h11.5v11.5h-11.5zM1372.1,1169.2h11.5v11.5h-11.5zM1373.3,1168.2h11.5v11.5h-11.5zM1374.6,1167.1h11.5v11.5h-11.5zM1375.8,1166.1h11.5v11.5h-11.5zM1377.0,1165.1h11.5v11.5h-11.5zM1378.2,1164.0h11.5v11.5h-11.5zM1379.4,1163.0h11.5v11.5h-11.5zM1380.7,1162.0h11.5v11.5h-11.5zM1381.9,1161.0h11.5v11.5h-11.5zM1383.1,1159.9h11.5v11.5h-11.5zM1384.4,1158.9h11.5v11.5h-11.5zM1385.6,1157.9h11.5v11.5h-11.5zM1386.8,1156.9h11.5v11.5h-11.5zM1388.1,1155.8h11.5v11.5h-11.5zM1389.3,1154.8h11.5v11.5h-11.5zM1390.5,1153.8h11.5v11.5h-11.5zM1391.7,1152.7h11.5v11.5h-11.5zM1392.9,1151.7h11.5v11.5h-11.5zM1394.1,1150.6h11.5v11.5h-11.5zM1395.3,1149.6h11.5v11.5h-11.5zM1396.5,1148.5h11.5v11.5h-11.5zM1397.7,1147.4h11.5v11.5h-11.5zM1398.9,1146.3h11.5v11.5h-11.5zM1400.1,1145.3h11.5v11.5h-11.5zM1401.3,1144.2h11.5v11.5h-11.5zM1402.5,1143.1h11.5v11.5h-11.5zM1403.7,1142.0h11.5v11.5h-11.5zM1404.9,1141.0h11.5v11.5h-11.5zM1406.1,1139.9h11.5v11.5h-11.5zM1407.3,1138.8h11.5v11.5h-11.5zM1408.4,1137.7h11.5v11.5h-11.5zM1409.6,1136.6h11.5v11.5h-11.5zM1410.8,1135.5h11.5v11.5h-11.5zM1412.0,1134.4h11.5v11.5h-11.5zM1413.1,1133.3h11.5v11.5h-11.5zM1414.3,1132.1h11.5v11.5h-11.5zM1415.4,1131.0h11.5v11.5h-11.5zM1416.5,1129.8h11.5v11.5h-11.5zM1417.6,1128.7h11.5v11.5h-11.5zM1418.7,1127.5h11.5v11.5h-11.5zM1419.8,1126.4h11.5v11.5h-11.5zM1420.8,1125.2h11.5v11.5h-11.5zM1421.9,1124.0h11.5v11.5h-11.5zM1422.9,1122.8h11.5v11.5h-11.5zM1423.9,1121.6h11.5v11.5h-11.5zM1424.9,1120.4h11.5v11.5h-11.5zM1425.9,1119.1h11.5v11.5h-11.5zM1426.9,1117.8h11.5v11.5h-11.5zM1427.8,1116.6h11.5v11.5h-11.5zM1428.8,1115.3h11.5v11.5h-11.5zM1429.7,1114.0h11.5v11.5h-11.5zM1430.6,1112.7h11.5v11.5h-11.5zM1431.5,1111.4h11.5v11.5h-11.5zM1432.5,1110.0h11.5v11.5h-11.5zM1433.4,1108.7h11.5v11.5h-11.5zM1434.2,1107.4h11.5v11.5h-11.5zM1435.1,1106.0h11.5v11.5h-11.5zM1436.0,1104.7h11.5v11.5h-11.5zM1436.9,1103.3h11.5v11.5h-11.5zM1437.7,1101.9h11.5v11.5h-11.5zM1438.6,1100.6h11.5v11.5h-11.5zM1439.4,1099.2h11.5v11.5h-11.5zM1440.3,1097.8h11.5v11.5h-11.5zM1441.1,1096.5h11.5v11.5h-11.5zM1441.9,1095.1h11.5v11.5h-11.5zM1442.8,1093.7h11.5v11.5h-11.5zM1443.6,1092.3h11.5v11.5h-11.5zM1444.4,1091.0h11.5v11.5h-11.5zM1445.2,1089.6h11.5v11.5h-11.5zM1446.0,1088.2h11.5v11.5h-11.5zM1446.8,1086.8h11.5v11.5h-11.5zM1447.6,1085.4h11.5v11.5h-11.5zM1448.4,1084.1h11.5v11.5h-11.5zM1449.2,1082.7h11.5v11.5h-11.5zM1450.0,1081.3h11.5v11.5h-11.5zM1450.7,1079.9h11.5v11.5h-11.5zM1451.5,1078.5h11.5v11.5h-11.5zM1452.3,1077.0h11.5v11.5h-11.5zM1453.1,1075.6h11.5v11.5h-11.5zM1453.8,1074.2h11.5v11.5h-11.5zM1454.6,1072.8h11.5v11.5h-11.5zM1455.3,1071.4h11.5v11.5h-11.5zM1456.0,1069.9h11.5v11.5h-11.5zM1456.8,1068.5h11.5v11.5h-11.5zM1457.5,1067.1h11.5v11.5h-11.5zM1458.2,1065.7h11.5v11.5h-11.5zM1458.9,1064.2h11.5v11.5h-11.5zM1459.6,1062.8h11.5v11.5h-11.5zM1460.3,1061.3h11.5v11.5h-11.5zM1461.0,1059.9h11.5v11.5h-11.5zM1461.7,1058.4h11.5v11.5h-11.5zM1462.4,1057.0h11.5v11.5h-11.5zM1463.1,1055.6h11.5v11.5h-11.5zM1463.7,1054.1h11.5v11.5h-11.5zM1464.4,1052.6h11.5v11.5h-11.5zM1465.0,1051.2h11.5v11.5h-11.5zM1465.7,1049.7h11.5v11.5h-11.5zM1466.3,1048.3h11.5v11.5h-11.5zM1466.9,1046.8h11.5v11.5h-11.5zM1467.6,1045.3h11.5v11.5h-11.5zM1468.2,1043.8h11.5v11.5h-11.5zM1468.8,1042.4h11.5v11.5h-11.5zM1469.4,1040.9h11.5v11.5h-11.5zM1470.0,1039.4h11.5v11.5h-11.5zM1470.6,1037.9h11.5v11.5h-11.5zM1471.2,1036.4h11.5v11.5h-11.5zM1471.8,1034.9h11.5v11.5h-11.5zM1472.3,1033.4h11.5v11.5h-11.5zM1472.9,1031.9h11.5v11.5h-11.5zM1473.5,1030.4h11.5v11.5h-11.5zM1474.1,1028.9h11.5v11.5h-11.5zM1474.6,1027.4h11.5v11.5h-11.5zM1475.2,1025.9h11.5v11.5h-11.5zM1475.7,1024.4h11.5v11.5h-11.5zM1476.3,1022.9h11.5v11.5h-11.5zM1476.8,1021.4h11.5v11.5h-11.5zM1477.3,1019.9h11.5v11.5h-11.5zM1477.9,1018.4h11.5v11.5h-11.5zM1478.4,1016.9h11.5v11.5h-11.5zM1478.9,1015.3h11.5v11.5h-11.5zM1479.4,1013.8h11.5v11.5h-11.5zM1479.9,1012.3h11.5v11.5h-11.5zM1480.4,1010.8h11.5v11.5h-11.5zM1480.9,1009.3h11.5v11.5h-11.5zM1481.4,1007.7h11.5v11.5h-11.5zM1481.8,1006.2h11.5v11.5h-11.5zM1482.3,1004.7h11.5v11.5h-11.5zM1482.8,1003.2h11.5v11.5h-11.5zM1483.2,1001.6h11.5v11.5h-11.5zM1483.7,1000.1h11.5v11.5h-11.5zM1484.1,998.5h11.5v11.5h-11.5zM1484.5,997.0h11.5v11.5h-11.5zM1485.0,995.5h11.5v11.5h-11.5zM1485.4,993.9h11.5v11.5h-11.5zM1485.9,992.4h11.5v11.5h-11.5zM1486.3,990.8h11.5v11.5h-11.5zM1486.7,989.3h11.5v11.5h-11.5zM1487.2,987.8h11.5v11.5h-11.5zM1487.6,986.2h11.5v11.5h-11.5zM1488.0,984.7h11.5v11.5h-11.5zM1488.4,983.1h11.5v11.5h-11.5zM1488.9,981.6h11.5v11.5h-11.5zM1489.3,980.0h11.5v11.5h-11.5zM1489.7,978.5h11.5v11.5h-11.5zM1490.2,977.0h11.5v11.5h-11.5zM1490.6,975.4h11.5v11.5h-11.5zM1491.1,973.9h11.5v11.5h-11.5zM1491.5,972.3h11.5v11.5h-11.5zM1492.0,970.8h11.5v11.5h-11.5zM1492.4,969.3h11.5v11.5h-11.5zM1492.9,967.7h11.5v11.5h-11.5zM1493.3,966.2h11.5v11.5h-11.5zM1493.8,964.7h11.5v11.5h-11.5zM1494.3,963.1h11.5v11.5h-11.5zM1494.7,961.6h11.5v11.5h-11.5zM1495.2,960.1h11.5v11.5h-11.5zM1495.7,958.5h11.5v11.5h-11.5zM1496.1,957.0h11.5v11.5h-11.5zM1496.6,955.5h11.5v11.5h-11.5zM1497.0,953.9h11.5v11.5h-11.5zM1497.5,952.4h11.5v11.5h-11.5zM1497.9,950.8h11.5v11.5h-11.5zM1498.3,949.3h11.5v11.5h-11.5zM1498.8,947.8h11.5v11.5h-11.5zM1499.2,946.2h11.5v11.5h-11.5zM1499.6,944.7h11.5v11.5h-11.5zM1500.0,943.1h11.5v11.5h-11.5zM1500.3,941.6h11.5v11.5h-11.5zM1500.7,940.0h11.5v11.5h-11.5zM1501.1,938.4h11.5v11.5h-11.5zM1501.4,936.9h11.5v11.5h-11.5zM1501.8,935.3h11.5v11.5h-11.5zM1502.1,933.8h11.5v11.5h-11.5zM1502.4,932.2h11.5v11.5h-11.5zM1502.8,930.6h11.5v11.5h-11.5zM1503.1,929.1h11.5v11.5h-11.5zM1503.4,927.5h11.5v11.5h-11.5zM1503.7,925.9h11.5v11.5h-11.5zM1504.0,924.4h11.5v11.5h-11.5zM1504.4,922.8h11.5v11.5h-11.5zM1504.7,921.2h11.5v11.5h-11.5zM1505.0,919.7h11.5v11.5h-11.5zM1505.3,918.1h11.5v11.5h-11.5zM1505.6,916.5h11.5v11.5h-11.5zM1505.9,914.9h11.5v11.5h-11.5zM1506.2,913.4h11.5v11.5h-11.5zM1506.4,911.8h11.5v11.5h-11.5zM1506.7,910.2h11.5v11.5h-11.5zM1507.0,908.6h11.5v11.5h-11.5zM1507.3,907.1h11.5v11.5h-11.5zM1507.6,905.5h11.5v11.5h-11.5zM1507.9,903.9h11.5v11.5h-11.5zM1508.1,902.3h11.5v11.5h-11.5zM1508.4,900.7h11.5v11.5h-11.5zM1508.7,899.2h11.5v11.5h-11.5zM1509.0,897.6h11.5v11.5h-11.5zM1509.2,896.0h11.5v11.5h-11.5zM1509.5,894.4h11.5v11.5h-11.5zM1509.8,892.8h11.5v11.5h-11.5zM1510.0,891.3h11.5v11.5h-11.5zM1510.3,889.7h11.5v11.5h-11.5zM1510.6,888.1h11.5v11.5h-11.5zM1510.8,886.5h11.5v11.5h-11.5zM1511.1,884.9h11.5v11.5h-11.5zM1511.3,883.4h11.5v11.5h-11.5zM1511.6,881.8h11.5v11.5h-11.5zM1511.9,880.2h11.5v11.5h-11.5zM1512.1,878.6h11.5v11.5h-11.5zM1512.4,877.1h11.5v11.5h-11.5zM1512.6,875.5h11.5v11.5h-11.5zM1512.9,873.9h11.5v11.5h-11.5zM1513.1,872.3h11.5v11.5h-11.5zM1513.4,870.7h11.5v11.5h-11.5zM1513.6,869.1h11.5v11.5h-11.5zM1513.9,867.6h11.5v11.5h-11.5zM1514.1,866.0h11.5v11.5h-11.5zM1514.4,864.4h11.5v11.5h-11.5zM1514.6,862.8h11.5v11.5h-11.5zM1514.8,861.2h11.5v11.5h-11.5zM1515.1,859.7h11.5v11.5h-11.5zM1515.3,858.1h11.5v11.5h-11.5zM1515.6,856.5h11.5v11.5h-11.5zM1515.8,854.9h11.5v11.5h-11.5zM1516.0,853.3h11.5v11.5h-11.5zM1516.3,851.7h11.5v11.5h-11.5zM1516.5,850.1h11.5v11.5h-11.5zM1516.7,848.6h11.5v11.5h-11.5zM1516.9,847.0h11.5v11.5h-11.5zM1517.2,845.4h11.5v11.5h-11.5zM1517.4,843.8h11.5v11.5h-11.5zM1517.6,842.2h11.5v11.5h-11.5zM1517.8,840.6h11.5v11.5h-11.5zM1518.1,839.1h11.5v11.5h-11.5zM1518.3,837.5h11.5v11.5h-11.5zM1518.5,835.9h11.5v11.5h-11.5zM1518.7,834.3h11.5v11.5h-11.5zM1518.9,832.7h11.5v11.5h-11.5zM1519.2,831.1h11.5v11.5h-11.5zM1519.4,829.5h11.5v11.5h-11.5zM1519.6,828.0h11.5v11.5h-11.5zM1519.8,826.4h11.5v11.5h-11.5zM1520.0,824.8h11.5v11.5h-11.5zM1520.3,823.2h11.5v11.5h-11.5zM1520.5,821.6h11.5v11.5h-11.5zM1520.7,820.0h11.5v11.5h-11.5zM1520.9,818.4h11.5v11.5h-11.5zM1521.1,816.8h11.5v11.5h-11.5zM1521.4,815.3h11.5v11.5h-11.5zM1521.6,813.7h11.5v11.5h-11.5zM1521.8,812.1h11.5v11.5h-11.5zM1522.0,810.5h11.5v11.5h-11.5zM1522.2,808.9h11.5v11.5h-11.5zM1522.4,807.3h11.5v11.5h-11.5zM1522.7,805.7h11.5v11.5h-11.5zM1522.9,804.2h11.5v11.5h-11.5zM1523.1,802.6h11.5v11.5h-11.5zM1523.3,801.0h11.5v11.5h-11.5zM1523.5,799.4h11.5v11.5h-11.5zM1523.7,797.8h11.5v11.5h-11.5zM1523.9,796.2h11.5v11.5h-11.5zM1524.1,794.6h11.5v11.5h-11.5zM1524.3,793.0h11.5v11.5h-11.5zM1524.5,791.4h11.5v11.5h-11.5zM1524.7,789.9h11.5v11.5h-11.5zM1524.9,788.3h11.5v11.5h-11.5zM1525.1,786.7h11.5v11.5h-11.5zM1525.2,785.1h11.5v11.5h-11.5zM1525.4,783.5h11.5v11.5h-11.5zM1525.6,781.9h11.5v11.5h-11.5zM1525.8,780.3h11.5v11.5h-11.5zM1525.9,778.7h11.5v11.5h-11.5zM1526.1,777.1h11.5v11.5h-11.5zM1526.2,775.5h11.5v11.5h-11.5zM1526.4,774.0h11.5v11.5h-11.5zM1526.5,772.4h11.5v11.5h-11.5zM1526.7,770.8h11.5v11.5h-11.5zM1526.8,769.2h11.5v11.5h-11.5zM1526.9,767.6h11.5v11.5h-11.5zM1527.1,766.0h11.5v11.5h-11.5zM1527.2,764.4h11.5v11.5h-11.5zM1527.3,762.8h11.5v11.5h-11.5zM1527.5,761.2h11.5v11.5h-11.5zM1527.6,759.6h11.5v11.5h-11.5zM1527.7,758.0h11.5v11.5h-11.5zM1527.8,756.4h11.5v11.5h-11.5zM1527.9,754.8h11.5v11.5h-11.5zM1528.1,753.2h11.5v11.5h-11.5zM1528.2,751.6h11.5v11.5h-11.5zM1528.3,750.0h11.5v11.5h-11.5zM1528.4,748.4h11.5v11.5h-11.5zM1528.5,746.8h11.5v11.5h-11.5zM1528.6,745.2h11.5v11.5h-11.5zM1528.7,743.6h11.5v11.5h-11.5zM1528.8,742.0h11.5v11.5h-11.5zM1528.9,740.4h11.5v11.5h-11.5zM1529.0,738.8h11.5v11.5h-11.5zM1529.1,737.2h11.5v11.5h-11.5zM1529.3,735.6h11.5v11.5h-11.5zM1529.4,734.0h11.5v11.5h-11.5zM1529.5,732.4h11.5v11.5h-11.5zM1529.6,730.9h11.5v11.5h-11.5zM1529.7,729.3h11.5v11.5h-11.5zM1529.8,727.7h11.5v11.5h-11.5zM1529.9,726.1h11.5v11.5h-11.5zM1530.0,724.5h11.5v11.5h-11.5zM1530.1,722.9h11.5v11.5h-11.5zM1530.2,721.3h11.5v11.5h-11.5zM1530.3,719.7h11.5v11.5h-11.5zM1530.4,718.1h11.5v11.5h-11.5zM1530.5,716.5h11.5v11.5h-11.5zM1530.6,714.9h11.5v11.5h-11.5zM1530.7,713.3h11.5v11.5h-11.5zM1530.8,711.7h11.5v11.5h-11.5zM1531.0,710.1h11.5v11.5h-11.5zM1531.1,708.5h11.5v11.5h-11.5zM1531.2,706.9h11.5v11.5h-11.5zM1531.3,705.3h11.5v11.5h-11.5zM1531.4,703.7h11.5v11.5h-11.5zM1531.5,702.1h11.5v11.5h-11.5zM1531.6,700.5h11.5v11.5h-11.5zM1531.7,698.9h11.5v11.5h-11.5zM1531.9,697.3h11.5v11.5h-11.5zM1532.0,695.7h11.5v11.5h-11.5zM1532.1,694.1h11.5v11.5h-11.5zM1532.2,692.5h11.5v11.5h-11.5zM1532.3,690.9h11.5v11.5h-11.5zM1532.4,689.3h11.5v11.5h-11.5zM1532.5,687.7h11.5v11.5h-11.5zM1532.6,686.1h11.5v11.5h-11.5zM1532.7,684.5h11.5v11.5h-11.5zM1532.8,682.9h11.5v11.5h-11.5zM1532.9,681.3h11.5v11.5h-11.5zM1533.1,679.7h11.5v11.5h-11.5zM1533.2,678.1h11.5v11.5h-11.5zM1533.3,676.5h11.5v11.5h-11.5zM1533.4,674.9h11.5v11.5h-11.5zM1533.5,673.4h11.5v11.5h-11.5zM1533.6,671.8h11.5v11.5h-11.5zM1533.7,670.2h11.5v11.5h-11.5zM1533.8,668.6h11.5v11.5h-11.5zM1533.9,667.0h11.5v11.5h-11.5zM1534.0,665.4h11.5v11.5h-11.5zM1534.1,663.8h11.5v11.5h-11.5zM1534.2,662.2h11.5v11.5h-11.5zM1534.3,660.6h11.5v11.5h-11.5zM1534.4,659.0h11.5v11.5h-11.5zM1534.4,657.4h11.5v11.5h-11.5zM1534.5,655.8h11.5v11.5h-11.5zM1534.6,654.2h11.5v11.5h-11.5zM1534.7,652.6h11.5v11.5h-11.5zM1534.8,651.0h11.5v11.5h-11.5zM1534.9,649.4h11.5v11.5h-11.5zM1535.0,647.8h11.5v11.5h-11.5zM1535.1,646.2h11.5v11.5h-11.5zM1535.2,644.6h11.5v11.5h-11.5zM1535.3,643.0h11.5v11.5h-11.5zM1535.4,641.4h11.5v11.5h-11.5zM1535.4,639.8h11.5v11.5h-11.5zM1535.5,638.2h11.5v11.5h-11.5zM1535.6,636.6h11.5v11.5h-11.5zM1535.7,635.0h11.5v11.5h-11.5zM1535.8,633.4h11.5v11.5h-11.5zM1535.9,631.8h11.5v11.5h-11.5zM1536.0,630.2h11.5v11.5h-11.5zM1536.1,628.6h11.5v11.5h-11.5zM1536.2,627.0h11.5v11.5h-11.5zM1536.2,625.4h11.5v11.5h-11.5zM1536.3,623.8h11.5v11.5h-11.5zM1536.4,622.2h11.5v11.5h-11.5zM1536.5,620.6h11.5v11.5h-11.5zM1536.6,619.0h11.5v11.5h-11.5zM1536.7,617.4h11.5v11.5h-11.5zM1536.7,615.8h11.5v11.5h-11.5zM1536.8,614.2h11.5v11.5h-11.5zM1536.9,612.6h11.5v11.5h-11.5zM1537.0,611.0h11.5v11.5h-11.5zM1537.1,609.4h11.5v11.5h-11.5zM1537.2,607.8h11.5v11.5h-11.5zM1537.2,606.2h11.5v11.5h-11.5zM1537.3,604.6h11.5v11.5h-11.5zM1537.4,603.0h11.5v11.5h-11.5zM1537.5,601.4h11.5v11.5h-11.5zM1537.6,599.8h11.5v11.5h-11.5zM1537.6,598.2h11.5v11.5h-11.5zM1537.7,596.6h11.5v11.5h-11.5zM1537.8,595.0h11.5v11.5h-11.5zM1537.9,593.4h11.5v11.5h-11.5zM1537.9,591.8h11.5v11.5h-11.5zM1538.0,590.2h11.5v11.5h-11.5zM1538.1,588.6h11.5v11.5h-11.5zM1538.2,587.0h11.5v11.5h-11.5zM1538.2,585.4h11.5v11.5h-11.5zM1538.3,583.8h11.5v11.5h-11.5zM1538.4,582.2h11.5v11.5h-11.5zM1538.5,580.6h11.5v11.5h-11.5zM1538.5,579.0h11.5v11.5h-11.5zM1538.6,577.4h11.5v11.5h-11.5zM1538.7,575.8h11.5v11.5h-11.5zM1538.7,574.2h11.5v11.5h-11.5zM1538.8,572.6h11.5v11.5h-11.5zM1538.9,571.0h11.5v11.5h-11.5zM1539.0,569.4h11.5v11.5h-11.5zM1539.0,567.8h11.5v11.5h-11.5zM1539.1,566.2h11.5v11.5h-11.5zM1539.2,564.6h11.5v11.5h-11.5zM1539.2,563.0h11.5v11.5h-11.5zM1539.3,561.4h11.5v11.5h-11.5zM1539.3,559.9h11.5v11.5h-11.5z" fill="#B58900"/>
<path d="M247.6,1330.0a6.1,6.1 0 1,0 12.2,0a6.1,6.1 0 1,0 -12.2,0zM296.6,1330.0a6.1,6.1 0 1,0 12.2,0a6.1,6.1 0 1,0 -12.2,0zM331.4,1330.0a6.1,6.1 0 1,0 12.2,0a6.1,6.1 0 1,0 -12.2,0zM358.3,1330.0a6.1,6.1 0 1,0 12.2,0a6.1,6.1 0 1,0 -12.2,0zM380.4,1330.0a6.1,6.1 0 1,0 12.2,0a6.1,6.1 0 1,0 -12.2,0zM399.0,1330.0a6.1,6.1 0 1,0 12.2,0a6.1,6.1 0 1,0 -12.2,0zM415.1,1330.0a6.1,6.1 0 1,0 12.2,0a6.1,6.1 0 1,0 -12.2,0zM429.4,1330.0a6.1,6.1 0 1,0 12.2,0a6.1,6.1 0 1,0 -12.2,0zM442.1,1330.0a6.1,6.1 0 1,0 12.2,0a6.1,6.1 0 1,0 -12.2,0zM453.6,1330.0a6.1,6.1 0 1,0 12.2,0a6.1,6.1 0 1,0 -12.2,0zM464.1,1330.0a6.1,6.1 0 1,0 12.2,0a6.1,6.1 0 1,0 -12.2,0zM473.8,1330.0a6.1,6.1 0 1,0 12.2,0a6.1,6.1 0 1,0 -12.2,0zM482.7,1330.0a6.1,6.1 0 1,0 12.2,0a6.1,6.1 0 1,0 -12.2,0zM491.1,1330.0a6.1,6.1 0 1,0 12.2,0a6.1,6.1 0 1,0 -12.2,0zM498.9,1330.0a6.1,6.1 0 1,0 12.2,0a6.1,6.1 0 1,0 -12.2,0zM506.2,1330.0a6.1,6.1 0 1,0 12.2,0a6.1,6.1 0 1,0 -12.2,0zM409.6,1330.0a6.1,6.1 0 1,0 12.2,0a6.1,6.1 0 1,0 -12.2,0zM425.5,1330.0a6.1,6.1 0 1,0 12.2,0a6.1,6.1 0 1,0 -12.2,0zM690.8,1322.8a6.1,6.1 0 1,0 12.2,0a6.1,6.1 0 1,0 -12.2,0zM713.6,1316.0a6.1,6.1 0 1,0 12.2,0a6.1,6.1 0 1,0 -12.2,0zM732.3,1310.9a6.1,6.1 0 1,0 12.2,0a6.1,6.1 0 1,0 -12.2,0zM748.9,1305.9a6.1,6.1 0 1,0 12.2,0a6.1,6.1 0 1,0 -12.2,0zM763.0,1301.4a6.1,6.1 0 1,0 12.2,0a6.1,6.1 0 1,0 -12.2,0zM775.8,1296.3a6.1,6.1 0 1,0 12.2,0a6.1,6.1 0 1,0 -12.2,0z" fill="#FFB3B3"/>
<polyline points="793.8,1293.5 796.7,1292.6 799.5,1291.6 802.4,1290.7 805.2,1289.8 808.1,1288.9 811.0,1288.0 813.8,1287.0 816.7,1286.1 819.6,1285.3 822.4,1284.4 825.3,1283.4 828.2,1282.5 831.0,1281.6 833.9,1280.7 836.8,1279.8 839.6,1278.9 842.5,1278.0 845.4,1277.2 848.3,1276.3 851.2,1275.5 854.1,1274.8 857.0,1274.0 859.9,1273.3 862.8,1272.7 865.8,1272.0 868.7,1271.4 871.6,1270.8 874.6,1270.2 877.5,1269.5 880.5,1268.9 883.4,1268.2 886.3,1267.6 889.3,1266.9 892.2,1266.3 895.1,1265.6 898.0,1264.9 901.0,1264.2 903.9,1263.5 906.8,1262.9 909.7,1262.2 912.7,1261.5 915.6,1260.8 918.5,1260.1 921.4,1259.4 924.4,1258.6 927.3,1257.9 930.2,1257.2 933.1,1256.5 936.0,1255.8 939.0,1255.1 941.9,1254.4 944.8,1253.7 947.7,1253.0 950.6,1252.3 953.6,1251.5 956.5,1250.8 959.4,1250.1 962.3,1249.4 965.2,1248.7 968.2,1248.1 971.1,1247.4 974.0,1246.7 977.0,1246.0 979.9,1245.4 982.8,1244.7 985.8,1244.1 988.7,1243.4 991.6,1242.8 994.6,1242.2 997.5,1241.5 1000.5,1240.9 1003.4,1240.2 1006.3,1239.5 1009.2,1238.9 1012.2,1238.2 1015.1,1237.4 1018.0,1236.7 1020.9,1236.0 1023.8,1235.2 1026.7,1234.4 1029.6,1233.6 1032.5,1232.7 1035.3,1231.9 1038.2,1231.0 1041.1,1230.1 1044.0,1229.2 1046.8,1228.4 1049.7,1227.5 1052.6,1226.6 1055.4,1225.6 1058.3,1224.7 1061.2,1223.8 1064.1,1223.0 1066.9,1222.1 1069.8,1221.2 1072.7,1220.4 1075.6,1219.5 1078.5,1218.6 1081.4,1217.7 1084.3,1216.8 1087.1,1215.9 1090.0,1214.9 1092.8,1213.9 1095.6,1212.9 1098.4,1211.8 1101.1,1210.7 1103.9,1209.6 1106.6,1208.3 1109.3,1207.0 1112.0,1205.7 1114.7,1204.4 1117.4,1202.9 1120.0,1201.5 1122.7,1200.0 1125.3,1198.6 1127.9,1197.1 1130.5,1195.5 1133.1,1194.0 1135.7,1192.5 1138.3,1191.0 1140.9,1189.4 1143.4,1187.9 1146.0,1186.3 1148.5,1184.7 1151.0,1183.0 1153.5,1181.4 1156.0,1179.7 1158.5,1178.0 1161.0,1176.3 1163.5,1174.6 1166.0,1172.9 1168.5,1171.2 1170.9,1169.5 1173.4,1167.8 1175.9,1166.1 1178.4,1164.4 1180.9,1162.8 1183.4,1161.1 1186.0,1159.5 1188.5,1157.9 1191.1,1156.2 1193.5,1154.6 1196.0,1152.8 1198.3,1151.0 1200.6,1149.1 1202.9,1147.1 1205.0,1145.0 1207.2,1142.9 1209.3,1140.8 1211.5,1138.7 1213.6,1136.5 1215.7,1134.4 1217.8,1132.3 1219.9,1130.1 1222.0,1128.0 1224.1,1125.8 1226.2,1123.6 1228.3,1121.5 1230.4,1119.3 1232.4,1117.1 1234.6,1115.0 1236.7,1112.8 1238.8,1110.7 1240.8,1108.5 1242.8,1106.2 1244.7,1103.9 1246.5,1101.5 1248.2,1099.1 1250.0,1096.6 1251.7,1094.1 1253.3,1091.6 1255.0,1089.1 1256.6,1086.6 1258.2,1084.0 1259.8,1081.5 1261.4,1078.9 1262.9,1076.3 1264.4,1073.7 1265.9,1071.1 1267.2,1068.4 1268.6,1065.7 1269.8,1063.0 1271.1,1060.3 1272.3,1057.5 1273.5,1054.7 1274.7,1052.0 1275.8,1049.2 1277.0,1046.5 1278.2,1043.7 1279.4,1040.9 1280.6,1038.2 1281.7,1035.4 1282.8,1032.6 1283.9,1029.8 1284.8,1026.9 1285.8,1024.1 1286.7,1021.2 1287.6,1018.4 1288.5,1015.5 1289.3,1012.6 1290.1,1009.7 1291.0,1006.8 1291.8,1003.9 1292.6,1001.0 1293.3,998.1 1294.1,995.2 1294.9,992.3 1295.7,989.4 1296.4,986.5 1297.1,983.6 1297.8,980.6 1298.5,977.7 1299.2,974.8 1300.0,971.9 1300.8,969.0 1301.7,966.1 1302.6,963.3 1303.6,960.4 1304.5,957.6 1305.5,954.7 1306.4,951.8 1307.3,949.0 1308.1,946.1 1308.8,943.2 1309.4,940.2 1310.0,937.3 1310.6,934.4 1311.2,931.4 1311.7,928.4 1312.3,925.5 1312.8,922.5 1313.4,919.6 1313.9,916.6 1314.5,913.6 1315.1,910.7 1315.7,907.8 1316.4,904.8 1317.0,901.9 1317.7,899.0 1318.4,896.0 1319.1,893.1 1319.8,890.2 1320.4,887.3 1321.1,884.3 1321.8,881.4 1322.4,878.5 1323.0,875.5 1323.6,872.6 1324.2,869.6 1324.7,866.7 1325.2,863.7 1325.7,860.8 1326.3,857.8 1326.8,854.8 1327.2,851.9 1327.7,848.9 1328.2,845.9 1328.7,843.0 1329.2,840.0 1329.6,837.0 1330.1,834.1 1330.6,831.1 1331.0,828.1 1331.5,825.1 1332.0,822.2 1332.4,819.2 1332.9,816.2 1333.3,813.3 1333.8,810.3 1334.2,807.3 1334.6,804.3 1335.1,801.4 1335.5,798.4 1336.0,795.4 1336.5,792.5 1336.9,789.5 1337.4,786.5 1337.9,783.6 1338.3,780.6 1338.8,777.6 1339.3,774.6 1339.7,771.7 1340.2,768.7 1340.7,765.7 1341.1,762.8 1341.6,759.8 1342.0,756.8 1342.5,753.8 1342.9,750.9 1343.3,747.9 1343.7,744.9 1344.0,741.9 1344.4,738.9 1344.8,736.0 1345.1,733.0 1345.4,730.0 1345.7,727.0 1346.0,724.0 1346.3,721.0 1346.6,718.0 1346.8,715.1 1347.1,712.1 1347.3,709.1 1347.6,706.1 1347.8,703.1 1348.1,700.1 1348.3,697.1 1348.6,694.1 1348.8,691.1 1349.0,688.1 1349.2,685.1 1349.5,682.1 1349.7,679.1 1349.9,676.1 1350.1,673.1 1350.3,670.1 1350.6,667.1 1350.8,664.1 1351.0,661.1 1351.2,658.1 1351.4,655.1 1351.6,652.1 1351.9,649.1 1352.1,646.1 1352.3,643.1 1352.5,640.1 1352.7,637.1 1352.9,634.1 1353.1,631.1 1353.3,628.1 1353.5,625.1 1353.7,622.1 1353.9,619.1 1354.1,616.1 1354.3,613.1 1354.5,610.1 1354.6,607.1 1354.8,604.1 1355.0,601.1 1355.2,598.1 1355.4,595.1 1355.6,592.1 1355.8,589.1 1356.0,586.1 1356.2,583.1 1356.4,580.2 1356.6,577.2 1356.8,574.2 1357.0,571.2 1357.2,568.2 1357.4,565.2 1357.6,562.2 1357.8,559.2 1357.9,556.2 1358.1,553.2 1358.3,550.2 1358.5,547.2 1358.6,544.2 1358.8,541.2 1359.0,538.2 1359.1,535.2 1359.3,532.2 1359.5,529.2 1359.6,526.2 1359.8,523.2 1360.0,520.2 1360.1,517.2 1360.3,514.2 1360.4,511.2 1360.6,508.2 1360.8,505.2 1360.9,502.1 1361.1,499.1 1361.2,496.1 1361.4,493.1 1361.5,490.1 1361.7,487.1 1361.8,484.1 1362.0,481.1 1362.1,478.1 1362.3,475.1 1362.4,472.1 1362.6,469.1 1362.7,466.1 1362.9,463.1 1363.0,460.1 1363.2,457.1 1363.3,454.1 1363.4,451.1 1363.6,448.1 1363.7,445.1 1363.9,442.1 1364.0,439.1 1364.1,436.1 1364.3,433.1 1364.4,430.1 1364.5,427.1 1364.7,424.1 1364.8,421.1 1365.0,418.1 1365.1,415.1 1365.2,412.1 1365.4,409.1 1365.5,406.1 1365.6,403.1 1365.7,400.1 1365.9,397.1 1366.0,394.1 1366.1,391.1 1366.3,388.1 1366.4,385.1 1366.5,382.1 1366.6,379.1 1366.7,376.1 1366.9,373.1 1367.0,370.1 1367.1,367.1 1367.2,364.1 1367.3,361.1 1367.4,358.1 1367.6,355.0 1367.7,352.0 1367.8,349.0 1367.9,346.0 1368.0,343.0 1368.1,340.0 1368.2,337.0 1368.3,334.0 1368.4,331.0 1368.5,328.0 1368.6,325.0 1368.6,322.0 1368.7,319.0 1368.8,316.0 1368.9,313.0" fill="none" stroke="#FFB3B3" stroke-width="12.2" stroke-linecap="round" stroke-linejoin="round"/>
<path d="M247.6,1330.0a6.1,6.1 0 1,0 12.2,0a6.1,6.1 0 1,0 -12.2,0zM296.6,1330.0a6.1,6.1 0 1,0 12.2,0a6.1,6.1 0 1,0 -12.2,0zM331.4,1330.0a6.1,6.1 0 1,0 12.2,0a6.1,6.1 0 1,0 -12.2,0zM358.3,1330.0a6.1,6.1 0 1,0 12.2,0a6.1,6.1 0 1,0 -12.2,0zM380.4,1330.0a6.1,6.1 0 1,0 12.2,0a6.1,6.1 0 1,0 -12.2,0zM399.0,1330.0a6.1,6.1 0 1,0 12.2,0a6.1,6.1 0 1,0 -12.2,0zM415.1,1330.0a6.1,6.1 0 1,0 12.2,0a6.1,6.1 0 1,0 -12.2,0zM429.4,1330.0a6.1,6.1 0 1,0 12.2,0a6.1,6.1 0 1,0 -12.2,0zM442.1,1330.0a6.1,6.1 0 1,0 12.2,0a6.1,6.1 0 1,0 -12.2,0zM453.6,1330.0a6.1,6.1 0 1,0 12.2,0a6.1,6.1 0 1,0 -12.2,0zM464.1,1330.0a6.1,6.1 0 1,0 12.2,0a6.1,6.1 0 1,0 -12.2,0zM473.8,1330.0a6.1,6.1 0 1,0 12.2,0a6.1,6.1 0 1,0 -12.2,0zM482.7,1330.0a6.1,6.1 0 1,0 12.2,0a6.1,6.1 0 1,0 -12.2,0zM491.1,1330.0a6.1,6.1 0 1,0 12.2,0a6.1,6.1 0 1,0 -12.2,0zM498.9,1330.0a6.1,6.1 0 1,0 12.2,0a6.1,6.1 0 1,0 -12.2,0zM506.2,1330.0a6.1,6.1 0 1,0 12.2,0a6.1,6.1 0 1,0 -12.2,0zM513.1,1330.0a6.1,6.1 0 1,0 12.2,0a6.1,6.1 0 1,0 -12.2,0zM519.6,1330.0a6.1,6.1 0 1,0 12.2,0a6.1,6.1 0 1,0 -12.2,0zM525.8,1330.0a6.1,6.1 0 1,0 12.2,0a6.1,6.1 0 1,0 -12.2,0zM531.7,1330.0a6.1,6.1 0 1,0 12.2,0a6.1,6.1 0 1,0 -12.2,0zM537.4,1330.0a6.1,6.1 0 1,0 12.2,0a6.1,6.1 0 1,0 -12.2,0zM542.7,1330.0a6.1,6.1 0 1,0 12.2,0a6.1,6.1 0 1,0 -12.2,0zM547.9,1330.0a6.1,6.1 0 1,0 12.2,0a6.1,6.1 0 1,0 -12.2,0zM552.8,1330.0a6.1,6.1 0 1,0 12.2,0a6.1,6.1 0 1,0 -12.2,0zM557.5,1330.0a6.1,6.1 0 1,0 12.2,0a6.1,6.1 0 1,0 -12.2,0zM562.1,1330.0a6.1,6.1 0 1,0 12.2,0a6.1,6.1 0 1,0 -12.2,0zM566.5,1330.0a6.1,6.1 0 1,0 12.2,0a6.1,6.1 0 1,0 -12.2,0zM570.7,1330.0a6.1,6.1 0 1,0 12.2,0a6.1,6.1 0 1,0 -12.2,0zM574.8,1330.0a6.1,6.1 0 1,0 12.2,0a6.1,6.1 0 1,0 -12.2,0zM578.8,1330.0a6.1,6.1 0 1,0 12.2,0a6.1,6.1 0 1,0 -12.2,0zM582.6,1330.0a6.1,6.1 0 1,0 12.2,0a6.1,6.1 0 1,0 -12.2,0zM586.4,1330.0a6.1,6.1 0 1,0 12.2,0a6.1,6.1 0 1,0 -12.2,0zM590.0,1330.0a6.1,6.1 0 1,0 12.2,0a6.1,6.1 0 1,0 -12.2,0zM593.5,1330.0a6.1,6.1 0 1,0 12.2,0a6.1,6.1 0 1,0 -12.2,0zM596.9,1330.0a6.1,6.1 0 1,0 12.2,0a6.1,6.1 0 1,0 -12.2,0zM600.2,1330.0a6.1,6.1 0 1,0 12.2,0a6.1,6.1 0 1,0 -12.2,0zM603.4,1330.0a6.1,6.1 0 1,0 12.2,0a6.1,6.1 0 1,0 -12.2,0zM606.5,1330.0a6.1,6.1 0 1,0 12.2,0a6.1,6.1 0 1,0 -12.2,0zM609.6,1330.0a6.1,6.1 0 1,0 12.2,0a6.1,6.1 0 1,0 -12.2,0zM612.6,1330.0a6.1,6.1 0 1,0 12.2,0a6.1,6.1 0 1,0 -12.2,0zM615.5,1330.0a6.1,6.1 0 1,0 12.2,0a6.1,6.1 0 1,0 -12.2,0zM618.3,1330.0a6.1,6.1 0 1,0 12.2,0a6.1,6.1 0 1,0 -12.2,0zM621.1,1330.0a6.1,6.1 0 1,0 12.2,0a6.1,6.1 0 1,0 -12.2,0zM623.8,1330.0a6.1,6.1 0 1,0 12.2,0a6.1,6.1 0 1,0 -12.2,0zM626.5,1330.0a6.1,6.1 0 1,0 12.2,0a6.1,6.1 0 1,0 -12.2,0zM629.1,1330.0a6.1,6.1 0 1,0 12.2,0a6.1,6.1 0 1,0 -12.2,0zM631.6,1330.0a6.1,6.1 0 1,0 12.2,0a6.1,6.1 0 1,0 -12.2,0zM634.1,1330.0a6.1,6.1 0 1,0 12.2,0a6.1,6.1 0 1,0 -12.2,0zM636.6,1330.0a6.1,6.1 0 1,0 12.2,0a6.1,6.1 0 1,0 -12.2,0zM639.0,1330.0a6.1,6.1 0 1,0 12.2,0a6.1,6.1 0 1,0 -12.2,0zM641.3,1330.0a6.1,6.1 0 1,0 12.2,0a6.1,6.1 0 1,0 -12.2,0zM643.6,1330.0a6.1,6.1 0 1,0 12.2,0a6.1,6.1 0 1,0 -12.2,0zM645.9,1330.0a6.1,6.1 0 1,0 12.2,0a6.1,6.1 0 1,0 -12.2,0zM648.1,1330.0a6.1,6.1 0 1,0 12.2,0a6.1,6.1 0 1,0 -12.2,0zM650.3,1330.0a6.1,6.1 0 1,0 12.2,0a6.1,6.1 0 1,0 -12.2,0zM652.4,1330.0a6.1,6.1 0 1,0 12.2,0a6.1,6.1 0 1,0 -12.2,0zM654.5,1330.0a6.1,6.1 0 1,0 12.2,0a6.1,6.1 0 1,0 -12.2,0zM656.6,1330.0a6.1,6.1 0 1,0 12.2,0a6.1,6.1 0 1,0 -12.2,0zM658.6,1330.0a6.1,6.1 0 1,0 12.2,0a6.1,6.1 0 1,0 -12.2,0zM660.6,1330.0a6.1,6.1 0 1,0 12.2,0a6.1,6.1 0 1,0 -12.2,0zM662.5,1330.0a6.1,6.1 0 1,0 12.2,0a6.1,6.1 0 1,0 -12.2,0zM664.5,1330.0a6.1,6.1 0 1,0 12.2,0a6.1,6.1 0 1,0 -12.2,0zM666.4,1330.0a6.1,6.1 0 1,0 12.2,0a6.1,6.1 0 1,0 -12.2,0zM668.3,1330.0a6.1,6.1 0 1,0 12.2,0a6.1,6.1 0 1,0 -12.2,0zM670.1,1330.0a6.1,6.1 0 1,0 12.2,0a6.1,6.1 0 1,0 -12.2,0zM671.9,1330.0a6.1,6.1 0 1,0 12.2,0a6.1,6.1 0 1,0 -12.2,0zM673.7,1330.0a6.1,6.1 0 1,0 12.2,0a6.1,6.1 0 1,0 -12.2,0zM675.5,1330.0a6.1,6.1 0 1,0 12.2,0a6.1,6.1 0 1,0 -12.2,0zM663.9,1330.0a6.1,6.1 0 1,0 12.2,0a6.1,6.1 0 1,0 -12.2,0zM670.9,1330.0a6.1,6.1 0 1,0 12.2,0a6.1,6.1 0 1,0 -12.2,0zM745.6,1322.8a6.1,6.1 0 1,0 12.2,0a6.1,6.1 0 1,0 -12.2,0zM758.4,1319.0a6.1,6.1 0 1,0 12.2,0a6.1,6.1 0 1,0 -12.2,0zM769.4,1315.4a6.1,6.1 0 1,0 12.2,0a6.1,6.1 0 1,0 -12.2,0zM781.3,1311.8a6.1,6.1 0 1,0 12.2,0a6.1,6.1 0 1,0 -12.2,0zM792.3,1308.7a6.1,6.1 0 1,0 12.2,0a6.1,6.1 0 1,0 -12.2,0z" fill="#A00000"/>
<polyline points="808.4,1306.0 811.3,1305.1 814.2,1304.3 817.0,1303.4 819.9,1302.6 822.8,1301.8 825.7,1301.0 828.6,1300.2 831.5,1299.4 834.4,1298.7 837.4,1297.9 840.3,1297.1 843.2,1296.3 846.1,1295.5 848.9,1294.7 851.8,1293.8 854.6,1292.8 857.4,1291.8 860.2,1290.7 863.0,1289.5 865.7,1288.3 868.5,1287.0 871.2,1285.7 873.9,1284.5 876.7,1283.3 879.5,1282.2 882.3,1281.2 885.1,1280.2 888.0,1279.3 890.8,1278.3 893.7,1277.4 896.5,1276.6 899.4,1275.7 902.3,1274.8 905.2,1274.0 908.1,1273.2 911.0,1272.4 913.9,1271.6 916.8,1270.7 919.7,1269.9 922.6,1269.1 925.5,1268.3 928.4,1267.4 931.2,1266.6 934.1,1265.8 937.0,1265.0 939.9,1264.2 942.8,1263.4 945.7,1262.6 948.6,1261.8 951.5,1261.0 954.4,1260.2 957.3,1259.4 960.2,1258.6 963.1,1257.8 966.0,1257.0 968.9,1256.2 971.8,1255.4 974.7,1254.6 977.5,1253.8 980.4,1252.9 983.3,1252.1 986.2,1251.3 989.1,1250.4 992.0,1249.6 994.9,1248.8 997.8,1247.9 1000.6,1247.1 1003.5,1246.3 1006.4,1245.4 1009.3,1244.6 1012.2,1243.7 1015.1,1242.9 1017.9,1242.1 1020.8,1241.2 1023.7,1240.4 1026.6,1239.5 1029.5,1238.7 1032.4,1237.9 1035.3,1237.0 1038.1,1236.2 1041.0,1235.4 1043.9,1234.5 1046.8,1233.7 1049.7,1232.8 1052.5,1232.0 1055.4,1231.1 1058.3,1230.2 1061.2,1229.4 1064.1,1228.5 1066.9,1227.6 1069.8,1226.8 1072.8,1226.0 1075.7,1225.1 1078.6,1224.3 1081.5,1223.4 1084.3,1222.6 1087.2,1221.7 1090.1,1220.7 1092.9,1219.8 1095.7,1218.8 1098.5,1217.7 1101.2,1216.6 1103.9,1215.4 1106.6,1214.1 1109.3,1212.8 1111.9,1211.4 1114.6,1209.9 1117.2,1208.5 1119.8,1206.9 1122.4,1205.4 1125.0,1203.8 1127.6,1202.2 1130.1,1200.7 1132.7,1199.1 1135.3,1197.6 1137.9,1196.0 1140.5,1194.6 1143.2,1193.1 1145.8,1191.6 1148.4,1190.2 1151.1,1188.7 1153.7,1187.3 1156.4,1185.8 1159.0,1184.4 1161.6,1182.9 1164.2,1181.4 1166.8,1179.9 1169.4,1178.4 1172.0,1176.8 1174.5,1175.2 1177.0,1173.6 1179.5,1172.0 1182.0,1170.3 1184.5,1168.6 1186.9,1166.8 1189.3,1165.0 1191.7,1163.1 1194.1,1161.2 1196.3,1159.3 1198.6,1157.3 1200.7,1155.3 1202.8,1153.1 1204.8,1150.9 1206.8,1148.6 1208.8,1146.3 1210.7,1144.0 1212.7,1141.8 1214.8,1139.6 1216.9,1137.5 1219.2,1135.5 1221.5,1133.6 1223.8,1131.7 1226.2,1129.8 1228.4,1127.7 1230.5,1125.7 1232.7,1123.6 1234.9,1121.5 1237.0,1119.3 1239.1,1117.1 1241.1,1114.9 1243.1,1112.6 1245.0,1110.3 1246.8,1108.0 1248.5,1105.6 1250.2,1103.1 1251.8,1100.5 1253.3,1097.9 1254.8,1095.3 1256.3,1092.7 1257.9,1090.1 1259.4,1087.5 1261.0,1084.9 1262.5,1082.4 1264.1,1079.8 1265.6,1077.2 1267.2,1074.6 1268.6,1072.0 1270.1,1069.4 1271.4,1066.7 1272.7,1064.0 1274.0,1061.3 1275.2,1058.6 1276.5,1055.8 1277.7,1053.1 1278.9,1050.3 1280.1,1047.5 1281.3,1044.8 1282.5,1042.0 1283.6,1039.2 1284.8,1036.5 1285.8,1033.7 1286.9,1030.8 1287.9,1028.0 1288.8,1025.2 1289.7,1022.3 1290.6,1019.5 1291.5,1016.6 1292.4,1013.7 1293.2,1010.8 1294.0,1007.9 1294.8,1005.0 1295.6,1002.1 1296.4,999.2 1297.2,996.3 1297.9,993.4 1298.7,990.5 1299.4,987.6 1300.2,984.7 1300.9,981.8 1301.6,978.8 1302.3,975.9 1303.0,973.0 1303.7,970.1 1304.4,967.1 1305.0,964.2 1305.7,961.3 1306.4,958.4 1307.0,955.4 1307.7,952.5 1308.3,949.6 1308.9,946.6 1309.6,943.7 1310.2,940.7 1310.8,937.8 1311.3,934.8 1311.9,931.9 1312.5,929.0 1313.1,926.0 1313.6,923.1 1314.2,920.1 1314.8,917.2 1315.4,914.2 1316.0,911.3 1316.6,908.3 1317.2,905.4 1317.9,902.5 1318.6,899.5 1319.3,896.6 1319.9,893.7 1320.6,890.8 1321.3,887.8 1322.0,884.9 1322.6,882.0 1323.3,879.0 1323.9,876.1 1324.5,873.2 1325.0,870.2 1325.6,867.3 1326.1,864.3 1326.6,861.3 1327.2,858.4 1327.7,855.4 1328.1,852.5 1328.6,849.5 1329.1,846.5 1329.6,843.6 1330.1,840.6 1330.5,837.6 1331.0,834.7 1331.5,831.7 1331.9,828.7 1332.4,825.8 1332.9,822.8 1333.3,819.8 1333.8,816.9 1334.2,813.9 1334.7,810.9 1335.1,807.9 1335.6,805.0 1336.0,802.0 1336.4,799.0 1336.9,796.1 1337.4,793.1 1337.8,790.1 1338.3,787.1 1338.8,784.2 1339.2,781.2 1339.7,778.2 1340.2,775.3 1340.6,772.3 1341.1,769.3 1341.6,766.4 1342.0,763.4 1342.5,760.4 1342.9,757.5 1343.4,754.5 1343.8,751.5 1344.2,748.5 1344.6,745.6 1345.0,742.6 1345.3,739.6 1345.7,736.6 1346.0,733.6 1346.3,730.7 1346.6,727.7 1346.9,724.7 1347.2,721.7 1347.5,718.7 1347.8,715.7 1348.0,712.7 1348.3,709.7 1348.5,706.7 1348.8,703.7 1349.0,700.8 1349.3,697.8 1349.5,694.8 1349.7,691.8 1350.0,688.8 1350.2,685.8 1350.4,682.8 1350.6,679.8 1350.9,676.8 1351.1,673.8 1351.3,670.8 1351.5,667.8 1351.7,664.8 1351.9,661.8 1352.2,658.8 1352.4,655.8 1352.6,652.8 1352.8,649.8 1353.0,646.8 1353.2,643.8 1353.4,640.8 1353.6,637.8 1353.8,634.8 1354.0,631.8 1354.2,628.8 1354.4,625.8 1354.6,622.8 1354.8,619.8 1355.0,616.8 1355.2,613.8 1355.4,610.9 1355.6,607.9 1355.8,604.9 1356.0,601.9 1356.2,598.9 1356.4,595.9 1356.6,592.9 1356.7,589.9 1356.9,586.9 1357.1,583.9 1357.3,580.9 1357.5,577.9 1357.7,574.9 1357.8,571.9 1358.0,568.9 1358.2,565.9 1358.4,562.9 1358.6,559.9 1358.7,556.9 1358.9,553.9 1359.1,550.9 1359.2,547.9 1359.4,544.9 1359.5,541.9 1359.7,538.9 1359.9,535.9 1360.0,532.9 1360.2,529.9 1360.3,526.9 1360.5,523.9 1360.6,520.9 1360.8,517.9 1360.9,514.9 1361.1,511.9 1361.2,508.9 1361.4,505.9 1361.5,502.9 1361.7,499.9 1361.8,496.9 1362.0,493.9 1362.1,490.9 1362.2,487.9 1362.4,484.9 1362.5,481.9 1362.7,478.9 1362.8,475.9 1362.9,472.9 1363.1,469.9 1363.2,466.9 1363.3,463.9 1363.5,460.9 1363.6,457.9 1363.7,454.9 1363.9,451.9 1364.0,448.9 1364.1,445.9 1364.3,442.9 1364.4,439.9 1364.5,436.9 1364.6,433.9 1364.8,430.9 1364.9,427.9 1365.0,424.9 1365.1,421.9 1365.3,418.9 1365.4,415.9 1365.5,412.9 1365.6,409.9 1365.8,406.9 1365.9,403.9 1366.0,400.9 1366.1,397.9 1366.2,394.9 1366.3,391.9 1366.5,388.9 1366.6,385.9 1366.7,382.9 1366.8,379.8 1366.9,376.8 1367.0,373.8 1367.1,370.8 1367.2,367.8 1367.3,364.8 1367.4,361.8 1367.5,358.8 1367.6,355.8 1367.7,352.8 1367.8,349.8 1367.9,346.8 1368.0,343.8 1368.0,340.8 1368.1,337.8 1368.2,334.8 1368.3,331.8 1368.3,328.8 1368.4,325.8 1368.4,322.8 1368.5,319.8" fill="none" stroke="#A00000" stroke-width="12.2" stroke-linecap="round" stroke-linejoin="round"/>
<path d="M248.0,1324.2h11.5v11.5h-11.5zM297.0,1324.2h11.5v11.5h-11.5zM331.7,1324.2h11.5v11.5h-11.5zM358.7,1324.2h11.5v11.5h-11.5zM380.7,1324.2h11.5v11.5h-11.5zM399.3,1324.2h11.5v11.5h-11.5zM415.5,1324.2h11.5v11.5h-11.5zM429.7,1324.2h11.5v11.5h-11.5zM442.4,1324.2h11.5v11.5h-11.5zM454.0,1324.2h11.5v11.5h-11.5zM464.5,1324.2h11.5v11.5h-11.5zM474.1,1324.2h11.5v11.5h-11.5zM483.1,1324.2h11.5v11.5h-11.5zM491.4,1324.2h11.5v11.5h-11.5zM499.2,1324.2h11.5v11.5h-11.5zM506.6,1324.2h11.5v11.5h-11.5zM513.5,1324.2h11.5v11.5h-11.5zM520.0,1324.2h11.5v11.5h-11.5zM526.2,1324.2h11.5v11.5h-11.5zM532.1,1324.2h11.5v11.5h-11.5zM537.7,1324.2h11.5v11.5h-11.5zM543.1,1324.2h11.5v11.5h-11.5zM548.2,1324.2h11.5v11.5h-11.5zM553.2,1324.2h11.5v11.5h-11.5zM557.9,1324.2h11.5v11.5h-11.5zM562.5,1324.2h11.5v11.5h-11.5zM566.8,1324.2h11.5v11.5h-11.5zM571.1,1324.2h11.5v11.5h-11.5zM575.2,1324.2h11.5v11.5h-11.5zM579.1,1324.2h11.5v11.5h-11.5zM583.0,1324.2h11.5v11.5h-11.5zM586.7,1324.2h11.5v11.5h-11.5zM590.3,1324.2h11.5v11.5h-11.5zM593.8,1324.2h11.5v11.5h-11.5zM597.2,1324.2h11.5v11.5h-11.5zM600.5,1324.2h11.5v11.5h-11.5zM603.7,1324.2h11.5v11.5h-11.5zM606.9,1324.2h11.5v11.5h-11.5zM609.9,1324.2h11.5v11.5h-11.5zM612.9,1324.2h11.5v11.5h-11.5zM615.8,1324.2h11.5v11.5h-11.5zM618.7,1324.2h11.5v11.5h-11.5zM621.5,1324.2h11.5v11.5h-11.5zM624.2,1324.2h11.5v11.5h-11.5zM626.8,1324.2h11.5v11.5h-11.5zM629.4,1324.2h11.5v11.5h-11.5zM632.0,1324.2h11.5v11.5h-11.5zM634.5,1324.2h11.5v11.5h-11.5zM636.9,1324.2h11.5v11.5h-11.5zM639.3,1324.2h11.5v11.5h-11.5zM641.6,1324.2h11.5v11.5h-11.5zM643.9,1324.2h11.5v11.5h-11.5zM646.2,1324.2h11.5v11.5h-11.5zM648.4,1324.2h11.5v11.5h-11.5zM650.6,1324.2h11.5v11.5h-11.5zM652.7,1324.2h11.5v11.5h-11.5zM654.8,1324.2h11.5v11.5h-11.5zM659.5,1312.0h11.5v11.5h-11.5zM681.2,1303.2h11.5v11.5h-11.5zM699.8,1297.0h11.5v11.5h-11.5zM716.1,1291.0h11.5v11.5h-11.5zM730.2,1285.0h11.5v11.5h-11.5zM743.2,1281.8h11.5v11.5h-11.5z" fill="#26834D"/>
<path d="M754.2,1276.2h11.5v11.5h-11.5zM755.7,1275.6h11.5v11.5h-11.5zM757.2,1275.0h11.5v11.5h-11.5zM758.6,1274.3h11.5v11.5h-11.5zM760.1,1273.7h11.5v11.5h-11.5zM761.6,1273.0h11.5v11.5h-11.5zM763.1,1272.4h11.5v11.5h-11.5zM764.5,1271.8h11.5v11.5h-11.5zM766.0,1271.2h11.5v11.5h-11.5zM767.5,1270.6h11.5v11.5h-11.5zM769.0,1270.0h11.5v11.5h-11.5zM770.5,1269.3h11.5v11.5h-11.5zM771.9,1268.8h11.5v11.5h-11.5zM773.4,1268.2h11.5v11.5h-11.5zM774.9,1267.6h11.5v11.5h-11.5zM776.4,1267.0h11.5v11.5h-11.5zM777.9,1266.4h11.5v11.5h-11.5zM779.4,1265.9h11.5v11.5h-11.5zM780.9,1265.3h11.5v11.5h-11.5zM782.4,1264.8h11.5v11.5h-11.5zM783.9,1264.2h11.5v11.5h-11.5zM785.4,1263.7h11.5v11.5h-11.5zM786.9,1263.1h11.5v11.5h-11.5zM788.4,1262.6h11.5v11.5h-11.5zM789.9,1262.1h11.5v11.5h-11.5zM791.4,1261.5h11.5v11.5h-11.5zM793.0,1261.0h11.5v11.5h-11.5zM794.5,1260.5h11.5v11.5h-11.5zM796.0,1260.0h11.5v11.5h-11.5zM797.5,1259.5h11.5v11.5h-11.5zM799.0,1259.0h11.5v11.5h-11.5zM800.5,1258.4h11.5v11.5h-11.5zM802.0,1257.9h11.5v11.5h-11.5zM803.6,1257.4h11.5v11.5h-11.5zM805.1,1256.9h11.5v11.5h-11.5zM806.6,1256.4h11.5v11.5h-11.5zM808.1,1255.9h11.5v11.5h-11.5zM809.6,1255.3h11.5v11.5h-11.5zM811.1,1254.8h11.5v11.5h-11.5zM812.7,1254.3h11.5v11.5h-11.5zM814.2,1253.8h11.5v11.5h-11.5zM815.7,1253.2h11.5v11.5h-11.5zM817.2,1252.7h11.5v11.5h-11.5zM818.7,1252.2h11.5v11.5h-11.5zM820.2,1251.6h11.5v11.5h-11.5zM821.7,1251.1h11.5v11.5h-11.5zM823.2,1250.6h11.5v11.5h-11.5zM824.7,1250.0h11.5v11.5h-11.5zM826.2,1249.5h11.5v11.5h-11.5zM827.7,1248.9h11.5v11.5h-11.5zM829.2,1248.4h11.5v11.5h-11.5zM830.8,1247.9h11.5v11.5h-11.5zM832.3,1247.3h11.5v11.5h-11.5zM833.8,1246.8h11.5v11.5h-11.5zM835.3,1246.3h11.5v11.5h-11.5zM836.8,1245.7h11.5v11.5h-11.5zM838.3,1245.2h11.5v11.5h-11.5zM839.8,1244.7h11.5v11.5h-11.5zM841.3,1244.1h11.5v11.5h-11.5zM842.8,1243.6h11.5v11.5h-11.5zM844.3,1243.1h11.5v11.5h-11.5zM845.9,1242.6h11.5v11.5h-11.5zM847.4,1242.1h11.5v11.5h-11.5zM848.9,1241.6h11.5v11.5h-11.5zM850.4,1241.1h11.5v11.5h-11.5zM851.9,1240.6h11.5v11.5h-11.5zM853.5,1240.1h11.5v11.5h-11.5zM855.0,1239.6h11.5v11.5h-11.5zM856.5,1239.1h11.5v11.5h-11.5zM858.0,1238.6h11.5v11.5h-11.5zM859.6,1238.1h11.5v11.5h-11.5zM861.1,1237.7h11.5v11.5h-11.5zM862.6,1237.2h11.5v11.5h-11.5zM864.1,1236.7h11.5v11.5h-11.5zM865.7,1236.3h11.5v11.5h-11.5zM867.2,1235.8h11.5v11.5h-11.5zM868.7,1235.3h11.5v11.5h-11.5zM870.3,1234.8h11.5v11.5h-11.5zM871.8,1234.3h11.5v11.5h-11.5zM873.3,1233.9h11.5v11.5h-11.5zM874.8,1233.4h11.5v11.5h-11.5zM876.4,1232.9h11.5v11.5h-11.5zM877.9,1232.4h11.5v11.5h-11.5zM879.4,1231.9h11.5v11.5h-11.5zM880.9,1231.4h11.5v11.5h-11.5zM882.4,1230.8h11.5v11.5h-11.5zM883.9,1230.3h11.5v11.5h-11.5zM885.5,1229.8h11.5v11.5h-11.5zM887.0,1229.3h11.5v11.5h-11.5zM888.5,1228.8h11.5v11.5h-11.5zM890.0,1228.3h11.5v11.5h-11.5zM891.5,1227.8h11.5v11.5h-11.5zM893.0,1227.2h11.5v11.5h-11.5zM894.6,1226.7h11.5v11.5h-11.5zM896.1,1226.2h11.5v11.5h-11.5zM897.6,1225.7h11.5v11.5h-11.5zM899.1,1225.2h11.5v11.5h-11.5zM900.6,1224.7h11.5v11.5h-11.5zM902.1,1224.1h11.5v11.5h-11.5zM903.6,1223.6h11.5v11.5h-11.5zM905.2,1223.1h11.5v11.5h-11.5zM906.7,1222.6h11.5v11.5h-11.5zM908.2,1222.1h11.5v11.5h-11.5zM909.7,1221.6h11.5v11.5h-11.5zM911.2,1221.1h11.5v11.5h-11.5zM912.7,1220.6h11.5v11.5h-11.5zM914.3,1220.1h11.5v11.5h-11.5zM915.8,1219.6h11.5v11.5h-11.5zM917.3,1219.1h11.5v11.5h-11.5zM918.8,1218.6h11.5v11.5h-11.5zM920.4,1218.1h11.5v11.5h-11.5zM921.9,1217.6h11.5v11.5h-11.5zM923.4,1217.2h11.5v11.5h-11.5zM924.9,1216.7h11.5v11.5h-11.5zM926.5,1216.2h11.5v11.5h-11.5zM928.0,1215.8h11.5v11.5h-11.5zM929.5,1215.3h11.5v11.5h-11.5zM931.1,1214.8h11.5v11.5h-11.5zM932.6,1214.4h11.5v11.5h-11.5zM934.1,1213.9h11.5v11.5h-11.5zM935.7,1213.5h11.5v11.5h-11.5zM937.2,1213.0h11.5v11.5h-11.5zM938.8,1212.6h11.5v11.5h-11.5zM940.3,1212.1h11.5v11.5h-11.5zM941.8,1211.7h11.5v11.5h-11.5zM943.4,1211.2h11.5v11.5h-11.5zM944.9,1210.8h11.5v11.5h-11.5zM946.4,1210.4h11.5v11.5h-11.5zM948.0,1209.9h11.5v11.5h-11.5zM949.5,1209.5h11.5v11.5h-11.5zM951.0,1209.0h11.5v11.5h-11.5zM952.6,1208.5h11.5v11.5h-11.5zM954.1,1208.1h11.5v11.5h-11.5zM955.6,1207.6h11.5v11.5h-11.5zM957.2,1207.2h11.5v11.5h-11.5zM958.7,1206.7h11.5v11.5h-11.5zM960.2,1206.2h11.5v11.5h-11.5zM961.8,1205.8h11.5v11.5h-11.5zM963.3,1205.3h11.5v11.5h-11.5zM964.8,1204.8h11.5v11.5h-11.5zM966.4,1204.3h11.5v11.5h-11.5zM967.9,1203.8h11.5v11.5h-11.5zM969.4,1203.3h11.5v11.5h-11.5zM970.9,1202.8h11.5v11.5h-11.5zM972.4,1202.3h11.5v11.5h-11.5zM974.0,1201.8h11.5v11.5h-11.5zM975.5,1201.3h11.5v11.5h-11.5zM977.0,1200.8h11.5v11.5h-11.5zM978.5,1200.3h11.5v11.5h-11.5zM980.0,1199.8h11.5v11.5h-11.5zM981.5,1199.3h11.5v11.5h-11.5zM983.1,1198.8h11.5v11.5h-11.5zM984.6,1198.3h11.5v11.5h-11.5zM986.1,1197.7h11.5v11.5h-11.5zM987.6,1197.2h11.5v11.5h-11.5zM989.1,1196.7h11.5v11.5h-11.5zM990.6,1196.2h11.5v11.5h-11.5zM992.1,1195.7h11.5v11.5h-11.5zM993.6,1195.1h11.5v11.5h-11.5zM995.2,1194.6h11.5v11.5h-11.5zM996.7,1194.1h11.5v11.5h-11.5zM998.2,1193.6h11.5v11.5h-11.5zM999.7,1193.0h11.5v11.5h-11.5zM1001.2,1192.5h11.5v11.5h-11.5zM1002.7,1192.0h11.5v11.5h-11.5zM1004.2,1191.5h11.5v11.5h-11.5zM1005.8,1191.0h11.5v11.5h-11.5zM1007.3,1190.4h11.5v11.5h-11.5zM1008.8,1189.9h11.5v11.5h-11.5zM1010.3,1189.4h11.5v11.5h-11.5zM1011.8,1188.9h11.5v11.5h-11.5zM1013.3,1188.4h11.5v11.5h-11.5zM1014.9,1187.9h11.5v11.5h-11.5zM1016.4,1187.4h11.5v11.5h-11.5zM1017.9,1186.9h11.5v11.5h-11.5zM1019.4,1186.4h11.5v11.5h-11.5zM1021.0,1185.9h11.5v11.5h-11.5zM1022.5,1185.5h11.5v11.5h-11.5zM1024.0,1185.0h11.5v11.5h-11.5zM1025.6,1184.5h11.5v11.5h-11.5zM1027.1,1184.0h11.5v11.5h-11.5zM1028.6,1183.5h11.5v11.5h-11.5zM1030.2,1183.1h11.5v11.5h-11.5zM1031.7,1182.6h11.5v11.5h-11.5zM1033.2,1182.1h11.5v11.5h-11.5zM1034.8,1181.6h11.5v11.5h-11.5zM1036.3,1181.1h11.5v11.5h-11.5zM1037.8,1180.6h11.5v11.5h-11.5zM1039.3,1180.1h11.5v11.5h-11.5zM1040.9,1179.6h11.5v11.5h-11.5zM1042.4,1179.1h11.5v11.5h-11.5zM1043.9,1178.6h11.5v11.5h-11.5zM1045.4,1178.1h11.5v11.5h-11.5zM1046.9,1177.5h11.5v11.5h-11.5zM1048.4,1177.0h11.5v11.5h-11.5zM1049.9,1176.4h11.5v11.5h-11.5zM1051.4,1175.9h11.5v11.5h-11.5zM1052.9,1175.3h11.5v11.5h-11.5zM1054.3,1174.7h11.5v11.5h-11.5zM1055.8,1174.1h11.5v11.5h-11.5zM1057.3,1173.5h11.5v11.5h-11.5zM1058.7,1172.9h11.5v11.5h-11.5zM1060.2,1172.2h11.5v11.5h-11.5zM1061.7,1171.6h11.5v11.5h-11.5zM1063.1,1170.9h11.5v11.5h-11.5zM1064.6,1170.2h11.5v11.5h-11.5zM1066.0,1169.6h11.5v11.5h-11.5zM1067.5,1168.9h11.5v11.5h-11.5zM1068.9,1168.2h11.5v11.5h-11.5zM1070.4,1167.4h11.5v11.5h-11.5zM1071.8,1166.7h11.5v11.5h-11.5zM1073.3,1166.0h11.5v11.5h-11.5zM1074.7,1165.2h11.5v11.5h-11.5zM1076.1,1164.5h11.5v11.5h-11.5zM1077.5,1163.7h11.5v11.5h-11.5zM1079.0,1163.0h11.5v11.5h-11.5zM1080.4,1162.2h11.5v11.5h-11.5zM1081.8,1161.4h11.5v11.5h-11.5zM1083.2,1160.6h11.5v11.5h-11.5zM1084.5,1159.8h11.5v11.5h-11.5zM1085.9,1159.0h11.5v11.5h-11.5zM1087.3,1158.2h11.5v11.5h-11.5zM1088.6,1157.4h11.5v11.5h-11.5zM1090.0,1156.5h11.5v11.5h-11.5zM1091.3,1155.7h11.5v11.5h-11.5zM1092.7,1154.8h11.5v11.5h-11.5zM1094.0,1154.0h11.5v11.5h-11.5zM1095.3,1153.1h11.5v11.5h-11.5zM1096.6,1152.1h11.5v11.5h-11.5zM1097.9,1151.2h11.5v11.5h-11.5zM1099.1,1150.3h11.5v11.5h-11.5zM1100.4,1149.3h11.5v11.5h-11.5zM1101.7,1148.3h11.5v11.5h-11.5zM1102.9,1147.3h11.5v11.5h-11.5zM1104.2,1146.3h11.5v11.5h-11.5zM1105.4,1145.3h11.5v11.5h-11.5zM1106.7,1144.3h11.5v11.5h-11.5zM1107.9,1143.2h11.5v11.5h-11.5zM1109.1,1142.2h11.5v11.5h-11.5zM1110.4,1141.2h11.5v11.5h-11.5zM1111.6,1140.1h11.5v11.5h-11.5zM1112.8,1139.1h11.5v11.5h-11.5zM1114.1,1138.1h11.5v11.5h-11.5zM1115.3,1137.0h11.5v11.5h-11.5zM1116.5,1136.0h11.5v11.5h-11.5zM1117.8,1135.0h11.5v11.5h-11.5zM1119.0,1134.0h11.5v11.5h-11.5zM1120.3,1132.9h11.5v11.5h-11.5zM1121.5,1131.9h11.5v11.5h-11.5zM1122.8,1131.0h11.5v11.5h-11.5zM1124.1,1130.0h11.5v11.5h-11.5zM1125.3,1129.0h11.5v11.5h-11.5zM1126.6,1128.1h11.5v11.5h-11.5zM1127.9,1127.2h11.5v11.5h-11.5zM1129.2,1126.2h11.5v11.5h-11.5zM1130.6,1125.3h11.5v11.5h-11.5zM1131.9,1124.4h11.5v11.5h-11.5zM1133.2,1123.5h11.5v11.5h-11.5zM1134.5,1122.5h11.5v11.5h-11.5zM1135.8,1121.6h11.5v11.5h-11.5zM1137.1,1120.6h11.5v11.5h-11.5zM1138.3,1119.7h11.5v11.5h-11.5zM1139.6,1118.7h11.5v11.5h-11.5zM1140.9,1117.8h11.5v11.5h-11.5zM1142.2,1116.8h11.5v11.5h-11.5zM1143.5,1115.9h11.5v11.5h-11.5zM1144.8,1114.9h11.5v11.5h-11.5zM1146.1,1114.0h11.5v11.5h-11.5zM1147.4,1113.0h11.5v11.5h-11.5zM1148.7,1112.0h11.5v11.5h-11.5zM1150.0,1111.1h11.5v11.5h-11.5zM1151.3,1110.1h11.5v11.5h-11.5zM1152.6,1109.1h11.5v11.5h-11.5zM1153.8,1108.1h11.5v11.5h-11.5zM1155.1,1107.1h11.5v11.5h-11.5zM1156.3,1106.1h11.5v11.5h-11.5zM1157.5,1105.0h11.5v11.5h-11.5zM1158.7,1104.0h11.5v11.5h-11.5zM1159.9,1102.9h11.5v11.5h-11.5zM1161.1,1101.9h11.5v11.5h-11.5zM1162.2,1100.8h11.5v11.5h-11.5zM1163.3,1099.7h11.5v11.5h-11.5zM1164.4,1098.6h11.5v11.5h-11.5zM1165.5,1097.4h11.5v11.5h-11.5zM1166.6,1096.3h11.5v11.5h-11.5zM1167.7,1095.1h11.5v11.5h-11.5zM1168.7,1093.9h11.5v11.5h-11.5zM1169.8,1092.7h11.5v11.5h-11.5zM1170.8,1091.5h11.5v11.5h-11.5zM1171.9,1090.3h11.5v11.5h-11.5zM1172.9,1089.1h11.5v11.5h-11.5zM1173.9,1087.8h11.5v11.5h-11.5zM1174.9,1086.5h11.5v11.5h-11.5zM1175.9,1085.3h11.5v11.5h-11.5zM1176.9,1084.0h11.5v11.5h-11.5zM1177.9,1082.7h11.5v11.5h-11.5zM1178.8,1081.4h11.5v11.5h-11.5zM1179.8,1080.1h11.5v11.5h-11.5zM1180.8,1078.8h11.5v11.5h-11.5zM1181.7,1077.5h11.5v11.5h-11.5zM1182.6,1076.2h11.5v11.5h-11.5zM1183.6,1074.9h11.5v11.5h-11.5zM1184.5,1073.5h11.5v11.5h-11.5zM1185.4,1072.2h11.5v11.5h-11.5zM1186.3,1070.9h11.5v11.5h-11.5zM1187.2,1069.5h11.5v11.5h-11.5zM1188.1,1068.2h11.5v11.5h-11.5zM1188.9,1066.8h11.5v11.5h-11.5zM1189.8,1065.5h11.5v11.5h-11.5zM1190.6,1064.2h11.5v11.5h-11.5zM1191.5,1062.8h11.5v11.5h-11.5zM1192.3,1061.5h11.5v11.5h-11.5zM1193.1,1060.1h11.5v11.5h-11.5zM1193.9,1058.7h11.5v11.5h-11.5zM1194.7,1057.3h11.5v11.5h-11.5zM1195.5,1055.9h11.5v11.5h-11.5zM1196.3,1054.5h11.5v11.5h-11.5zM1197.0,1053.1h11.5v11.5h-11.5zM1197.8,1051.7h11.5v11.5h-11.5zM1198.5,1050.3h11.5v11.5h-11.5zM1199.3,1048.8h11.5v11.5h-11.5zM1200.0,1047.4h11.5v11.5h-11.5zM1200.7,1046.0h11.5v11.5h-11.5zM1201.5,1044.5h11.5v11.5h-11.5zM1202.2,1043.1h11.5v11.5h-11.5zM1202.9,1041.7h11.5v11.5h-11.5zM1203.6,1040.2h11.5v11.5h-11.5zM1204.3,1038.8h11.5v11.5h-11.5zM1205.0,1037.4h11.5v11.5h-11.5zM1205.7,1035.9h11.5v11.5h-11.5zM1206.4,1034.5h11.5v11.5h-11.5zM1207.1,1033.1h11.5v11.5h-11.5zM1207.8,1031.6h11.5v11.5h-11.5zM1208.5,1030.2h11.5v11.5h-11.5zM1209.2,1028.7h11.5v11.5h-11.5zM1209.9,1027.3h11.5v11.5h-11.5zM1210.5,1025.8h11.5v11.5h-11.5zM1211.2,1024.3h11.5v11.5h-11.5zM1211.9,1022.9h11.5v11.5h-11.5zM1212.5,1021.4h11.5v11.5h-11.5zM1213.2,1020.0h11.5v11.5h-11.5zM1213.8,1018.5h11.5v11.5h-11.5zM1214.4,1017.0h11.5v11.5h-11.5zM1215.1,1015.6h11.5v11.5h-11.5zM1215.7,1014.1h11.5v11.5h-11.5zM1216.3,1012.6h11.5v11.5h-11.5zM1216.9,1011.1h11.5v11.5h-11.5zM1217.5,1009.6h11.5v11.5h-11.5zM1218.1,1008.2h11.5v11.5h-11.5zM1218.7,1006.7h11.5v11.5h-11.5zM1219.3,1005.2h11.5v11.5h-11.5zM1219.9,1003.7h11.5v11.5h-11.5zM1220.5,1002.2h11.5v11.5h-11.5zM1221.1,1000.7h11.5v11.5h-11.5zM1221.6,999.2h11.5v11.5h-11.5zM1222.2,997.7h11.5v11.5h-11.5zM1222.8,996.2h11.5v11.5h-11.5zM1223.3,994.7h11.5v11.5h-11.5zM1223.9,993.2h11.5v11.5h-11.5zM1224.4,991.7h11.5v11.5h-11.5zM1225.0,990.2h11.5v11.5h-11.5zM1225.5,988.7h11.5v11.5h-11.5zM1226.1,987.2h11.5v11.5h-11.5zM1226.6,985.7h11.5v11.5h-11.5zM1227.1,984.2h11.5v11.5h-11.5zM1227.7,982.7h11.5v11.5h-11.5zM1228.2,981.2h11.5v11.5h-11.5zM1228.7,979.6h11.5v11.5h-11.5zM1229.2,978.1h11.5v11.5h-11.5zM1229.7,976.6h11.5v11.5h-11.5zM1230.2,975.1h11.5v11.5h-11.5zM1230.7,973.6h11.5v11.5h-11.5zM1231.2,972.0h11.5v11.5h-11.5zM1231.7,970.5h11.5v11.5h-11.5zM1232.1,969.0h11.5v11.5h-11.5zM1232.6,967.5h11.5v11.5h-11.5zM1233.1,965.9h11.5v11.5h-11.5zM1233.6,964.4h11.5v11.5h-11.5zM1234.0,962.9h11.5v11.5h-11.5zM1234.5,961.3h11.5v11.5h-11.5zM1234.9,959.8h11.5v11.5h-11.5zM1235.4,958.3h11.5v11.5h-11.5zM1235.8,956.7h11.5v11.5h-11.5zM1236.3,955.2h11.5v11.5h-11.5zM1236.7,953.6h11.5v11.5h-11.5zM1237.1,952.1h11.5v11.5h-11.5zM1237.6,950.5h11.5v11.5h-11.5zM1238.0,949.0h11.5v11.5h-11.5zM1238.4,947.5h11.5v11.5h-11.5zM1238.8,945.9h11.5v11.5h-11.5zM1239.2,944.4h11.5v11.5h-11.5zM1239.6,942.8h11.5v11.5h-11.5zM1240.0,941.3h11.5v11.5h-11.5zM1240.4,939.7h11.5v11.5h-11.5zM1240.7,938.2h11.5v11.5h-11.5zM1241.1,936.6h11.5v11.5h-11.5zM1241.5,935.0h11.5v11.5h-11.5zM1241.8,933.5h11.5v11.5h-11.5zM1242.2,931.9h11.5v11.5h-11.5zM1242.5,930.4h11.5v11.5h-11.5zM1242.9,928.8h11.5v11.5h-11.5zM1243.2,927.2h11.5v11.5h-11.5zM1243.6,925.7h11.5v11.5h-11.5zM1243.9,924.1h11.5v11.5h-11.5zM1244.2,922.5h11.5v11.5h-11.5zM1244.5,921.0h11.5v11.5h-11.5zM1244.9,919.4h11.5v11.5h-11.5zM1245.2,917.8h11.5v11.5h-11.5zM1245.5,916.3h11.5v11.5h-11.5zM1245.8,914.7h11.5v11.5h-11.5zM1246.1,913.1h11.5v11.5h-11.5zM1246.4,911.5h11.5v11.5h-11.5zM1246.7,910.0h11.5v11.5h-11.5zM1247.0,908.4h11.5v11.5h-11.5zM1247.3,906.8h11.5v11.5h-11.5zM1247.6,905.2h11.5v11.5h-11.5zM1247.9,903.7h11.5v11.5h-11.5zM1248.2,902.1h11.5v11.5h-11.5zM1248.5,900.5h11.5v11.5h-11.5zM1248.7,899.0h11.5v11.5h-11.5zM1249.0,897.4h11.5v11.5h-11.5zM1249.3,895.8h11.5v11.5h-11.5zM1249.5,894.2h11.5v11.5h-11.5zM1249.8,892.6h11.5v11.5h-11.5zM1250.1,891.1h11.5v11.5h-11.5zM1250.3,889.5h11.5v11.5h-11.5zM1250.6,887.9h11.5v11.5h-11.5zM1250.8,886.3h11.5v11.5h-11.5zM1251.1,884.7h11.5v11.5h-11.5zM1251.3,883.2h11.5v11.5h-11.5zM1251.6,881.6h11.5v11.5h-11.5zM1251.8,880.0h11.5v11.5h-11.5zM1252.1,878.4h11.5v11.5h-11.5zM1252.3,876.8h11.5v11.5h-11.5zM1252.5,875.2h11.5v11.5h-11.5zM1252.8,873.7h11.5v11.5h-11.5zM1253.0,872.1h11.5v11.5h-11.5zM1253.3,870.5h11.5v11.5h-11.5zM1253.5,868.9h11.5v11.5h-11.5zM1253.8,867.3h11.5v11.5h-11.5zM1254.0,865.8h11.5v11.5h-11.5zM1254.2,864.2h11.5v11.5h-11.5zM1254.5,862.6h11.5v11.5h-11.5zM1254.7,861.0h11.5v11.5h-11.5zM1255.0,859.4h11.5v11.5h-11.5zM1255.2,857.8h11.5v11.5h-11.5zM1255.4,856.3h11.5v11.5h-11.5zM1255.7,854.7h11.5v11.5h-11.5zM1255.9,853.1h11.5v11.5h-11.5zM1256.1,851.5h11.5v11.5h-11.5zM1256.4,849.9h11.5v11.5h-11.5zM1256.6,848.3h11.5v11.5h-11.5zM1256.9,846.8h11.5v11.5h-11.5zM1257.1,845.2h11.5v11.5h-11.5zM1257.3,843.6h11.5v11.5h-11.5zM1257.5,842.0h11.5v11.5h-11.5zM1257.8,840.4h11.5v11.5h-11.5zM1258.0,838.8h11.5v11.5h-11.5zM1258.2,837.3h11.5v11.5h-11.5zM1258.5,835.7h11.5v11.5h-11.5zM1258.7,834.1h11.5v11.5h-11.5zM1258.9,832.5h11.5v11.5h-11.5zM1259.1,830.9h11.5v11.5h-11.5zM1259.4,829.3h11.5v11.5h-11.5zM1259.6,827.8h11.5v11.5h-11.5zM1259.8,826.2h11.5v11.5h-11.5zM1260.0,824.6h11.5v11.5h-11.5zM1260.3,823.0h11.5v11.5h-11.5zM1260.5,821.4h11.5v11.5h-11.5zM1260.7,819.8h11.5v11.5h-11.5zM1261.0,818.2h11.5v11.5h-11.5zM1261.2,816.7h11.5v11.5h-11.5zM1261.4,815.1h11.5v11.5h-11.5zM1261.6,813.5h11.5v11.5h-11.5zM1261.9,811.9h11.5v11.5h-11.5zM1262.1,810.3h11.5v11.5h-11.5zM1262.3,808.7h11.5v11.5h-11.5zM1262.5,807.1h11.5v11.5h-11.5zM1262.7,805.6h11.5v11.5h-11.5zM1262.9,804.0h11.5v11.5h-11.5zM1263.1,802.4h11.5v11.5h-11.5zM1263.3,800.8h11.5v11.5h-11.5zM1263.5,799.2h11.5v11.5h-11.5zM1263.7,797.6h11.5v11.5h-11.5zM1263.9,796.0h11.5v11.5h-11.5zM1264.1,794.4h11.5v11.5h-11.5zM1264.3,792.9h11.5v11.5h-11.5zM1264.5,791.3h11.5v11.5h-11.5zM1264.7,789.7h11.5v11.5h-11.5zM1264.9,788.1h11.5v11.5h-11.5zM1265.0,786.5h11.5v11.5h-11.5zM1265.2,784.9h11.5v11.5h-11.5zM1265.4,783.3h11.5v11.5h-11.5zM1265.6,781.7h11.5v11.5h-11.5zM1265.7,780.1h11.5v11.5h-11.5zM1265.9,778.6h11.5v11.5h-11.5zM1266.1,777.0h11.5v11.5h-11.5zM1266.3,775.4h11.5v11.5h-11.5zM1266.4,773.8h11.5v11.5h-11.5zM1266.6,772.2h11.5v11.5h-11.5zM1266.8,770.6h11.5v11.5h-11.5zM1266.9,769.0h11.5v11.5h-11.5zM1267.1,767.4h11.5v11.5h-11.5zM1267.3,765.8h11.5v11.5h-11.5zM1267.4,764.2h11.5v11.5h-11.5zM1267.6,762.6h11.5v11.5h-11.5zM1267.7,761.0h11.5v11.5h-11.5zM1267.9,759.4h11.5v11.5h-11.5zM1268.1,757.9h11.5v11.5h-11.5zM1268.2,756.3h11.5v11.5h-11.5zM1268.4,754.7h11.5v11.5h-11.5zM1268.5,753.1h11.5v11.5h-11.5zM1268.7,751.5h11.5v11.5h-11.5zM1268.8,749.9h11.5v11.5h-11.5zM1269.0,748.3h11.5v11.5h-11.5zM1269.1,746.7h11.5v11.5h-11.5zM1269.3,745.1h11.5v11.5h-11.5zM1269.4,743.5h11.5v11.5h-11.5zM1269.6,741.9h11.5v11.5h-11.5zM1269.7,740.3h11.5v11.5h-11.5zM1269.8,738.7h11.5v11.5h-11.5zM1270.0,737.1h11.5v11.5h-11.5zM1270.1,735.5h11.5v11.5h-11.5zM1270.3,733.9h11.5v11.5h-11.5zM1270.4,732.3h11.5v11.5h-11.5zM1270.5,730.8h11.5v11.5h-11.5zM1270.7,729.2h11.5v11.5h-11.5zM1270.8,727.6h11.5v11.5h-11.5zM1270.9,726.0h11.5v11.5h-11.5zM1271.1,724.4h11.5v11.5h-11.5zM1271.2,722.8h11.5v11.5h-11.5zM1271.3,721.2h11.5v11.5h-11.5zM1271.5,719.6h11.5v11.5h-11.5zM1271.6,718.0h11.5v11.5h-11.5zM1271.7,716.4h11.5v11.5h-11.5zM1271.8,714.8h11.5v11.5h-11.5zM1272.0,713.2h11.5v11.5h-11.5zM1272.1,711.6h11.5v11.5h-11.5zM1272.2,710.0h11.5v11.5h-11.5zM1272.3,708.4h11.5v11.5h-11.5zM1272.5,706.8h11.5v11.5h-11.5zM1272.6,705.2h11.5v11.5h-11.5zM1272.7,703.6h11.5v11.5h-11.5zM1272.8,702.0h11.5v11.5h-11.5zM1272.9,700.4h11.5v11.5h-11.5zM1273.1,698.8h11.5v11.5h-11.5zM1273.2,697.3h11.5v11.5h-11.5zM1273.3,695.7h11.5v11.5h-11.5zM1273.4,694.1h11.5v11.5h-11.5zM1273.5,692.5h11.5v11.5h-11.5zM1273.6,690.9h11.5v11.5h-11.5zM1273.7,689.3h11.5v11.5h-11.5zM1273.9,687.7h11.5v11.5h-11.5zM1274.0,686.1h11.5v11.5h-11.5zM1274.1,684.5h11.5v11.5h-11.5zM1274.2,682.9h11.5v11.5h-11.5zM1274.3,681.3h11.5v11.5h-11.5zM1274.4,679.7h11.5v11.5h-11.5zM1274.5,678.1h11.5v11.5h-11.5zM1274.6,676.5h11.5v11.5h-11.5zM1274.7,674.9h11.5v11.5h-11.5zM1274.8,673.3h11.5v11.5h-11.5zM1274.9,671.7h11.5v11.5h-11.5zM1275.0,670.1h11.5v11.5h-11.5zM1275.1,668.5h11.5v11.5h-11.5zM1275.2,666.9h11.5v11.5h-11.5zM1275.3,665.3h11.5v11.5h-11.5zM1275.4,663.7h11.5v11.5h-11.5zM1275.5,662.1h11.5v11.5h-11.5zM1275.6,660.5h11.5v11.5h-11.5zM1275.7,658.9h11.5v11.5h-11.5zM1275.8,657.3h11.5v11.5h-11.5zM1275.9,655.7h11.5v11.5h-11.5zM1276.0,654.1h11.5v11.5h-11.5zM1276.1,652.5h11.5v11.5h-11.5zM1276.2,650.9h11.5v11.5h-11.5zM1276.3,649.3h11.5v11.5h-11.5zM1276.4,647.7h11.5v11.5h-11.5zM1276.5,646.1h11.5v11.5h-11.5zM1276.6,644.5h11.5v11.5h-11.5zM1276.7,642.9h11.5v11.5h-11.5zM1276.8,641.3h11.5v11.5h-11.5zM1276.9,639.8h11.5v11.5h-11.5zM1277.0,638.2h11.5v11.5h-11.5zM1277.1,636.6h11.5v11.5h-11.5zM1277.1,635.0h11.5v11.5h-11.5zM1277.2,633.4h11.5v11.5h-11.5zM1277.3,631.8h11.5v11.5h-11.5zM1277.4,630.2h11.5v11.5h-11.5zM1277.5,628.6h11.5v11.5h-11.5zM1277.6,627.0h11.5v11.5h-11.5zM1277.7,625.4h11.5v11.5h-11.5zM1277.7,623.8h11.5v11.5h-11.5zM1277.8,622.2h11.5v11.5h-11.5zM1277.9,620.6h11.5v11.5h-11.5zM1278.0,619.0h11.5v11.5h-11.5zM1278.1,617.4h11.5v11.5h-11.5zM1278.1,615.8h11.5v11.5h-11.5zM1278.2,614.2h11.5v11.5h-11.5zM1278.3,612.6h11.5v11.5h-11.5zM1278.4,611.0h11.5v11.5h-11.5zM1278.5,609.4h11.5v11.5h-11.5zM1278.5,607.8h11.5v11.5h-11.5zM1278.6,606.2h11.5v11.5h-11.5zM1278.7,604.6h11.5v11.5h-11.5zM1278.8,603.0h11.5v11.5h-11.5zM1278.8,601.4h11.5v11.5h-11.5zM1278.9,599.8h11.5v11.5h-11.5zM1279.0,598.2h11.5v11.5h-11.5zM1279.1,596.6h11.5v11.5h-11.5zM1279.1,595.0h11.5v11.5h-11.5zM1279.2,593.4h11.5v11.5h-11.5zM1279.3,591.8h11.5v11.5h-11.5zM1279.4,590.2h11.5v11.5h-11.5zM1279.4,588.6h11.5v11.5h-11.5zM1279.5,587.0h11.5v11.5h-11.5zM1279.6,585.4h11.5v11.5h-11.5zM1279.6,583.8h11.5v11.5h-11.5zM1279.7,582.2h11.5v11.5h-11.5zM1279.8,580.6h11.5v11.5h-11.5zM1279.8,579.0h11.5v11.5h-11.5zM1279.9,577.4h11.5v11.5h-11.5zM1280.0,575.8h11.5v11.5h-11.5zM1280.0,574.2h11.5v11.5h-11.5zM1280.1,572.6h11.5v11.5h-11.5zM1280.2,571.0h11.5v11.5h-11.5zM1280.2,569.4h11.5v11.5h-11.5zM1280.3,567.8h11.5v11.5h-11.5zM1280.4,566.2h11.5v11.5h-11.5zM1280.4,564.6h11.5v11.5h-11.5zM1280.5,563.0h11.5v11.5h-11.5zM1280.6,561.4h11.5v11.5h-11.5zM1280.6,559.8h11.5v11.5h-11.5zM1280.7,558.2h11.5v11.5h-11.5zM1280.8,556.6h11.5v11.5h-11.5zM1280.8,555.0h11.5v11.5h-11.5zM1280.9,553.4h11.5v11.5h-11.5zM1281.0,551.8h11.5v11.5h-11.5zM1281.0,550.2h11.5v11.5h-11.5zM1281.1,548.6h11.5v11.5h-11.5zM1281.1,547.0h11.5v11.5h-11.5zM1281.2,545.4h11.5v11.5h-11.5zM1281.3,543.8h11.5v11.5h-11.5zM1281.3,542.2h11.5v11.5h-11.5zM1281.4,540.6h11.5v11.5h-11.5zM1281.5,539.0h11.5v11.5h-11.5zM1281.5,537.4h11.5v11.5h-11.5zM1281.6,535.8h11.5v11.5h-11.5zM1281.6,534.2h11.5v11.5h-11.5zM1281.7,532.6h11.5v11.5h-11.5zM1281.8,531.0h11.5v11.5h-11.5zM1281.8,529.4h11.5v11.5h-11.5zM1281.9,527.8h11.5v11.5h-11.5zM1282.0,526.2h11.5v11.5h-11.5zM1282.0,524.6h11.5v11.5h-11.5zM1282.1,523.0h11.5v11.5h-11.5zM1282.1,521.4h11.5v11.5h-11.5zM1282.2,519.8h11.5v11.5h-11.5zM1282.3,518.2h11.5v11.5h-11.5zM1282.3,516.6h11.5v11.5h-11.5zM1282.4,515.0h11.5v11.5h-11.5zM1282.5,513.4h11.5v11.5h-11.5zM1282.5,511.8h11.5v11.5h-11.5zM1282.6,510.2h11.5v11.5h-11.5zM1282.6,508.6h11.5v11.5h-11.5zM1282.7,507.0h11.5v11.5h-11.5zM1282.8,505.4h11.5v11.5h-11.5zM1282.8,503.8h11.5v11.5h-11.5zM1282.9,502.2h11.5v11.5h-11.5zM1282.9,500.6h11.5v11.5h-11.5zM1283.0,499.0h11.5v11.5h-11.5zM1283.1,497.4h11.5v11.5h-11.5zM1283.1,495.8h11.5v11.5h-11.5zM1283.2,494.2h11.5v11.5h-11.5zM1283.3,492.6h11.5v11.5h-11.5zM1283.3,491.0h11.5v11.5h-11.5zM1283.4,489.5h11.5v11.5h-11.5zM1283.4,487.9h11.5v11.5h-11.5zM1283.5,486.3h11.5v11.5h-11.5zM1283.5,484.7h11.5v11.5h-11.5zM1283.6,483.1h11.5v11.5h-11.5zM1283.7,481.5h11.5v11.5h-11.5zM1283.7,479.9h11.5v11.5h-11.5zM1283.8,478.3h11.5v11.5h-11.5zM1283.8,476.7h11.5v11.5h-11.5zM1283.9,475.1h11.5v11.5h-11.5zM1284.0,473.5h11.5v11.5h-11.5zM1284.0,471.9h11.5v11.5h-11.5zM1284.1,470.3h11.5v11.5h-11.5zM1284.1,468.7h11.5v11.5h-11.5zM1284.2,467.1h11.5v11.5h-11.5zM1284.2,465.5h11.5v11.5h-11.5zM1284.3,463.9h11.5v11.5h-11.5zM1284.3,462.3h11.5v11.5h-11.5zM1284.4,460.7h11.5v11.5h-11.5zM1284.4,459.1h11.5v11.5h-11.5zM1284.5,457.5h11.5v11.5h-11.5zM1284.6,455.9h11.5v11.5h-11.5zM1284.6,454.3h11.5v11.5h-11.5zM1284.7,452.7h11.5v11.5h-11.5zM1284.7,451.1h11.5v11.5h-11.5zM1284.8,449.5h11.5v11.5h-11.5zM1284.8,447.9h11.5v11.5h-11.5zM1284.9,446.3h11.5v11.5h-11.5zM1284.9,444.7h11.5v11.5h-11.5zM1285.0,443.1h11.5v11.5h-11.5zM1285.0,441.5h11.5v11.5h-11.5zM1285.0,439.9h11.5v11.5h-11.5zM1285.1,438.3h11.5v11.5h-11.5zM1285.1,436.7h11.5v11.5h-11.5zM1285.2,435.1h11.5v11.5h-11.5zM1285.2,433.5h11.5v11.5h-11.5zM1285.3,431.9h11.5v11.5h-11.5zM1285.3,430.3h11.5v11.5h-11.5zM1285.4,428.7h11.5v11.5h-11.5zM1285.4,427.1h11.5v11.5h-11.5zM1285.4,425.5h11.5v11.5h-11.5zM1285.5,423.9h11.5v11.5h-11.5zM1285.5,422.3h11.5v11.5h-11.5zM1285.6,420.7h11.5v11.5h-11.5zM1285.6,419.1h11.5v11.5h-11.5zM1285.7,417.5h11.5v11.5h-11.5zM1285.7,415.9h11.5v11.5h-11.5zM1285.7,414.3h11.5v11.5h-11.5zM1285.8,412.7h11.5v11.5h-11.5zM1285.8,411.1h11.5v11.5h-11.5zM1285.9,409.5h11.5v11.5h-11.5zM1285.9,407.9h11.5v11.5h-11.5zM1285.9,406.3h11.5v11.5h-11.5zM1286.0,404.7h11.5v11.5h-11.5zM1286.0,403.1h11.5v11.5h-11.5zM1286.0,401.5h11.5v11.5h-11.5zM1286.1,399.9h11.5v11.5h-11.5zM1286.1,398.3h11.5v11.5h-11.5zM1286.2,396.7h11.5v11.5h-11.5zM1286.2,395.1h11.5v11.5h-11.5zM1286.2,393.5h11.5v11.5h-11.5zM1286.3,391.9h11.5v11.5h-11.5zM1286.3,390.3h11.5v11.5h-11.5zM1286.3,388.7h11.5v11.5h-11.5zM1286.4,387.1h11.5v11.5h-11.5zM1286.4,385.5h11.5v11.5h-11.5zM1286.5,383.9h11.5v11.5h-11.5zM1286.5,382.3h11.5v11.5h-11.5zM1286.5,380.7h11.5v11.5h-11.5zM1286.6,379.1h11.5v11.5h-11.5zM1286.6,377.5h11.5v11.5h-11.5zM1286.6,375.9h11.5v11.5h-11.5zM1286.7,374.3h11.5v11.5h-11.5zM1286.7,372.7h11.5v11.5h-11.5zM1286.7,371.1h11.5v11.5h-11.5zM1286.8,369.5h11.5v11.5h-11.5zM1286.8,367.9h11.5v11.5h-11.5zM1286.8,366.3h11.5v11.5h-11.5zM1286.9,364.7h11.5v11.5h-11.5zM1286.9,363.1h11.5v11.5h-11.5zM1286.9,361.5h11.5v11.5h-11.5zM1286.9,359.9h11.5v11.5h-11.5zM1287.0,358.3h11.5v11.5h-11.5zM1287.0,356.7h11.5v11.5h-11.5zM1287.0,355.1h11.5v11.5h-11.5zM1287.1,353.5h11.5v11.5h-11.5zM1287.1,351.9h11.5v11.5h-11.5zM1287.1,350.3h11.5v11.5h-11.5zM1287.1,348.7h11.5v11.5h-11.5zM1287.2,347.1h11.5v11.5h-11.5zM1287.2,345.5h11.5v11.5h-11.5zM1287.2,343.9h11.5v11.5h-11.5zM1287.3,342.3h11.5v11.5h-11.5zM1287.3,340.7h11.5v11.5h-11.5zM1287.3,339.1h11.5v11.5h-11.5zM1287.3,337.5h11.5v11.5h-11.5zM1287.4,335.9h11.5v11.5h-11.5zM1287.4,334.3h11.5v11.5h-11.5zM1287.4,332.7h11.5v11.5h-11.5zM1287.4,331.1h11.5v11.5h-11.5zM1287.5,329.5h11.5v11.5h-11.5zM1287.5,327.9h11.5v11.5h-11.5zM1287.5,326.3h11.5v11.5h-11.5zM1287.5,324.7h11.5v11.5h-11.5zM1287.6,323.1h11.5v11.5h-11.5zM1287.6,321.5h11.5v11.5h-11.5zM1287.6,319.9h11.5v11.5h-11.5zM1287.6,318.3h11.5v11.5h-11.5zM1287.7,316.7h11.5v11.5h-11.5zM1287.7,315.1h11.5v11.5h-11.5zM1287.7,313.5h11.5v11.5h-11.5zM1287.7,311.9h11.5v11.5h-11.5zM1287.7,310.3h11.5v11.5h-11.5zM1287.8,308.7h11.5v11.5h-11.5zM1287.8,307.1h11.5v11.5h-11.5zM1287.8,305.5h11.5v11.5h-11.5zM1287.8,303.9h11.5v11.5h-11.5zM1287.9,302.3h11.5v11.5h-11.5zM1287.9,300.7h11.5v11.5h-11.5zM1287.9,299.1h11.5v11.5h-11.5zM1287.9,297.5h11.5v11.5h-11.5zM1287.9,295.9h11.5v11.5h-11.5zM1288.0,294.3h11.5v11.5h-11.5zM1288.0,292.7h11.5v11.5h-11.5zM1288.0,291.1h11.5v11.5h-11.5zM1288.0,289.5h11.5v11.5h-11.5zM1288.0,287.9h11.5v11.5h-11.5zM1288.1,286.3h11.5v11.5h-11.5zM1288.1,284.7h11.5v11.5h-11.5zM1288.1,283.1h11.5v11.5h-11.5zM1288.1,281.5h11.5v11.5h-11.5zM1288.1,279.9h11.5v11.5h-11.5zM1288.1,278.3h11.5v11.5h-11.5zM1288.2,276.7h11.5v11.5h-11.5zM1288.2,275.1h11.5v11.5h-11.5zM1288.2,273.5h11.5v11.5h-11.5zM1288.2,271.9h11.5v11.5h-11.5zM1288.2,270.3h11.5v11.5h-11.5zM1288.2,268.7h11.5v11.5h-11.5zM1288.2,267.1h11.5v11.5h-11.5z" fill="#26834D"/>
<path d="M527.5,1330.0a6.1,6.1 0 1,0 12.2,0a6.1,6.1 0 1,0 -12.2,0zM678.9,1330.0a6.1,6.1 0 1,0 12.2,0a6.1,6.1 0 1,0 -12.2,0zM699.9,1330.0a6.1,6.1 0 1,0 12.2,0a6.1,6.1 0 1,0 -12.2,0zM729.2,1330.0a6.1,6.1 0 1,0 12.2,0a6.1,6.1 0 1,0 -12.2,0zM745.6,1330.0a6.1,6.1 0 1,0 12.2,0a6.1,6.1 0 1,0 -12.2,0zM764.9,1330.0a6.1,6.1 0 1,0 12.2,0a6.1,6.1 0 1,0 -12.2,0zM783.9,1330.0a6.1,6.1 0 1,0 12.2,0a6.1,6.1 0 1,0 -12.2,0z" fill="#3BC171"/>
<polyline points="800.0,1330.0 802.7,1328.6 805.4,1327.3 808.1,1326.0 810.8,1324.8 813.6,1323.6 816.4,1322.5 819.2,1321.4 822.0,1320.4 824.8,1319.4 827.7,1318.5 830.6,1317.6 833.4,1316.8 836.4,1316.0 839.3,1315.2 842.2,1314.5 845.1,1313.8 848.0,1313.1 850.9,1312.3 853.8,1311.5 856.7,1310.7 859.5,1309.7 862.4,1308.7 865.2,1307.6 868.0,1306.6 870.9,1305.5 873.7,1304.5 876.5,1303.6 879.4,1302.8 882.3,1302.2 885.3,1301.6 888.2,1301.0 891.2,1300.5 894.2,1300.0 897.1,1299.5 900.1,1298.9 903.0,1298.4 906.0,1297.9 909.0,1297.5 912.0,1297.0 914.9,1296.5 917.9,1296.0 920.8,1295.4 923.8,1294.8 926.7,1294.2 929.6,1293.4 932.4,1292.5 935.3,1291.6 938.1,1290.6 940.9,1289.5 943.8,1288.5 946.6,1287.4 949.4,1286.3 952.2,1285.3 955.1,1284.3 957.9,1283.3 960.7,1282.2 963.5,1281.2 966.4,1280.2 969.2,1279.2 972.1,1278.3 974.9,1277.5 977.9,1276.7 980.8,1276.0 983.7,1275.3 986.6,1274.5 989.4,1273.6 992.3,1272.6 995.0,1271.4 997.8,1270.2 1000.5,1268.9 1003.2,1267.6 1005.9,1266.3 1008.7,1265.0 1011.4,1263.7 1014.2,1262.6 1017.0,1261.5 1019.8,1260.6 1022.7,1259.8 1025.6,1259.0 1028.5,1258.2 1031.4,1257.5 1034.3,1256.7 1037.2,1256.0 1040.2,1255.3 1043.1,1254.6 1046.0,1253.8 1048.9,1253.1 1051.8,1252.4 1054.8,1251.7 1057.7,1251.0 1060.6,1250.2 1063.5,1249.4 1066.3,1248.5 1069.2,1247.6 1072.0,1246.6 1074.9,1245.6 1077.7,1244.6 1080.5,1243.5 1083.2,1242.3 1086.0,1241.1 1088.7,1239.8 1091.4,1238.5 1094.1,1237.2 1096.8,1235.8 1099.4,1234.4 1102.1,1233.0 1104.7,1231.5 1107.2,1229.9 1109.8,1228.4 1112.4,1226.7 1114.9,1225.1 1117.4,1223.5 1119.9,1221.8 1122.4,1220.2 1124.9,1218.5 1127.4,1216.8 1129.9,1215.1 1132.4,1213.4 1134.8,1211.7 1137.3,1209.9 1139.7,1208.2 1142.1,1206.4 1144.6,1204.7 1147.0,1202.9 1149.5,1201.2 1151.9,1199.5 1154.4,1197.7 1156.9,1196.0 1159.4,1194.4 1161.9,1192.7 1164.4,1191.0 1166.9,1189.3 1169.4,1187.6 1171.8,1185.9 1174.3,1184.1 1176.7,1182.4 1179.0,1180.5 1181.3,1178.6 1183.6,1176.7 1185.8,1174.7 1188.1,1172.7 1190.2,1170.6 1192.4,1168.5 1194.6,1166.4 1196.7,1164.3 1198.8,1162.1 1200.9,1159.9 1202.9,1157.8 1205.0,1155.6 1207.1,1153.4 1209.1,1151.2 1211.1,1148.9 1213.1,1146.7 1215.1,1144.4 1216.9,1142.0 1218.7,1139.7 1220.5,1137.3 1222.2,1134.8 1223.9,1132.3 1225.5,1129.7 1227.0,1127.1 1228.6,1124.6 1230.1,1122.0 1231.6,1119.4 1233.0,1116.7 1234.4,1114.1 1235.7,1111.4 1237.1,1108.7 1238.5,1106.0 1239.8,1103.3 1241.2,1100.7 1242.6,1098.0 1244.0,1095.3 1245.4,1092.7 1246.8,1090.0 1248.2,1087.3 1249.5,1084.7 1250.9,1082.0 1252.3,1079.3 1253.6,1076.6 1254.9,1073.9 1256.2,1071.2 1257.5,1068.5 1258.7,1065.8 1260.0,1063.1 1261.2,1060.3 1262.5,1057.6 1263.6,1054.8 1264.7,1052.0 1265.8,1049.2 1266.8,1046.4 1267.8,1043.6 1268.8,1040.7 1269.8,1037.9 1270.7,1035.0 1271.6,1032.1 1272.5,1029.2 1273.3,1026.4 1274.1,1023.5 1274.9,1020.6 1275.6,1017.7 1276.3,1014.8 1277.0,1011.8 1277.6,1008.9 1278.3,1006.0 1278.9,1003.0 1279.4,1000.1 1280.0,997.1 1280.6,994.2 1281.2,991.2 1281.8,988.3 1282.4,985.3 1283.0,982.4 1283.6,979.4 1284.3,976.5 1284.9,973.6 1285.5,970.6 1286.2,967.7 1286.8,964.8 1287.5,961.8 1288.1,958.9 1288.7,956.0 1289.4,953.0 1290.0,950.1 1290.5,947.1 1291.1,944.2 1291.7,941.2 1292.2,938.3 1292.8,935.3 1293.3,932.4 1293.8,929.4 1294.3,926.5 1294.9,923.5 1295.4,920.5 1295.8,917.6 1296.3,914.6 1296.8,911.6 1297.3,908.7 1297.7,905.7 1298.2,902.7 1298.6,899.8 1299.0,896.8 1299.4,893.8 1299.8,890.8 1300.3,887.9 1300.7,884.9 1301.0,881.9 1301.4,878.9 1301.8,875.9 1302.2,873.0 1302.6,870.0 1303.0,867.0 1303.4,864.0 1303.7,861.1 1304.1,858.1 1304.5,855.1 1304.8,852.1 1305.2,849.1 1305.5,846.1 1305.9,843.2 1306.2,840.2 1306.5,837.2 1306.9,834.2 1307.2,831.2 1307.5,828.2 1307.8,825.2 1308.1,822.3 1308.4,819.3 1308.7,816.3 1309.0,813.3 1309.2,810.3 1309.5,807.3 1309.7,804.3 1310.0,801.3 1310.2,798.3 1310.5,795.3 1310.7,792.3 1310.9,789.3 1311.1,786.3 1311.3,783.3 1311.5,780.3 1311.7,777.4 1311.9,774.4 1312.1,771.4 1312.3,768.4 1312.5,765.4 1312.7,762.4 1312.9,759.4 1313.1,756.4 1313.3,753.4 1313.5,750.4 1313.6,747.4 1313.8,744.4 1314.0,741.4 1314.2,738.4 1314.3,735.4 1314.5,732.4 1314.7,729.4 1314.9,726.4 1315.1,723.4 1315.2,720.4 1315.4,717.4 1315.6,714.4 1315.8,711.4 1315.9,708.4 1316.1,705.4 1316.3,702.4 1316.4,699.4 1316.6,696.4 1316.8,693.4 1316.9,690.4 1317.1,687.4 1317.2,684.4 1317.4,681.4 1317.6,678.4 1317.7,675.4 1317.9,672.4 1318.0,669.4 1318.2,666.4 1318.3,663.4 1318.5,660.4 1318.6,657.4 1318.8,654.4 1318.9,651.4 1319.0,648.4 1319.2,645.4 1319.3,642.4 1319.5,639.4 1319.6,636.4 1319.8,633.4 1319.9,630.4 1320.0,627.4 1320.2,624.4 1320.3,621.4 1320.4,618.4 1320.5,615.4 1320.6,612.4 1320.7,609.4 1320.8,606.4 1320.9,603.4 1321.0,600.4 1321.1,597.4 1321.2,594.4 1321.3,591.4 1321.4,588.4 1321.4,585.4 1321.5,582.4 1321.6,579.4 1321.7,576.4 1321.7,573.4 1321.8,570.4 1321.9,567.4 1321.9,564.4 1322.0,561.4 1322.1,558.4 1322.2,555.3 1322.2,552.3 1322.3,549.3 1322.4,546.3 1322.5,543.3 1322.6,540.3 1322.6,537.3 1322.7,534.3 1322.8,531.3 1322.9,528.3 1323.0,525.3 1323.1,522.3 1323.1,519.3 1323.2,516.3 1323.3,513.3 1323.4,510.3 1323.5,507.3 1323.6,504.3 1323.7,501.3 1323.7,498.3 1323.8,495.3 1323.9,492.3 1324.0,489.3 1324.1,486.3 1324.2,483.3 1324.3,480.3 1324.3,477.3 1324.4,474.3 1324.5,471.3 1324.6,468.3 1324.7,465.3 1324.7,462.3 1324.8,459.3 1324.9,456.3 1325.0,453.3 1325.0,450.3 1325.1,447.3 1325.2,444.3 1325.3,441.3 1325.3,438.3 1325.4,435.3 1325.5,432.2 1325.5,429.2 1325.6,426.2 1325.7,423.2 1325.7,420.2 1325.8,417.2 1325.9,414.2 1325.9,411.2 1326.0,408.2 1326.1,405.2 1326.1,402.2 1326.2,399.2 1326.3,396.2 1326.3,393.2 1326.4,390.2 1326.5,387.2 1326.5,384.2 1326.6,381.2 1326.6,378.2 1326.7,375.2 1326.7,372.2 1326.8,369.2 1326.8,366.2 1326.9,363.2 1326.9,360.2 1327.0,357.2 1327.0,354.2 1327.0,351.2 1327.1,348.2 1327.1,345.2 1327.1,342.2 1327.1,339.2 1327.1,336.2 1327.2,333.1 1327.2,330.1 1327.2,327.1 1327.2,324.1 1327.2,321.1 1327.2,318.1 1327.2,315.1 1327.3,312.1 1327.3,309.1 1327.3,306.1 1327.3,303.1 1327.3,300.1 1327.3,297.1 1327.3,294.1 1327.3,291.1" fill="none" stroke="#3BC171" stroke-width="12.2" stroke-linecap="round" stroke-linejoin="round"/>
<path d="M403.9,1330.0a6.1,6.1 0 1,0 12.2,0a6.1,6.1 0 1,0 -12.2,0zM599.2,1330.0a6.1,6.1 0 1,0 12.2,0a6.1,6.1 0 1,0 -12.2,0zM652.7,1330.0a6.1,6.1 0 1,0 12.2,0a6.1,6.1 0 1,0 -12.2,0zM689.5,1330.0a6.1,6.1 0 1,0 12.2,0a6.1,6.1 0 1,0 -12.2,0zM718.4,1330.0a6.1,6.1 0 1,0 12.2,0a6.1,6.1 0 1,0 -12.2,0zM741.4,1330.0a6.1,6.1 0 1,0 12.2,0a6.1,6.1 0 1,0 -12.2,0zM758.4,1330.0a6.1,6.1 0 1,0 12.2,0a6.1,6.1 0 1,0 -12.2,0zM774.9,1330.0a6.1,6.1 0 1,0 12.2,0a6.1,6.1 0 1,0 -12.2,0zM788.6,1330.0a6.1,6.1 0 1,0 12.2,0a6.1,6.1 0 1,0 -12.2,0z" fill="#0000FA"/>
<polyline points="808.0,1330.0 811.0,1330.0 814.0,1330.0 817.0,1330.0 820.0,1330.0 823.0,1330.0 826.0,1330.0 829.0,1330.0 832.0,1330.0 835.0,1330.0 838.0,1330.0 841.0,1330.0 844.0,1330.0 847.0,1330.0 850.0,1330.0 853.0,1330.0 856.0,1330.0 859.0,1330.0 862.0,1330.0 865.0,1330.0 868.0,1330.0 871.0,1330.0 874.0,1330.0 877.0,1330.0 880.0,1330.0 883.0,1330.0 886.0,1330.0 889.0,1330.0 892.0,1330.0 895.0,1330.0 898.0,1330.0 901.0,1330.0 904.0,1330.0 907.0,1330.0 910.0,1330.0 913.0,1330.0 916.0,1330.0 919.0,1329.8 922.0,1329.6 925.0,1329.3 928.0,1328.9 930.9,1328.4 933.9,1327.9 936.8,1327.2 939.8,1326.5 942.7,1325.8 945.6,1325.1 948.5,1324.3 951.4,1323.5 954.2,1322.6 957.1,1321.7 960.0,1320.8 962.8,1319.9 965.7,1319.0 968.6,1318.1 971.5,1317.3 974.4,1316.5 977.3,1315.8 980.2,1315.1 983.1,1314.4 986.0,1313.7 989.0,1313.0 991.9,1312.3 994.8,1311.6 997.7,1310.8 1000.6,1310.0 1003.4,1309.1 1006.3,1308.1 1009.1,1307.1 1011.9,1306.1 1014.8,1305.2 1017.7,1304.3 1020.6,1303.5 1023.4,1302.7 1026.3,1302.0 1029.3,1301.2 1032.2,1300.5 1035.1,1299.7 1038.0,1299.0 1040.9,1298.3 1043.8,1297.7 1046.8,1297.0 1049.7,1296.3 1052.6,1295.7 1055.6,1295.1 1058.5,1294.4 1061.4,1293.8 1064.4,1293.2 1067.3,1292.5 1070.2,1291.8 1073.1,1291.2 1076.1,1290.5 1079.0,1289.9 1081.9,1289.2 1084.9,1288.5 1087.8,1287.9 1090.7,1287.2 1093.6,1286.6 1096.6,1285.9 1099.5,1285.3 1102.4,1284.7 1105.4,1284.1 1108.3,1283.5 1111.3,1282.9 1114.2,1282.3 1117.1,1281.7 1120.1,1281.1 1123.0,1280.5 1126.0,1279.9 1128.9,1279.3 1131.9,1278.7 1134.8,1278.1 1137.7,1277.5 1140.7,1276.9 1143.6,1276.2 1146.5,1275.6 1149.5,1275.0 1152.4,1274.3 1155.3,1273.7 1158.3,1273.1 1161.2,1272.4 1164.1,1271.8 1167.1,1271.1 1170.0,1270.4 1172.9,1269.7 1175.8,1269.0 1178.7,1268.2 1181.6,1267.5 1184.5,1266.7 1187.4,1265.9 1190.3,1265.1 1193.2,1264.3 1196.1,1263.4 1198.9,1262.6 1201.8,1261.7 1204.7,1260.8 1207.6,1259.9 1210.4,1259.0 1213.3,1258.1 1216.1,1257.1 1219.0,1256.2 1221.8,1255.2 1224.6,1254.3 1227.5,1253.3 1230.3,1252.3 1233.1,1251.2 1236.0,1250.2 1238.8,1249.2 1241.6,1248.1 1244.4,1247.1 1247.2,1246.0 1250.0,1245.0 1252.8,1243.9 1255.7,1242.9 1258.5,1241.9 1261.3,1240.8 1264.1,1239.8 1267.0,1238.7 1269.8,1237.6 1272.6,1236.6 1275.4,1235.4 1278.1,1234.3 1280.9,1233.2 1283.7,1232.0 1286.4,1230.8 1289.1,1229.5 1291.8,1228.3 1294.5,1226.9 1297.1,1225.5 1299.8,1224.1 1302.4,1222.7 1305.0,1221.2 1307.6,1219.7 1310.2,1218.2 1312.8,1216.6 1315.4,1215.0 1317.9,1213.5 1320.5,1211.9 1323.0,1210.3 1325.6,1208.7 1328.1,1207.1 1330.7,1205.5 1333.2,1203.9 1335.7,1202.2 1338.2,1200.6 1340.7,1198.9 1343.2,1197.2 1345.6,1195.5 1348.1,1193.7 1350.5,1191.9 1352.9,1190.1 1355.3,1188.3 1357.7,1186.4 1360.0,1184.5 1362.3,1182.6 1364.6,1180.6 1366.8,1178.6 1368.9,1176.5 1370.9,1174.4 1372.9,1172.1 1374.8,1169.9 1376.7,1167.5 1378.6,1165.2 1380.5,1162.8 1382.3,1160.4 1384.1,1158.0 1385.9,1155.6 1387.8,1153.2 1389.6,1150.8 1391.5,1148.5 1393.4,1146.1 1395.3,1143.8 1397.1,1141.4 1399.0,1139.0 1400.8,1136.7 1402.6,1134.3 1404.3,1131.8 1406.1,1129.4 1407.8,1126.9 1409.4,1124.4 1411.0,1121.9 1412.7,1119.4 1414.2,1116.8 1415.8,1114.3 1417.3,1111.7 1418.9,1109.1 1420.4,1106.5 1421.9,1103.9 1423.4,1101.3 1424.9,1098.7 1426.5,1096.1 1428.0,1093.6 1429.5,1091.0 1431.1,1088.4 1432.6,1085.8 1434.1,1083.2 1435.6,1080.6 1437.1,1078.0 1438.6,1075.4 1440.1,1072.8 1441.5,1070.1 1443.0,1067.5 1444.4,1064.9 1445.7,1062.2 1447.1,1059.5 1448.4,1056.8 1449.7,1054.1 1451.0,1051.4 1452.3,1048.7 1453.6,1046.0 1454.8,1043.3 1456.1,1040.5 1457.3,1037.8 1458.5,1035.0 1459.6,1032.2 1460.8,1029.4 1461.9,1026.6 1462.9,1023.8 1463.9,1021.0 1464.9,1018.2 1465.8,1015.4 1466.8,1012.5 1467.6,1009.7 1468.5,1006.8 1469.4,1003.9 1470.2,1001.0 1471.0,998.1 1471.8,995.2 1472.5,992.3 1473.3,989.4 1474.0,986.5 1474.7,983.5 1475.4,980.6 1476.2,977.7 1476.8,974.8 1477.5,971.9 1478.2,968.9 1478.9,966.0 1479.5,963.1 1480.1,960.1 1480.7,957.2 1481.3,954.3 1481.9,951.3 1482.4,948.4 1483.0,945.4 1483.5,942.5 1484.0,939.5 1484.4,936.5 1484.9,933.6 1485.3,930.6 1485.8,927.6 1486.2,924.7 1486.6,921.7 1487.0,918.7 1487.4,915.7 1487.8,912.8 1488.2,909.8 1488.7,906.8 1489.1,903.8 1489.5,900.9 1489.9,897.9 1490.3,894.9 1490.7,891.9 1491.2,889.0 1491.6,886.0 1492.1,883.0 1492.6,880.1 1493.1,877.1 1493.6,874.2 1494.1,871.2 1494.5,868.2 1495.0,865.3 1495.5,862.3 1496.0,859.3 1496.5,856.4 1496.9,853.4 1497.4,850.4 1497.8,847.5 1498.2,844.5 1498.6,841.5 1499.0,838.5 1499.3,835.6 1499.6,832.6 1499.9,829.6 1500.2,826.6 1500.5,823.6 1500.8,820.7 1501.1,817.7 1501.3,814.7 1501.6,811.7 1501.8,808.7 1502.1,805.7 1502.3,802.7 1502.6,799.7 1502.8,796.7 1503.0,793.7 1503.3,790.7 1503.5,787.7 1503.7,784.7 1504.0,781.8 1504.2,778.8 1504.4,775.8 1504.7,772.8 1504.9,769.8 1505.1,766.8 1505.4,763.8 1505.6,760.8 1505.8,757.8 1506.1,754.8 1506.3,751.8 1506.5,748.8 1506.8,745.8 1507.0,742.9 1507.2,739.9 1507.4,736.9 1507.7,733.9 1507.9,730.9 1508.1,727.9 1508.3,724.9 1508.5,721.9 1508.8,718.9 1509.0,715.9 1509.2,712.9 1509.4,709.9 1509.6,706.9 1509.8,703.9 1510.0,700.9 1510.2,697.9 1510.4,694.9 1510.6,692.0 1510.8,689.0 1511.0,686.0 1511.2,683.0 1511.3,680.0 1511.5,677.0 1511.7,674.0 1511.9,671.0 1512.0,668.0 1512.2,665.0 1512.4,662.0 1512.5,659.0 1512.7,656.0 1512.8,653.0 1513.0,650.0 1513.1,647.0 1513.3,644.0 1513.4,641.0 1513.6,638.0 1513.7,635.0 1513.9,632.0 1514.0,629.0 1514.1,626.0 1514.3,623.0 1514.4,620.0 1514.5,617.0 1514.7,614.0 1514.8,611.0 1514.9,608.0 1515.0,605.0 1515.2,602.0 1515.3,599.0 1515.4,596.0 1515.5,593.0 1515.6,590.0 1515.8,587.0 1515.9,584.0 1516.0,581.0 1516.1,578.0 1516.2,575.0 1516.3,572.0 1516.4,569.1 1516.5,566.1 1516.6,563.1 1516.7,560.1 1516.8,557.1 1516.9,554.1 1517.0,551.1 1517.1,548.1 1517.2,545.1 1517.3,542.1 1517.4,539.1 1517.5,536.1 1517.6,533.1 1517.7,530.1 1517.8,527.1 1517.8,524.1 1517.9,521.1 1518.0,518.1 1518.1,515.1 1518.2,512.1 1518.3,509.1 1518.3,506.1 1518.4,503.1 1518.5,500.1 1518.6,497.1 1518.7,494.1 1518.7,491.1 1518.8,488.1 1518.9,485.1 1519.0,482.1 1519.0,479.1 1519.1,476.1 1519.2,473.1 1519.2,470.1 1519.3,467.1 1519.4,464.1 1519.4,461.1 1519.5,458.0 1519.6,455.0 1519.6,452.0 1519.7,449.0 1519.8,446.0 1519.8,443.0 1519.9,440.0 1519.9,437.0 1520.0,434.0 1520.1,431.0 1520.1,428.0 1520.2,425.0 1520.2,422.0 1520.3,419.0 1520.3,416.0 1520.4,413.0 1520.5,410.0 1520.5,407.0 1520.6,404.0 1520.6,401.0 1520.7,398.0 1520.7,395.0 1520.8,392.0 1520.9,389.0 1520.9,386.0 1521.0,383.0 1521.0,380.0 1521.1,377.0 1521.1,374.0 1521.2,371.0 1521.2,368.0 1521.3,365.0 1521.4,362.0 1521.4,359.0 1521.5,356.0 1521.5,353.0 1521.6,350.0 1521.6,347.0 1521.7,344.0 1521.7,341.0 1521.8,338.0 1521.8,335.0 1521.9,332.0 1521.9,329.0 1522.0,326.0 1522.0,323.0 1522.1,320.0 1522.1,317.0 1522.2,314.0 1522.2,311.0 1522.3,308.0 1522.3,305.0 1522.4,302.0 1522.4,299.0 1522.5,296.0 1522.5,293.0 1522.6,290.0 1522.6,287.0 1522.7,284.0 1522.7,281.0 1522.8,278.0 1522.8,275.0 1522.9,272.0 1523.0,269.0 1523.0,266.0 1523.1,263.0 1523.2,260.0 1523.2,257.0 1523.3,254.0 1523.4,251.0 1523.4,248.0 1523.5,245.0 1523.6,242.0 1523.6,239.0 1523.7,236.0 1523.8,233.0 1523.9,230.0 1523.9,227.0 1524.0,224.0" fill="none" stroke="#0000FA" stroke-width="12.2" stroke-linecap="round" stroke-linejoin="round"/>
<path d="M247.6,1330.0a6.1,6.1 0 1,0 12.2,0a6.1,6.1 0 1,0 -12.2,0zM296.6,1330.0a6.1,6.1 0 1,0 12.2,0a6.1,6.1 0 1,0 -12.2,0zM331.4,1330.0a6.1,6.1 0 1,0 12.2,0a6.1,6.1 0 1,0 -12.2,0zM358.3,1330.0a6.1,6.1 0 1,0 12.2,0a6.1,6.1 0 1,0 -12.2,0zM380.4,1330.0a6.1,6.1 0 1,0 12.2,0a6.1,6.1 0 1,0 -12.2,0zM399.0,1330.0a6.1,6.1 0 1,0 12.2,0a6.1,6.1 0 1,0 -12.2,0zM415.1,1330.0a6.1,6.1 0 1,0 12.2,0a6.1,6.1 0 1,0 -12.2,0zM429.4,1330.0a6.1,6.1 0 1,0 12.2,0a6.1,6.1 0 1,0 -12.2,0zM442.1,1330.0a6.1,6.1 0 1,0 12.2,0a6.1,6.1 0 1,0 -12.2,0zM453.6,1330.0a6.1,6.1 0 1,0 12.2,0a6.1,6.1 0 1,0 -12.2,0zM464.1,1330.0a6.1,6.1 0 1,0 12.2,0a6.1,6.1 0 1,0 -12.2,0zM473.8,1330.0a6.1,6.1 0 1,0 12.2,0a6.1,6.1 0 1,0 -12.2,0zM482.7,1330.0a6.1,6.1 0 1,0 12.2,0a6.1,6.1 0 1,0 -12.2,0zM491.1,1330.0a6.1,6.1 0 1,0 12.2,0a6.1,6.1 0 1,0 -12.2,0zM498.9,1330.0a6.1,6.1 0 1,0 12.2,0a6.1,6.1 0 1,0 -12.2,0zM506.2,1330.0a6.1,6.1 0 1,0 12.2,0a6.1,6.1 0 1,0 -12.2,0zM596.7,1330.0a6.1,6.1 0 1,0 12.2,0a6.1,6.1 0 1,0 -12.2,0zM650.5,1330.0a6.1,6.1 0 1,0 12.2,0a6.1,6.1 0 1,0 -12.2,0zM687.1,1330.0a6.1,6.1 0 1,0 12.2,0a6.1,6.1 0 1,0 -12.2,0zM716.0,1330.0a6.1,6.1 0 1,0 12.2,0a6.1,6.1 0 1,0 -12.2,0zM738.3,1330.0a6.1,6.1 0 1,0 12.2,0a6.1,6.1 0 1,0 -12.2,0zM757.5,1323.7a6.1,6.1 0 1,0 12.2,0a6.1,6.1 0 1,0 -12.2,0zM773.9,1318.2a6.1,6.1 0 1,0 12.2,0a6.1,6.1 0 1,0 -12.2,0zM788.6,1313.6a6.1,6.1 0 1,0 12.2,0a6.1,6.1 0 1,0 -12.2,0zM802.3,1309.0a6.1,6.1 0 1,0 12.2,0a6.1,6.1 0 1,0 -12.2,0z" fill="#80BFFF"/>
<polyline points="820.3,1304.5 823.2,1303.8 826.2,1303.1 829.1,1302.4 832.0,1301.6 834.9,1300.8 837.8,1300.0 840.7,1299.2 843.6,1298.3 846.4,1297.4 849.3,1296.5 852.2,1295.6 855.0,1294.7 857.8,1293.7 860.6,1292.7 863.4,1291.6 866.2,1290.4 869.0,1289.3 871.8,1288.1 874.6,1287.0 877.4,1285.9 880.2,1284.9 883.1,1284.0 885.9,1283.1 888.8,1282.3 891.7,1281.4 894.6,1280.6 897.5,1279.7 900.3,1278.8 903.2,1277.9 906.0,1277.0 908.9,1276.0 911.7,1275.0 914.6,1274.1 917.4,1273.1 920.3,1272.2 923.2,1271.3 926.0,1270.4 928.9,1269.6 931.8,1268.8 934.7,1268.0 937.6,1267.2 940.5,1266.4 943.4,1265.6 946.3,1264.9 949.2,1264.1 952.1,1263.4 955.0,1262.7 958.0,1261.9 960.9,1261.2 963.8,1260.5 966.7,1259.7 969.6,1259.0 972.5,1258.2 975.4,1257.4 978.3,1256.7 981.2,1255.9 984.1,1255.1 987.0,1254.4 990.0,1253.6 992.9,1252.8 995.8,1252.1 998.7,1251.3 1001.6,1250.5 1004.5,1249.8 1007.4,1249.0 1010.3,1248.3 1013.2,1247.5 1016.1,1246.8 1019.0,1246.0 1021.9,1245.3 1024.8,1244.5 1027.7,1243.8 1030.7,1243.0 1033.6,1242.3 1036.5,1241.5 1039.4,1240.8 1042.3,1240.1 1045.2,1239.3 1048.1,1238.6 1051.1,1237.9 1054.0,1237.2 1056.9,1236.4 1059.8,1235.7 1062.7,1235.0 1065.6,1234.3 1068.6,1233.6 1071.5,1232.9 1074.4,1232.2 1077.3,1231.6 1080.3,1230.9 1083.2,1230.2 1086.1,1229.5 1089.0,1228.8 1092.0,1228.2 1094.9,1227.5 1097.8,1226.8 1100.8,1226.1 1103.7,1225.4 1106.6,1224.8 1109.5,1224.1 1112.5,1223.4 1115.4,1222.7 1118.3,1222.1 1121.2,1221.4 1124.2,1220.7 1127.1,1220.0 1130.0,1219.4 1132.9,1218.7 1135.9,1218.0 1138.8,1217.3 1141.7,1216.6 1144.6,1215.9 1147.5,1215.1 1150.5,1214.4 1153.4,1213.7 1156.3,1213.0 1159.2,1212.2 1162.1,1211.5 1165.0,1210.7 1167.9,1210.0 1170.8,1209.2 1173.8,1208.5 1176.7,1207.7 1179.6,1206.9 1182.5,1206.1 1185.4,1205.4 1188.3,1204.6 1191.2,1203.8 1194.0,1203.0 1196.9,1202.1 1199.8,1201.3 1202.7,1200.5 1205.6,1199.7 1208.5,1198.9 1211.4,1198.0 1214.3,1197.2 1217.2,1196.4 1220.1,1195.6 1223.0,1194.8 1225.9,1194.0 1228.8,1193.2 1231.7,1192.3 1234.5,1191.5 1237.4,1190.7 1240.3,1189.8 1243.2,1189.0 1246.1,1188.1 1248.9,1187.2 1251.7,1186.2 1254.6,1185.2 1257.4,1184.2 1260.2,1183.2 1263.0,1182.1 1265.8,1181.1 1268.6,1180.0 1271.4,1178.9 1274.2,1177.7 1277.0,1176.6 1279.8,1175.5 1282.6,1174.3 1285.4,1173.2 1288.1,1172.0 1290.9,1170.9 1293.7,1169.7 1296.4,1168.5 1299.2,1167.3 1301.9,1166.1 1304.7,1164.9 1307.4,1163.6 1310.2,1162.4 1313.4,1161.0 1317.0,1159.4 1320.0,1158.0 1321.8,1157.2 1322.1,1158.3 1322.3,1162.0 1322.3,1165.5 1322.1,1169.4 1322.0,1171.9 1322.6,1171.6 1324.7,1170.3 1327.8,1168.3 1331.2,1166.2 1334.1,1164.4 1336.7,1162.9 1339.3,1161.3 1341.9,1159.8 1344.5,1158.3 1347.1,1156.7 1349.6,1155.1 1352.0,1153.4 1354.4,1151.6 1356.9,1149.8 1359.3,1148.0 1361.6,1146.1 1364.0,1144.3 1366.4,1142.4 1368.7,1140.6 1371.1,1138.7 1373.5,1136.9 1375.9,1135.0 1378.2,1133.1 1380.6,1131.3 1382.9,1129.3 1385.2,1127.4 1387.4,1125.4 1389.6,1123.4 1391.8,1121.4 1394.0,1119.3 1396.2,1117.2 1398.3,1115.0 1400.4,1112.9 1402.5,1110.7 1404.5,1108.4 1406.5,1106.2 1408.4,1103.9 1410.2,1101.6 1412.0,1099.2 1413.8,1096.8 1415.6,1094.4 1417.3,1091.9 1419.0,1089.5 1420.7,1087.0 1422.3,1084.4 1423.9,1081.9 1425.5,1079.3 1427.1,1076.7 1428.7,1074.1 1430.2,1071.5 1431.7,1068.9 1433.2,1066.3 1434.7,1063.7 1436.1,1061.0 1437.6,1058.4 1439.0,1055.8 1440.4,1053.1 1441.8,1050.5 1443.1,1047.8 1444.5,1045.1 1445.8,1042.4 1447.1,1039.7 1448.4,1036.9 1449.6,1034.2 1450.9,1031.5 1452.1,1028.7 1453.3,1025.9 1454.5,1023.2 1455.7,1020.4 1456.8,1017.7 1458.0,1014.9 1459.1,1012.1 1460.3,1009.3 1461.4,1006.5 1462.5,1003.7 1463.6,1000.9 1464.7,998.1 1465.7,995.3 1466.8,992.5 1467.8,989.6 1468.7,986.8 1469.7,983.9 1470.6,981.1 1471.4,978.2 1472.3,975.4 1473.1,972.5 1473.9,969.6 1474.6,966.7 1475.4,963.7 1476.1,960.8 1476.8,957.9 1477.5,955.0 1478.2,952.0 1478.9,949.1 1479.5,946.2 1480.2,943.3 1480.9,940.3 1481.5,937.4 1482.2,934.5 1482.8,931.5 1483.4,928.6 1484.1,925.6 1484.7,922.7 1485.3,919.8 1485.9,916.8 1486.5,913.9 1487.1,910.9 1487.7,908.0 1488.2,905.0 1488.8,902.1 1489.4,899.1 1489.9,896.2 1490.5,893.2 1491.0,890.3 1491.6,887.3 1492.1,884.4 1492.7,881.4 1493.2,878.4 1493.7,875.5 1494.3,872.5 1494.8,869.6 1495.3,866.6 1495.9,863.7 1496.4,860.7 1496.9,857.7 1497.4,854.8 1497.9,851.8 1498.3,848.8 1498.8,845.9 1499.2,842.9 1499.6,839.9 1500.0,836.9 1500.4,834.0 1500.8,831.0 1501.1,828.0 1501.5,825.0 1501.8,822.0 1502.2,819.1 1502.5,816.1 1502.8,813.1 1503.1,810.1 1503.4,807.1 1503.7,804.1 1504.0,801.1 1504.3,798.1 1504.6,795.1 1504.8,792.1 1505.1,789.1 1505.4,786.1 1505.6,783.2 1505.9,780.2 1506.1,777.2 1506.4,774.2 1506.6,771.2 1506.9,768.2 1507.1,765.2 1507.3,762.2 1507.5,759.2 1507.7,756.2 1507.9,753.2 1508.2,750.2 1508.4,747.2 1508.6,744.2 1508.8,741.2 1509.0,738.2 1509.2,735.2 1509.4,732.2 1509.6,729.2 1509.8,726.2 1510.0,723.2 1510.2,720.2 1510.4,717.2 1510.6,714.2 1510.8,711.2 1511.1,708.2 1511.3,705.2 1511.5,702.2 1511.7,699.3 1511.9,696.3 1512.1,693.3 1512.3,690.3 1512.5,687.3 1512.7,684.3 1512.9,681.3 1513.1,678.3 1513.3,675.3 1513.5,672.3 1513.7,669.3 1513.9,666.3 1514.1,663.3 1514.3,660.3 1514.5,657.3 1514.6,654.3 1514.8,651.3 1515.0,648.3 1515.2,645.3 1515.3,642.3 1515.5,639.3 1515.7,636.3 1515.8,633.3 1516.0,630.3 1516.2,627.3 1516.3,624.3 1516.5,621.3 1516.7,618.3 1516.8,615.3 1517.0,612.3 1517.2,609.3 1517.3,606.3 1517.5,603.3 1517.6,600.3 1517.8,597.3 1517.9,594.3 1518.1,591.3 1518.2,588.3 1518.4,585.3 1518.5,582.3 1518.7,579.3 1518.8,576.3 1519.0,573.3 1519.1,570.3 1519.2,567.3 1519.4,564.3 1519.5,561.3 1519.7,558.3 1519.8,555.3 1519.9,552.3 1520.1,549.3 1520.2,546.3 1520.4,543.3 1520.5,540.3 1520.6,537.3 1520.8,534.3 1520.9,531.3 1521.0,528.3 1521.2,525.3 1521.3,522.3 1521.4,519.3 1521.5,516.3 1521.7,513.3 1521.8,510.3 1521.9,507.2 1522.0,504.2 1522.1,501.2 1522.3,498.2 1522.4,495.2 1522.5,492.2 1522.6,489.2 1522.7,486.2 1522.8,483.2 1522.9,480.2 1523.0,477.2 1523.1,474.2 1523.2,471.2 1523.3,468.2 1523.4,465.2 1523.5,462.2 1523.5,459.2 1523.6,456.2 1523.7,453.2 1523.8,450.2 1523.9,447.2 1524.0,444.2 1524.1,441.2 1524.1,438.2 1524.2,435.2 1524.3,432.2 1524.4,429.2 1524.5,426.2 1524.5,423.2 1524.6,420.2 1524.7,417.2 1524.8,414.2 1524.8,411.2 1524.9,408.2 1525.0,405.1 1525.0,402.1 1525.1,399.1 1525.2,396.1 1525.3,393.1 1525.3,390.1 1525.4,387.1 1525.5,384.1 1525.5,381.1 1525.6,378.1 1525.7,375.1 1525.7,372.1 1525.8,369.1 1525.9,366.1 1525.9,363.1 1526.0,360.1 1526.1,357.1 1526.1,354.1 1526.2,351.1 1526.3,348.1 1526.3,345.1 1526.4,342.1 1526.4,339.1 1526.5,336.1 1526.6,333.1 1526.6,330.1 1526.7,327.1 1526.7,324.1 1526.8,321.0 1526.9,318.0 1526.9,315.0 1527.0,312.0 1527.0,309.0 1527.1,306.0 1527.1,303.0 1527.2,300.0 1527.3,297.0 1527.3,294.0 1527.4,291.0 1527.4,288.0 1527.5,285.0 1527.5,282.0 1527.6,279.0 1527.6,276.0 1527.7,273.0 1527.7,270.0 1527.8,267.0 1527.9,264.0 1527.9,261.0 1528.0,258.0 1528.0,255.0 1528.1,252.0 1528.1,249.0 1528.2,246.0 1528.2,242.9 1528.3,239.9 1528.3,236.9 1528.4,233.9 1528.4,230.9 1528.5,227.9 1528.5,224.9 1528.6,221.9 1528.6,218.9 1528.7,215.9 1528.7,212.9 1528.8,209.9 1528.8,206.9" fill="none" stroke="#80BFFF" stroke-width="12.2" stroke-linecap="round" stroke-linejoin="round"/>
</g>
<g stroke="#000" stroke-width="3.6" fill="none" shape-rendering="crispEdges">
<rect x="192" y="48.6" width="1391.1" height="1395.4"/>
<path d="M192,1400.5h8.8M1583.1,1400.5h-8.8M192,1356.9h16.8M1583.1,1356.9h-16.8M192,1313.3h8.8M1583.1,1313.3h-8.8M192,1269.7h16.8M1583.1,1269.7h-16.8M192,1226.1h8.8M1583.1,1226.1h-8.8M192,1182.5h16.8M1583.1,1182.5h-16.8M192,1138.9h8.8M1583.1,1138.9h-8.8M192,1095.3h16.8M1583.1,1095.3h-16.8M192,1051.7h8.8M1583.1,1051.7h-8.8M192,1008.1h16.8M1583.1,1008.1h-16.8M192,964.5h8.8M1583.1,964.5h-8.8M192,920.9h16.8M1583.1,920.9h-16.8M192,877.3h8.8M1583.1,877.3h-8.8M192,833.7h16.8M1583.1,833.7h-16.8M192,790.1h8.8M1583.1,790.1h-8.8M192,746.5h16.8M1583.1,746.5h-16.8M192,702.9h8.8M1583.1,702.9h-8.8M192,659.3h16.8M1583.1,659.3h-16.8M192,615.7h8.8M1583.1,615.7h-8.8M192,572.1h16.8M1583.1,572.1h-16.8M192,528.5h8.8M1583.1,528.5h-8.8M192,484.9h16.8M1583.1,484.9h-16.8M192,441.3h8.8M1583.1,441.3h-8.8M192,397.7h16.8M1583.1,397.7h-16.8M192,354.1h8.8M1583.1,354.1h-8.8M192,310.5h16.8M1583.1,310.5h-16.8M192,266.9h8.8M1583.1,266.9h-8.8M192,223.3h16.8M1583.1,223.3h-16.8M192,179.7h8.8M1583.1,179.7h-8.8M192,136.1h16.8M1583.1,136.1h-16.8M192,92.5h8.8M1583.1,92.5h-8.8M275.8,1444v-8.8M324.7,1444v-8.8M359.5,1444v-8.8M386.5,1444v-8.8M408.5,1444v-8.8M427.1,1444v-8.8M443.3,1444v-8.8M457.5,1444v-8.8M470.2,1444v-16.8M554.0,1444v-8.8M603.0,1444v-8.8M637.7,1444v-8.8M664.7,1444v-8.8M686.7,1444v-8.8M705.3,1444v-8.8M721.5,1444v-8.8M735.7,1444v-8.8M748.4,1444v-16.8M832.2,1444v-8.8M881.2,1444v-8.8M915.9,1444v-8.8M942.9,1444v-8.8M964.9,1444v-8.8M983.6,1444v-8.8M999.7,1444v-8.8M1013.9,1444v-8.8M1026.7,1444v-16.8M1110.4,1444v-8.8M1159.4,1444v-8.8M1194.2,1444v-8.8M1221.1,1444v-8.8M1243.2,1444v-8.8M1261.8,1444v-8.8M1277.9,1444v-8.8M1292.1,1444v-8.8M1304.9,1444v-16.8M1388.6,1444v-8.8M1437.6,1444v-8.8M1472.4,1444v-8.8M1499.3,1444v-8.8M1521.4,1444v-8.8M1540.0,1444v-8.8M1556.1,1444v-8.8M1570.4,1444v-8.8"/>
</g>
<g font-family="'Liberation Sans', Arial, Helvetica, sans-serif" fill="#000" stroke="#000" stroke-width="1" stroke-linejoin="round" style="font-kerning:none">
<text x="166.9" y="1461.4" font-size="58.8" text-anchor="end" letter-spacing="-4.5" stroke-width="1.4"><tspan font-family="NanumGothic, 'Liberation Sans', sans-serif" font-weight="bold" font-size="53.8" letter-spacing="-4.50" stroke-width="1">1</tspan>0</text>
<text x="166.9" y="1374.2" font-size="58.8" text-anchor="end" letter-spacing="-4.5" stroke-width="1.4"><tspan font-family="NanumGothic, 'Liberation Sans', sans-serif" font-weight="bold" font-size="53.8" letter-spacing="-4.50" stroke-width="1">1</tspan><tspan font-family="NanumGothic, 'Liberation Sans', sans-serif" font-weight="bold" font-size="53.8" letter-spacing="-4.50" stroke-width="1">1</tspan></text>
<text x="166.9" y="1287.0" font-size="58.8" text-anchor="end" letter-spacing="-4.5" stroke-width="1.4"><tspan font-family="NanumGothic, 'Liberation Sans', sans-serif" font-weight="bold" font-size="53.8" letter-spacing="-4.50" stroke-width="1">1</tspan>2</text>
<text x="166.9" y="1199.8" font-size="58.8" text-anchor="end" letter-spacing="-4.5" stroke-width="1.4"><tspan font-family="NanumGothic, 'Liberation Sans', sans-serif" font-weight="bold" font-size="53.8" letter-spacing="-4.50" stroke-width="1">1</tspan>3</text>
<text x="166.9" y="1112.6" font-size="58.8" text-anchor="end" letter-spacing="-4.5" stroke-width="1.4"><tspan font-family="NanumGothic, 'Liberation Sans', sans-serif" font-weight="bold" font-size="53.8" letter-spacing="-4.50" stroke-width="1">1</tspan>4</text>
<text x="166.9" y="1025.4" font-size="58.8" text-anchor="end" letter-spacing="-4.5" stroke-width="1.4"><tspan font-family="NanumGothic, 'Liberation Sans', sans-serif" font-weight="bold" font-size="53.8" letter-spacing="-4.50" stroke-width="1">1</tspan>5</text>
<text x="166.9" y="938.2" font-size="58.8" text-anchor="end" letter-spacing="-4.5" stroke-width="1.4"><tspan font-family="NanumGothic, 'Liberation Sans', sans-serif" font-weight="bold" font-size="53.8" letter-spacing="-4.50" stroke-width="1">1</tspan>6</text>
<text x="166.9" y="851.0" font-size="58.8" text-anchor="end" letter-spacing="-4.5" stroke-width="1.4"><tspan font-family="NanumGothic, 'Liberation Sans', sans-serif" font-weight="bold" font-size="53.8" letter-spacing="-4.50" stroke-width="1">1</tspan>7</text>
<text x="166.9" y="763.8" font-size="58.8" text-anchor="end" letter-spacing="-4.5" stroke-width="1.4"><tspan font-family="NanumGothic, 'Liberation Sans', sans-serif" font-weight="bold" font-size="53.8" letter-spacing="-4.50" stroke-width="1">1</tspan>8</text>
<text x="166.9" y="676.6" font-size="58.8" text-anchor="end" letter-spacing="-4.5" stroke-width="1.4"><tspan font-family="NanumGothic, 'Liberation Sans', sans-serif" font-weight="bold" font-size="53.8" letter-spacing="-4.50" stroke-width="1">1</tspan>9</text>
<text x="166.9" y="589.4" font-size="58.8" text-anchor="end" letter-spacing="-4.5" stroke-width="1.4">20</text>
<text x="166.9" y="502.2" font-size="58.8" text-anchor="end" letter-spacing="-4.5" stroke-width="1.4">2<tspan font-family="NanumGothic, 'Liberation Sans', sans-serif" font-weight="bold" font-size="53.8" letter-spacing="-4.50" stroke-width="1">1</tspan></text>
<text x="166.9" y="415.0" font-size="58.8" text-anchor="end" letter-spacing="-4.5" stroke-width="1.4">22</text>
<text x="166.9" y="327.8" font-size="58.8" text-anchor="end" letter-spacing="-4.5" stroke-width="1.4">23</text>
<text x="166.9" y="240.6" font-size="58.8" text-anchor="end" letter-spacing="-4.5" stroke-width="1.4">24</text>
<text x="166.9" y="153.4" font-size="58.8" text-anchor="end" letter-spacing="-4.5" stroke-width="1.4">25</text>
<text x="166.9" y="66.2" font-size="58.8" text-anchor="end" letter-spacing="-4.5" stroke-width="1.4">26</text>
<text x="142.0" y="1515.6" font-size="58.8" letter-spacing="-4.5" stroke-width="1.4"><tspan font-family="NanumGothic, 'Liberation Sans', sans-serif" font-weight="bold" font-size="53.8" letter-spacing="-3.00" stroke-width="1">1</tspan>0<tspan dx="6.3" dy="-23.5" font-size="42" letter-spacing="-1">−2</tspan></text>
<text x="420.2" y="1515.6" font-size="58.8" letter-spacing="-4.5" stroke-width="1.4"><tspan font-family="NanumGothic, 'Liberation Sans', sans-serif" font-weight="bold" font-size="53.8" letter-spacing="-3.00" stroke-width="1">1</tspan>0<tspan dx="6.3" dy="-23.5" font-size="42" letter-spacing="-1">−<tspan font-family="NanumGothic, 'Liberation Sans', sans-serif" font-weight="bold" font-size="38.4" letter-spacing="-1.00" stroke-width="1">1</tspan></tspan></text>
<text x="704.9" y="1515.6" font-size="58.8" letter-spacing="-4.5" stroke-width="1.4"><tspan font-family="NanumGothic, 'Liberation Sans', sans-serif" font-weight="bold" font-size="53.8" letter-spacing="-3.00" stroke-width="1">1</tspan>0<tspan dx="6.3" dy="-23.5" font-size="42" letter-spacing="-1">0</tspan></text>
<text x="983.2" y="1515.6" font-size="58.8" letter-spacing="-4.5" stroke-width="1.4"><tspan font-family="NanumGothic, 'Liberation Sans', sans-serif" font-weight="bold" font-size="53.8" letter-spacing="-3.00" stroke-width="1">1</tspan>0<tspan dx="6.3" dy="-23.5" font-size="42" letter-spacing="-1"><tspan font-family="NanumGothic, 'Liberation Sans', sans-serif" font-weight="bold" font-size="38.4" letter-spacing="-1.00" stroke-width="1" dx="7.8">1</tspan></tspan></text>
<text x="1261.4" y="1515.6" font-size="58.8" letter-spacing="-4.5" stroke-width="1.4"><tspan font-family="NanumGothic, 'Liberation Sans', sans-serif" font-weight="bold" font-size="53.8" letter-spacing="-3.00" stroke-width="1">1</tspan>0<tspan dx="6.3" dy="-23.5" font-size="42" letter-spacing="-1">2</tspan></text>
<text x="1539.6" y="1515.6" font-size="58.8" letter-spacing="-4.5" stroke-width="1.4"><tspan font-family="NanumGothic, 'Liberation Sans', sans-serif" font-weight="bold" font-size="53.8" letter-spacing="-3.00" stroke-width="1">1</tspan>0<tspan dx="6.3" dy="-23.5" font-size="42" letter-spacing="-1">3</tspan></text>
<text x="736.1" y="1601" font-size="60" style="white-space:pre">time  t  /  h</text>
<text transform="translate(67.9,1057.5) rotate(-90)" font-size="60.25" style="white-space:pre">crack length  a  /  mm</text>
<text x="233.4" y="1289" font-size="57">t<tspan dx="-0.7" dy="12" font-size="38.6">A</tspan></text>
<text x="625.5" y="1276.9" font-size="57">t<tspan dx="-0.7" dy="12" font-size="38.6">B</tspan></text>
<text x="1069" y="1109.8" font-size="57">t<tspan dx="-0.7" dy="12" font-size="38.6">C</tspan></text>
<text x="1240.3" y="232.1" font-size="57">t<tspan dx="-0.7" dy="12" font-size="38.6">D</tspan></text>
</g>
</svg>
</body></html>
